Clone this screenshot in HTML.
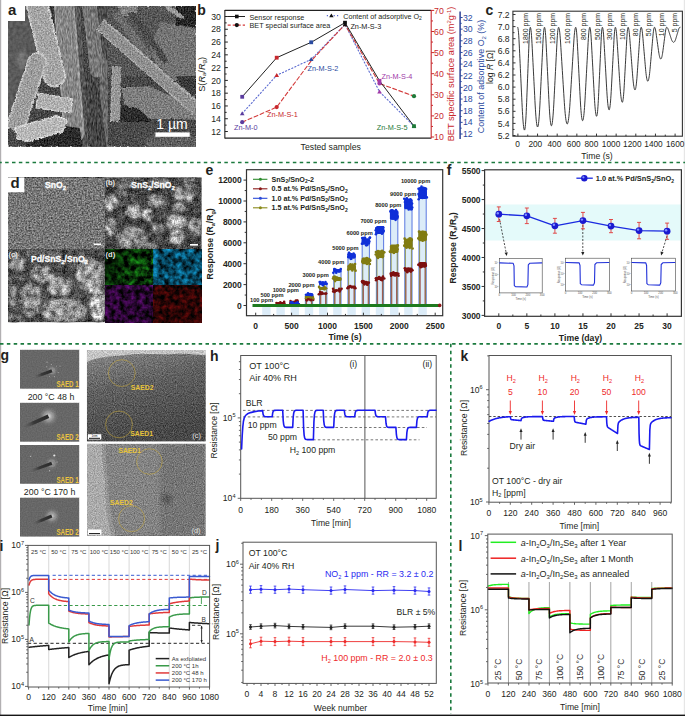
<!DOCTYPE html>
<html><head><meta charset="utf-8"><style>
html,body{margin:0;padding:0;background:#fff;}
svg{display:block;}
text{font-family:"Liberation Sans", sans-serif;}
</style></head><body>
<svg width="685" height="716" viewBox="0 0 685 716" font-family='"Liberation Sans", sans-serif'>
<defs>
<filter id="grain" x="0" y="0" width="100%" height="100%" color-interpolation-filters="sRGB">
  <feTurbulence type="fractalNoise" baseFrequency="0.3" numOctaves="2" seed="6" result="d"/>
  <feDisplacementMap in="SourceGraphic" in2="d" scale="4" xChannelSelector="R" yChannelSelector="G" result="disp"/>
  <feTurbulence type="fractalNoise" baseFrequency="0.7" numOctaves="2" seed="4" result="n"/>
  <feColorMatrix in="n" type="matrix" values="1 0 0 0 0 1 0 0 0 0 1 0 0 0 0 0 0 0 0 1" result="g"/>
  <feComposite in="disp" in2="g" operator="arithmetic" k1="0" k2="1" k3="0.5" k4="-0.25" result="c"/>
  <feComposite in="c" in2="SourceAlpha" operator="in"/>
</filter>
<filter id="grainS" x="0" y="0" width="100%" height="100%" color-interpolation-filters="sRGB">
  <feTurbulence type="fractalNoise" baseFrequency="0.3" numOctaves="2" seed="9" result="n"/>
  <feColorMatrix in="n" type="matrix" values="1 0 0 0 0 1 0 0 0 0 1 0 0 0 0 0 0 0 0 1" result="g"/>
  <feComposite in="SourceGraphic" in2="g" operator="arithmetic" k1="0" k2="1" k3="0.2" k4="-0.1" result="c"/>
  <feComposite in="c" in2="SourceAlpha" operator="in"/>
</filter>
<filter id="fib" x="0" y="0" width="100%" height="100%" color-interpolation-filters="sRGB">
  <feTurbulence type="fractalNoise" baseFrequency="0.8 0.22" numOctaves="2" seed="14" result="n"/>
  <feColorMatrix in="n" type="matrix" values="1 0 0 0 0 1 0 0 0 0 1 0 0 0 0 0 0 0 0 1" result="g"/>
  <feComposite in="SourceGraphic" in2="g" operator="arithmetic" k1="0" k2="1" k3="0.5" k4="-0.25" result="c"/>
  <feComposite in="c" in2="SourceAlpha" operator="in"/>
</filter>
<filter id="blur1" x="-10%" y="-10%" width="120%" height="120%"><feGaussianBlur stdDeviation="1"/></filter>
<filter id="blur2" x="-20%" y="-20%" width="140%" height="140%"><feGaussianBlur stdDeviation="2"/></filter>
<clipPath id="clipA"><rect x="8" y="6" width="188" height="140.7"/></clipPath>

<filter id="fineSn" x="0" y="0" width="100%" height="100%" color-interpolation-filters="sRGB">
  <feTurbulence type="fractalNoise" baseFrequency="0.62" numOctaves="2" seed="11" result="n"/>
  <feColorMatrix in="n" type="matrix" values="1 0 0 0 0 1 0 0 0 0 1 0 0 0 0 0 0 0 0 1" result="g"/>
  <feComposite in="SourceGraphic" in2="g" operator="arithmetic" k1="0" k2="1" k3="0.7" k4="-0.35"/>
</filter>
<filter id="clump1" x="0" y="0" width="100%" height="100%" color-interpolation-filters="sRGB">
  <feTurbulence type="fractalNoise" baseFrequency="0.1" numOctaves="4" seed="2" result="n1"/>
  <feColorMatrix in="n1" type="matrix" values="1 0 0 0 0 1 0 0 0 0 1 0 0 0 0 0 0 0 0 1" result="g1"/>
  <feComponentTransfer in="g1" result="c1"><feFuncR type="table" tableValues="0.04 0.06 0.1 0.17 0.3 0.45 0.58 0.7 0.83 1"/><feFuncG type="table" tableValues="0.04 0.06 0.1 0.17 0.3 0.45 0.58 0.7 0.83 1"/><feFuncB type="table" tableValues="0.04 0.06 0.1 0.17 0.3 0.45 0.58 0.7 0.83 1"/></feComponentTransfer>
  <feTurbulence type="fractalNoise" baseFrequency="0.65" numOctaves="2" seed="5" result="n2"/>
  <feColorMatrix in="n2" type="matrix" values="1 0 0 0 0 1 0 0 0 0 1 0 0 0 0 0 0 0 0 1" result="g2"/>
  <feComposite in="c1" in2="g2" operator="arithmetic" k1="0" k2="1" k3="0.55" k4="-0.275"/>
</filter>
<filter id="clump2" x="0" y="0" width="100%" height="100%" color-interpolation-filters="sRGB">
  <feTurbulence type="fractalNoise" baseFrequency="0.085" numOctaves="4" seed="7" result="n1"/>
  <feColorMatrix in="n1" type="matrix" values="1 0 0 0 0 1 0 0 0 0 1 0 0 0 0 0 0 0 0 1" result="g1"/>
  <feComponentTransfer in="g1" result="c1"><feFuncR type="table" tableValues="0.04 0.07 0.11 0.19 0.32 0.47 0.6 0.72 0.84 1"/><feFuncG type="table" tableValues="0.04 0.07 0.11 0.19 0.32 0.47 0.6 0.72 0.84 1"/><feFuncB type="table" tableValues="0.04 0.07 0.11 0.19 0.32 0.47 0.6 0.72 0.84 1"/></feComponentTransfer>
  <feTurbulence type="fractalNoise" baseFrequency="0.65" numOctaves="2" seed="8" result="n2"/>
  <feColorMatrix in="n2" type="matrix" values="1 0 0 0 0 1 0 0 0 0 1 0 0 0 0 0 0 0 0 1" result="g2"/>
  <feComposite in="c1" in2="g2" operator="arithmetic" k1="0" k2="1" k3="0.55" k4="-0.275"/>
</filter>
<filter id="dgrain" x="0" y="0" width="100%" height="100%" color-interpolation-filters="sRGB">
  <feTurbulence type="fractalNoise" baseFrequency="0.16" numOctaves="3" seed="17" result="n1"/>
  <feColorMatrix in="n1" type="matrix" values="1 0 0 0 0 1 0 0 0 0 1 0 0 0 0 0 0 0 0 1" result="g1"/>
  <feTurbulence type="fractalNoise" baseFrequency="0.7" numOctaves="2" seed="19" result="n2"/>
  <feColorMatrix in="n2" type="matrix" values="1 0 0 0 0 1 0 0 0 0 1 0 0 0 0 0 0 0 0 1" result="g2"/>
  <feComposite in="SourceGraphic" in2="g1" operator="arithmetic" k1="1.5" k2="0.25" k3="0" k4="0" result="s1"/>
  <feComposite in="s1" in2="g2" operator="arithmetic" k1="0" k2="1" k3="0.6" k4="-0.3" result="s2"/>
  <feComposite in="s2" in2="SourceAlpha" operator="in"/>
</filter>
<filter id="eblur" x="-30%" y="-30%" width="160%" height="160%"><feGaussianBlur stdDeviation="1.1"/></filter>
<filter id="edsG" x="0" y="0" width="100%" height="100%" color-interpolation-filters="sRGB">
  <feTurbulence type="fractalNoise" baseFrequency="0.17" numOctaves="3" seed="21" result="n1"/>
  <feColorMatrix in="n1" type="matrix" values="0.22 0 0 0 -0.07  1.3 0 0 0 -0.42  0.22 0 0 0 -0.07  0 0 0 0 1"/>
</filter>
<filter id="edsC" x="0" y="0" width="100%" height="100%" color-interpolation-filters="sRGB">
  <feTurbulence type="fractalNoise" baseFrequency="0.17" numOctaves="3" seed="21" result="n1"/>
  <feColorMatrix in="n1" type="matrix" values="0.12 0 0 0 -0.03  1.0 0 0 0 -0.21  1.35 0 0 0 -0.28  0 0 0 0 1"/>
</filter>
<filter id="edsP" x="0" y="0" width="100%" height="100%" color-interpolation-filters="sRGB">
  <feTurbulence type="fractalNoise" baseFrequency="0.2" numOctaves="3" seed="23" result="n1"/>
  <feColorMatrix in="n1" type="matrix" values="0.65 0 0 0 -0.17  0.07 0 0 0 -0.01  0.8 0 0 0 -0.21  0 0 0 0 1"/>
</filter>
<filter id="edsR" x="0" y="0" width="100%" height="100%" color-interpolation-filters="sRGB">
  <feTurbulence type="fractalNoise" baseFrequency="0.2" numOctaves="3" seed="25" result="n1"/>
  <feColorMatrix in="n1" type="matrix" values="0.75 0 0 0 -0.2  0.06 0 0 0 -0.01  0.06 0 0 0 -0.01  0 0 0 0 1"/>
</filter>

<filter id="temN" x="0" y="0" width="100%" height="100%" color-interpolation-filters="sRGB">
  <feTurbulence type="fractalNoise" baseFrequency="0.9" numOctaves="2" seed="31" result="n"/>
  <feColorMatrix in="n" type="matrix" values="1 0 0 0 0 1 0 0 0 0 1 0 0 0 0 0 0 0 0 1" result="g"/>
  <feComposite in="SourceGraphic" in2="g" operator="arithmetic" k1="0" k2="1" k3="0.42" k4="-0.21"/>
</filter>
<filter id="saedN" x="0" y="0" width="100%" height="100%" color-interpolation-filters="sRGB">
  <feTurbulence type="fractalNoise" baseFrequency="0.8" numOctaves="1" seed="41" result="n"/>
  <feColorMatrix in="n" type="matrix" values="1 0 0 0 0 1 0 0 0 0 1 0 0 0 0 0 0 0 0 1" result="g"/>
  <feComposite in="SourceGraphic" in2="g" operator="arithmetic" k1="0" k2="1" k3="0.12" k4="-0.06"/>
</filter>
<radialGradient id="halo" cx="0.5" cy="0.5" r="0.5"><stop offset="0" stop-color="#fff" stop-opacity="0.9"/><stop offset="0.35" stop-color="#ddd" stop-opacity="0.5"/><stop offset="1" stop-color="#888" stop-opacity="0"/></radialGradient>
<linearGradient id="temC" x1="0" y1="0" x2="0.3" y2="1"><stop offset="0" stop-color="#989898"/><stop offset="0.12" stop-color="#7e7e7e"/><stop offset="0.45" stop-color="#606060"/><stop offset="1" stop-color="#484848"/></linearGradient>
<linearGradient id="temD" x1="0" y1="0" x2="1" y2="0"><stop offset="0" stop-color="#a6a6a6"/><stop offset="0.12" stop-color="#a2a2a2"/><stop offset="0.2" stop-color="#8a8a8a"/><stop offset="0.6" stop-color="#777"/><stop offset="1" stop-color="#6a6a6a"/></linearGradient>
<clipPath id="clipTC"><rect x="86.9" y="349.9" width="118.8" height="91.6"/></clipPath>
<clipPath id="clipTD"><rect x="87" y="443.8" width="118.6" height="92.1"/></clipPath>
</defs>
<rect x="0" y="0" width="1.2" height="716" fill="#b2b0b2" />
<rect x="683.8" y="0" width="1.2" height="716" fill="#e6e6e6" />
<rect x="0" y="714.6" width="685" height="1.4" fill="#161616" />
<line x1="0" y1="162.5" x2="685" y2="162.5" stroke="#1b7a3e" stroke-width="1.7" stroke-dasharray="3.5 3.35" stroke-dashoffset="1.7"/>
<line x1="0" y1="343.8" x2="685" y2="343.8" stroke="#1b7a3e" stroke-width="1.7" stroke-dasharray="3.5 3.35"/>
<line x1="450.8" y1="343.8" x2="450.8" y2="714" stroke="#1b7a3e" stroke-width="1.6" stroke-dasharray="3.5 3.35"/>
<g clip-path="url(#clipA)">
<g filter="url(#grainS)">
<rect x="8" y="6" width="40" height="135" fill="#5a5a5a" />
<ellipse cx="22" cy="60" rx="5" ry="8" fill="#787878" filter="url(#blur2)"/>
</g>
<g filter="url(#grain)">
<polygon points="30,6 196,6 196,147 8,147 8,126 20,118 30,90 38,60" fill="#474747" />
<rect x="100" y="6" width="96" height="70" fill="#565656" />
<rect x="176" y="6" width="20" height="22" fill="#262626" />
<polygon points="118,6 138,6 136,16 122,16" fill="#858585" />
<line x1="166" y1="5" x2="181" y2="17" stroke="#9a9a9a" stroke-width="5" stroke-linecap="round" />
<polygon points="160,22 196,28 196,80 160,80 150,48" fill="#737373" />
<line x1="118" y1="16" x2="148" y2="56" stroke="#6c6c6c" stroke-width="8" stroke-linecap="round" />
<line x1="132" y1="14" x2="165" y2="60" stroke="#4a4a4a" stroke-width="6" stroke-linecap="round" />
</g><g filter="url(#fib)">
<line x1="104" y1="0" x2="108" y2="150" stroke="#4c4c4c" stroke-width="12" stroke-linecap="round" />
<line x1="103" y1="62" x2="106" y2="150" stroke="#6a6a6a" stroke-width="9" stroke-linecap="round" />
<line x1="90" y1="80" x2="99" y2="150" stroke="#454545" stroke-width="16" stroke-linecap="round" />
<line x1="88.5" y1="-2" x2="97" y2="70" stroke="#777" stroke-width="15" stroke-linecap="round" />
<line x1="77.5" y1="-2" x2="86" y2="150" stroke="#555" stroke-width="6" stroke-linecap="round" />
<line x1="63.5" y1="-4" x2="74" y2="133" stroke="#9a9a9a" stroke-width="21" stroke-linecap="round" />
<line x1="63.5" y1="-4" x2="74" y2="133" stroke="#868686" stroke-width="17" stroke-linecap="round" />
<line x1="50.5" y1="6" x2="54" y2="32" stroke="#3a3a3a" stroke-width="2.5" />
</g><g filter="url(#grain)">
<line x1="34.5" y1="-6" x2="54.5" y2="76" stroke="#c8c8c8" stroke-width="23.5" stroke-linecap="round" />
<line x1="34.5" y1="-6" x2="54.5" y2="76" stroke="#a4a4a4" stroke-width="19" stroke-linecap="round" />
<line x1="16" y1="126" x2="37" y2="62" stroke="#c4c4c4" stroke-width="20" stroke-linecap="round" />
<line x1="16" y1="126" x2="37" y2="62" stroke="#9e9e9e" stroke-width="16" stroke-linecap="round" />
<polygon points="38,93 73,99 71,113 36,108" fill="#b0b0b0" stroke="#d2d2d2" stroke-width="1.5" stroke-linejoin="round"/>
<polygon points="26,143 45,133 66,126 80,128 82,147 26,147" fill="#2a2a2a" />
<polygon points="8,128 16,132 20,147 8,147" fill="#4a4a4a" />
<polygon points="15,128 56,115.5 68,120 62,132 27,141.5 18,139" fill="#b8b8b8" stroke="#dadada" stroke-width="1.5" stroke-linejoin="round"/>
<polygon points="121,87 150,86 178,99 196,110 196,120 150,119 124,104" fill="#7d7d7d" />
<polygon points="117,103 140,110 152,121 152,135 116,135" fill="#2c2c2c" />
<polygon points="116,122 196,122 196,147 116,147" fill="#4a4a4a" />
<ellipse cx="172" cy="142" rx="26" ry="10" fill="#5e5e5e"/>
<polygon points="176,76 196,76 196,98 186,94" fill="#3a3a3a" />
<line x1="100" y1="24" x2="197" y2="109" stroke="#8f8f8f" stroke-width="14" stroke-linecap="butt" />
<line x1="103" y1="19.5" x2="199" y2="104" stroke="#b0b0b0" stroke-width="1.6" stroke-linecap="butt" />
<line x1="96" y1="29" x2="193" y2="114" stroke="#a8a8a8" stroke-width="1.2" stroke-linecap="butt" />
<line x1="117" y1="66" x2="115" y2="122" stroke="#969696" stroke-width="10" stroke-linecap="butt" />
<line x1="112.2" y1="70" x2="110.5" y2="122" stroke="#b5b5b5" stroke-width="1.2" stroke-linecap="butt" />
</g></g>
<rect x="8" y="6" width="17" height="15" fill="#fff" />
<text x="7.9" y="15.4" font-size="15" font-weight="bold" fill="#231f20">a</text>
<text x="172" y="128.6" font-size="14" text-anchor="middle" fill="#fff">1 &#181;m</text>
<rect x="155.4" y="132.4" width="34.3" height="4.4" fill="#fff" />
<line x1="224.85" y1="10.4" x2="431.2" y2="10.4" stroke="#222" stroke-width="1.1" />
<line x1="224.85" y1="138.1" x2="431.2" y2="138.1" stroke="#222" stroke-width="1.1" />
<line x1="224.85" y1="9.9" x2="224.85" y2="138.6" stroke="#222" stroke-width="1.1" />
<line x1="431.2" y1="9.9" x2="431.2" y2="138.6" stroke="#c8282d" stroke-width="1.1" />
<line x1="224.85" y1="131.52" x2="227.85" y2="131.52" stroke="#222" stroke-width="1" />
<text x="220.8" y="134.62" font-size="8.7" text-anchor="end" fill="#231f20">12</text>
<line x1="224.85" y1="118.74" x2="227.85" y2="118.74" stroke="#222" stroke-width="1" />
<text x="220.8" y="121.84" font-size="8.7" text-anchor="end" fill="#231f20">14</text>
<line x1="224.85" y1="105.96" x2="227.85" y2="105.96" stroke="#222" stroke-width="1" />
<text x="220.8" y="109.06" font-size="8.7" text-anchor="end" fill="#231f20">16</text>
<line x1="224.85" y1="93.18" x2="227.85" y2="93.18" stroke="#222" stroke-width="1" />
<text x="220.8" y="96.28" font-size="8.7" text-anchor="end" fill="#231f20">18</text>
<line x1="224.85" y1="80.4" x2="227.85" y2="80.4" stroke="#222" stroke-width="1" />
<text x="220.8" y="83.5" font-size="8.7" text-anchor="end" fill="#231f20">20</text>
<line x1="224.85" y1="67.62" x2="227.85" y2="67.62" stroke="#222" stroke-width="1" />
<text x="220.8" y="70.72" font-size="8.7" text-anchor="end" fill="#231f20">22</text>
<line x1="224.85" y1="54.84" x2="227.85" y2="54.84" stroke="#222" stroke-width="1" />
<text x="220.8" y="57.94" font-size="8.7" text-anchor="end" fill="#231f20">24</text>
<line x1="224.85" y1="42.06" x2="227.85" y2="42.06" stroke="#222" stroke-width="1" />
<text x="220.8" y="45.16" font-size="8.7" text-anchor="end" fill="#231f20">26</text>
<line x1="224.85" y1="29.28" x2="227.85" y2="29.28" stroke="#222" stroke-width="1" />
<text x="220.8" y="32.38" font-size="8.7" text-anchor="end" fill="#231f20">28</text>
<line x1="224.85" y1="16.5" x2="227.85" y2="16.5" stroke="#222" stroke-width="1" />
<text x="220.8" y="19.6" font-size="8.7" text-anchor="end" fill="#231f20">30</text>
<line x1="224.85" y1="125.13" x2="226.65" y2="125.13" stroke="#222" stroke-width="1" />
<line x1="224.85" y1="112.35" x2="226.65" y2="112.35" stroke="#222" stroke-width="1" />
<line x1="224.85" y1="99.57" x2="226.65" y2="99.57" stroke="#222" stroke-width="1" />
<line x1="224.85" y1="86.79" x2="226.65" y2="86.79" stroke="#222" stroke-width="1" />
<line x1="224.85" y1="74.01" x2="226.65" y2="74.01" stroke="#222" stroke-width="1" />
<line x1="224.85" y1="61.23" x2="226.65" y2="61.23" stroke="#222" stroke-width="1" />
<line x1="224.85" y1="48.45" x2="226.65" y2="48.45" stroke="#222" stroke-width="1" />
<line x1="224.85" y1="35.67" x2="226.65" y2="35.67" stroke="#222" stroke-width="1" />
<line x1="224.85" y1="22.89" x2="226.65" y2="22.89" stroke="#222" stroke-width="1" />
<line x1="431.2" y1="137" x2="434.2" y2="137" stroke="#c8282d" stroke-width="1" />
<text x="434.1" y="140.1" font-size="8.7" fill="#c8282d">10</text>
<line x1="431.2" y1="115.9" x2="434.2" y2="115.9" stroke="#c8282d" stroke-width="1" />
<text x="434.1" y="119" font-size="8.7" fill="#c8282d">20</text>
<line x1="431.2" y1="94.8" x2="434.2" y2="94.8" stroke="#c8282d" stroke-width="1" />
<text x="434.1" y="97.9" font-size="8.7" fill="#c8282d">30</text>
<line x1="431.2" y1="73.7" x2="434.2" y2="73.7" stroke="#c8282d" stroke-width="1" />
<text x="434.1" y="76.8" font-size="8.7" fill="#c8282d">40</text>
<line x1="431.2" y1="52.6" x2="434.2" y2="52.6" stroke="#c8282d" stroke-width="1" />
<text x="434.1" y="55.7" font-size="8.7" fill="#c8282d">50</text>
<line x1="431.2" y1="31.5" x2="434.2" y2="31.5" stroke="#c8282d" stroke-width="1" />
<text x="434.1" y="34.6" font-size="8.7" fill="#c8282d">60</text>
<line x1="431.2" y1="10.4" x2="434.2" y2="10.4" stroke="#c8282d" stroke-width="1" />
<text x="434.1" y="13.5" font-size="8.7" fill="#c8282d">70</text>
<line x1="431.2" y1="126.45" x2="433" y2="126.45" stroke="#c8282d" stroke-width="1" />
<line x1="431.2" y1="105.35" x2="433" y2="105.35" stroke="#c8282d" stroke-width="1" />
<line x1="431.2" y1="84.25" x2="433" y2="84.25" stroke="#c8282d" stroke-width="1" />
<line x1="431.2" y1="63.15" x2="433" y2="63.15" stroke="#c8282d" stroke-width="1" />
<line x1="431.2" y1="42.05" x2="433" y2="42.05" stroke="#c8282d" stroke-width="1" />
<line x1="431.2" y1="20.95" x2="433" y2="20.95" stroke="#c8282d" stroke-width="1" />
<line x1="460.1" y1="11.4" x2="460.1" y2="139.1" stroke="#1f3590" stroke-width="1.4" />
<line x1="460.1" y1="134" x2="462.6" y2="134" stroke="#2a4aa0" stroke-width="1" />
<text x="463" y="137.1" font-size="8.7" fill="#2a4aa0">12</text>
<line x1="460.1" y1="122.35" x2="462.6" y2="122.35" stroke="#2a4aa0" stroke-width="1" />
<text x="463" y="125.45" font-size="8.7" fill="#2a4aa0">14</text>
<line x1="460.1" y1="110.7" x2="462.6" y2="110.7" stroke="#2a4aa0" stroke-width="1" />
<text x="463" y="113.8" font-size="8.7" fill="#2a4aa0">18</text>
<line x1="460.1" y1="99.05" x2="462.6" y2="99.05" stroke="#2a4aa0" stroke-width="1" />
<text x="463" y="102.15" font-size="8.7" fill="#2a4aa0">18</text>
<line x1="460.1" y1="87.4" x2="462.6" y2="87.4" stroke="#2a4aa0" stroke-width="1" />
<text x="463" y="90.5" font-size="8.7" fill="#2a4aa0">20</text>
<line x1="460.1" y1="75.75" x2="462.6" y2="75.75" stroke="#2a4aa0" stroke-width="1" />
<text x="463" y="78.85" font-size="8.7" fill="#2a4aa0">22</text>
<line x1="460.1" y1="64.1" x2="462.6" y2="64.1" stroke="#2a4aa0" stroke-width="1" />
<text x="463" y="67.2" font-size="8.7" fill="#2a4aa0">24</text>
<line x1="460.1" y1="52.45" x2="462.6" y2="52.45" stroke="#2a4aa0" stroke-width="1" />
<text x="463" y="55.55" font-size="8.7" fill="#2a4aa0">26</text>
<line x1="460.1" y1="40.8" x2="462.6" y2="40.8" stroke="#2a4aa0" stroke-width="1" />
<text x="463" y="43.9" font-size="8.7" fill="#2a4aa0">28</text>
<line x1="460.1" y1="29.15" x2="462.6" y2="29.15" stroke="#2a4aa0" stroke-width="1" />
<text x="463" y="32.25" font-size="8.7" fill="#2a4aa0">30</text>
<line x1="460.1" y1="17.5" x2="462.6" y2="17.5" stroke="#2a4aa0" stroke-width="1" />
<text x="463" y="20.6" font-size="8.7" fill="#2a4aa0">32</text>
<line x1="460.1" y1="128.18" x2="461.7" y2="128.18" stroke="#2a4aa0" stroke-width="1" />
<line x1="460.1" y1="116.53" x2="461.7" y2="116.53" stroke="#2a4aa0" stroke-width="1" />
<line x1="460.1" y1="104.88" x2="461.7" y2="104.88" stroke="#2a4aa0" stroke-width="1" />
<line x1="460.1" y1="93.22" x2="461.7" y2="93.22" stroke="#2a4aa0" stroke-width="1" />
<line x1="460.1" y1="81.57" x2="461.7" y2="81.57" stroke="#2a4aa0" stroke-width="1" />
<line x1="460.1" y1="69.92" x2="461.7" y2="69.92" stroke="#2a4aa0" stroke-width="1" />
<line x1="460.1" y1="58.27" x2="461.7" y2="58.27" stroke="#2a4aa0" stroke-width="1" />
<line x1="460.1" y1="46.62" x2="461.7" y2="46.62" stroke="#2a4aa0" stroke-width="1" />
<line x1="460.1" y1="34.97" x2="461.7" y2="34.97" stroke="#2a4aa0" stroke-width="1" />
<line x1="460.1" y1="23.33" x2="461.7" y2="23.33" stroke="#2a4aa0" stroke-width="1" />
<text x="204.6" y="74.4" font-size="9.2" text-anchor="middle" fill="#231f20" transform="rotate(-90 204.6 74.4)">S(<tspan font-style="italic">R</tspan><tspan font-size="6" dy="1.5">a</tspan><tspan dy="-1.5">/<tspan font-style="italic">R</tspan><tspan font-size="6" dy="1.5">g</tspan><tspan dy="-1.5">)</tspan></tspan></text>
<text x="454.2" y="74" font-size="9.2" text-anchor="middle" fill="#c8282d" transform="rotate(-90 454.2 74)">BET specific surface area (m<tspan font-size="6" dy="-3">2</tspan><tspan dy="3">g<tspan font-size="6" dy="-3">-1</tspan><tspan dy="3">)</tspan></tspan></text>
<text x="484" y="76.5" font-size="8.9" text-anchor="middle" fill="#2a4aa0" transform="rotate(-90 484 76.5)">Content of adsorptive O<tspan font-size="6" dy="1.5">2</tspan><tspan dy="-1.5"> (%)</tspan></text>
<text x="330.8" y="150" font-size="8.7" text-anchor="middle" fill="#231f20">Tested samples</text>
<polyline points="242.2,113.5 276.7,75.3 311.2,59.4 345,24.5 379.5,91.7 414,126.2" fill="none" stroke="#5a6ad0" stroke-width="1.1" stroke-linejoin="round" stroke-linecap="round" stroke-dasharray="1.2 2.2"/>
<polyline points="242.2,122.2 276.7,107.1 311.2,60.8 345,24.5 379.5,83.5 414,96.2" fill="none" stroke="#d33a3a" stroke-width="1.1" stroke-linejoin="round" stroke-linecap="round" stroke-dasharray="4 2.5"/>
<polyline points="242.2,96.8 276.7,57.7 311.2,42.3 345,22.7 379.5,80.8 414,126.2" fill="none" stroke="#222" stroke-width="1" stroke-linejoin="round" stroke-linecap="round" />
<rect x="240.3" y="94.9" width="3.8" height="3.8" fill="#5b3c9e" />
<circle cx="242.2" cy="122.2" r="2.1" fill="#5b3c9e" />
<polygon points="242.2,111.2 244.5,115.2 239.9,115.2" fill="#5b3c9e" />
<rect x="274.8" y="55.8" width="3.8" height="3.8" fill="#c8282d" />
<circle cx="276.7" cy="107.1" r="2.1" fill="#c8282d" />
<polygon points="276.7,73 279,77 274.4,77" fill="#c8282d" />
<rect x="309.3" y="40.4" width="3.8" height="3.8" fill="#2a4aa0" />
<polygon points="311.2,57.1 313.5,61.1 308.9,61.1" fill="#2a4aa0" />
<rect x="343.1" y="20.8" width="3.8" height="3.8" fill="#111" />
<polygon points="345,22.2 347.3,26.2 342.7,26.2" fill="#111" />
<rect x="377.6" y="78.9" width="3.8" height="3.8" fill="#a03aa8" />
<circle cx="379.5" cy="83.5" r="2.1" fill="#a03aa8" />
<polygon points="379.5,89.4 381.8,93.4 377.2,93.4" fill="#a03aa8" />
<rect x="412.1" y="124.3" width="3.8" height="3.8" fill="#1f7a3a" />
<circle cx="414" cy="96.2" r="2.1" fill="#1f7a3a" />
<polygon points="414,123.9 416.3,127.9 411.7,127.9" fill="#1f7a3a" />
<text x="234" y="129.6" font-size="7.3" fill="#5b3c9e">Zn-M-0</text>
<text x="267" y="117.4" font-size="7.3" fill="#c8282d">Zn-M-S-1</text>
<text x="307.6" y="70.6" font-size="7.3" fill="#2a4aa0">Zn-M-S-2</text>
<text x="350.4" y="29.2" font-size="7.3" fill="#222">Zn-M-S-3</text>
<text x="381.6" y="79.3" font-size="7.3" fill="#a03aa8">Zn-M-S-4</text>
<text x="376.7" y="129.6" font-size="7.3" fill="#1f7a3a">Zn-M-S-5</text>
<line x1="227.7" y1="16.5" x2="245" y2="16.5" stroke="#222" stroke-width="1" />
<rect x="235" y="14.7" width="3.6" height="3.6" fill="#111" />
<text x="249.5" y="19.8" font-size="7.25" fill="#231f20">Sensor response</text>
<line x1="227.7" y1="25.1" x2="245" y2="25.1" stroke="#d33a3a" stroke-width="1.1" stroke-dasharray="3 2"/>
<circle cx="236.8" cy="25.1" r="2.1" fill="#111" />
<text x="249.5" y="27.6" font-size="7.25" fill="#231f20">BET special surface area</text>
<line x1="326.8" y1="15.6" x2="338.6" y2="15.6" stroke="#5a6ad0" stroke-width="1.1" stroke-dasharray="1.2 2.2"/>
<polygon points="331.4,13.4 333.6,17.2 329.2,17.2" fill="#111" />
<text x="343.2" y="18.6" font-size="7.2" fill="#231f20">Content of adsorptive O<tspan font-size="5" dy="1.5">2</tspan><tspan dy="-1.5"></tspan></text>
<text x="197.3" y="15.2" font-size="14" font-weight="bold" fill="#231f20">b</text>
<rect x="512.9" y="11.2" width="169.5" height="125" fill="none" stroke="#333" stroke-width="1.1"/>
<line x1="512.9" y1="135.5" x2="515.5" y2="135.5" stroke="#333" stroke-width="1" />
<text x="509.6" y="138.6" font-size="8.6" text-anchor="end" fill="#231f20">5.2</text>
<line x1="512.9" y1="129.45" x2="514.5" y2="129.45" stroke="#333" stroke-width="1" />
<line x1="512.9" y1="123.4" x2="515.5" y2="123.4" stroke="#333" stroke-width="1" />
<text x="509.6" y="126.5" font-size="8.6" text-anchor="end" fill="#231f20">5.4</text>
<line x1="512.9" y1="117.35" x2="514.5" y2="117.35" stroke="#333" stroke-width="1" />
<line x1="512.9" y1="111.3" x2="515.5" y2="111.3" stroke="#333" stroke-width="1" />
<text x="509.6" y="114.4" font-size="8.6" text-anchor="end" fill="#231f20">5.6</text>
<line x1="512.9" y1="105.25" x2="514.5" y2="105.25" stroke="#333" stroke-width="1" />
<line x1="512.9" y1="99.2" x2="515.5" y2="99.2" stroke="#333" stroke-width="1" />
<text x="509.6" y="102.3" font-size="8.6" text-anchor="end" fill="#231f20">5.8</text>
<line x1="512.9" y1="93.15" x2="514.5" y2="93.15" stroke="#333" stroke-width="1" />
<line x1="512.9" y1="87.1" x2="515.5" y2="87.1" stroke="#333" stroke-width="1" />
<text x="509.6" y="90.2" font-size="8.6" text-anchor="end" fill="#231f20">6.0</text>
<line x1="512.9" y1="81.05" x2="514.5" y2="81.05" stroke="#333" stroke-width="1" />
<line x1="512.9" y1="75" x2="515.5" y2="75" stroke="#333" stroke-width="1" />
<text x="509.6" y="78.1" font-size="8.6" text-anchor="end" fill="#231f20">6.2</text>
<line x1="512.9" y1="68.95" x2="514.5" y2="68.95" stroke="#333" stroke-width="1" />
<line x1="512.9" y1="62.9" x2="515.5" y2="62.9" stroke="#333" stroke-width="1" />
<text x="509.6" y="66" font-size="8.6" text-anchor="end" fill="#231f20">6.4</text>
<line x1="512.9" y1="56.85" x2="514.5" y2="56.85" stroke="#333" stroke-width="1" />
<line x1="512.9" y1="50.8" x2="515.5" y2="50.8" stroke="#333" stroke-width="1" />
<text x="509.6" y="53.9" font-size="8.6" text-anchor="end" fill="#231f20">6.6</text>
<line x1="512.9" y1="44.75" x2="514.5" y2="44.75" stroke="#333" stroke-width="1" />
<line x1="512.9" y1="38.7" x2="515.5" y2="38.7" stroke="#333" stroke-width="1" />
<text x="509.6" y="41.8" font-size="8.6" text-anchor="end" fill="#231f20">6.8</text>
<line x1="512.9" y1="32.65" x2="514.5" y2="32.65" stroke="#333" stroke-width="1" />
<line x1="512.9" y1="26.6" x2="515.5" y2="26.6" stroke="#333" stroke-width="1" />
<text x="509.6" y="29.7" font-size="8.6" text-anchor="end" fill="#231f20">7.0</text>
<line x1="512.9" y1="20.55" x2="514.5" y2="20.55" stroke="#333" stroke-width="1" />
<line x1="512.9" y1="14.5" x2="515.5" y2="14.5" stroke="#333" stroke-width="1" />
<text x="509.6" y="17.6" font-size="8.6" text-anchor="end" fill="#231f20">7.2</text>
<line x1="517.9" y1="136.2" x2="517.9" y2="133.6" stroke="#333" stroke-width="1" />
<text x="517.6" y="147.2" font-size="8.3" text-anchor="middle" fill="#231f20">0</text>
<line x1="527.73" y1="136.2" x2="527.73" y2="134.6" stroke="#333" stroke-width="1" />
<line x1="537.55" y1="136.2" x2="537.55" y2="133.6" stroke="#333" stroke-width="1" />
<text x="535.3" y="147.2" font-size="8.3" text-anchor="middle" fill="#231f20">200</text>
<line x1="547.38" y1="136.2" x2="547.38" y2="134.6" stroke="#333" stroke-width="1" />
<line x1="557.2" y1="136.2" x2="557.2" y2="133.6" stroke="#333" stroke-width="1" />
<text x="554.4" y="147.2" font-size="8.3" text-anchor="middle" fill="#231f20">400</text>
<line x1="567.02" y1="136.2" x2="567.02" y2="134.6" stroke="#333" stroke-width="1" />
<line x1="576.85" y1="136.2" x2="576.85" y2="133.6" stroke="#333" stroke-width="1" />
<text x="573.7" y="147.2" font-size="8.3" text-anchor="middle" fill="#231f20">600</text>
<line x1="586.67" y1="136.2" x2="586.67" y2="134.6" stroke="#333" stroke-width="1" />
<line x1="596.5" y1="136.2" x2="596.5" y2="133.6" stroke="#333" stroke-width="1" />
<text x="591.4" y="147.2" font-size="8.3" text-anchor="middle" fill="#231f20">800</text>
<line x1="606.32" y1="136.2" x2="606.32" y2="134.6" stroke="#333" stroke-width="1" />
<line x1="616.15" y1="136.2" x2="616.15" y2="133.6" stroke="#333" stroke-width="1" />
<text x="611.1" y="147.2" font-size="8.3" text-anchor="middle" fill="#231f20">1000</text>
<line x1="625.97" y1="136.2" x2="625.97" y2="134.6" stroke="#333" stroke-width="1" />
<line x1="635.8" y1="136.2" x2="635.8" y2="133.6" stroke="#333" stroke-width="1" />
<text x="632.3" y="147.2" font-size="8.3" text-anchor="middle" fill="#231f20">1200</text>
<line x1="645.62" y1="136.2" x2="645.62" y2="134.6" stroke="#333" stroke-width="1" />
<line x1="655.45" y1="136.2" x2="655.45" y2="133.6" stroke="#333" stroke-width="1" />
<text x="653.5" y="147.2" font-size="8.3" text-anchor="middle" fill="#231f20">1400</text>
<line x1="665.27" y1="136.2" x2="665.27" y2="134.6" stroke="#333" stroke-width="1" />
<line x1="675.1" y1="136.2" x2="675.1" y2="133.6" stroke="#333" stroke-width="1" />
<text x="675.2" y="147.2" font-size="8.3" text-anchor="middle" fill="#231f20">1600</text>
<text x="597" y="159" font-size="8.7" text-anchor="middle" fill="#231f20">Time (s)</text>
<text x="493.2" y="67" font-size="8.7" text-anchor="middle" fill="#231f20" transform="rotate(-90 493.2 67)">log <tspan font-style="italic">R</tspan> [&#937;]</text>
<text x="485.5" y="14.6" font-size="14" font-weight="bold" fill="#231f20">c</text>
<polyline points="517.6,27.3 517.83,27.64 518.06,28.66 518.29,30.36 518.52,32.74 518.75,35.8 518.98,39.54 519.21,43.96 519.44,48.84 519.67,53.73 519.9,58.63 520.13,63.52 520.36,68.42 520.59,73.32 520.82,78.21 521.05,83.11 521.28,88 521.51,92.9 521.74,97.79 521.97,102.69 522.2,107.44 522.43,111.74 522.66,115.6 522.89,119 523.12,121.94 523.35,124.43 523.58,126.47 523.81,128.06 524.04,129.19 524.27,129.87 524.5,130.1 524.69,129.87 524.89,129.19 525.08,128.06 525.27,126.47 525.47,124.43 525.66,121.94 525.85,119 526.05,115.6 526.24,111.74 526.43,107.44 526.63,102.69 526.82,97.79 527.01,92.9 527.21,88 527.4,83.11 527.59,78.21 527.79,73.32 527.98,68.42 528.17,63.52 528.37,58.63 528.56,53.73 528.75,48.84 528.95,43.96 529.14,39.54 529.33,35.8 529.53,32.74 529.72,30.36 529.91,28.66 530.11,27.64 530.3,27.3 530.3,27.3 530.54,27.63 530.79,28.62 531.03,30.27 531.27,32.58 531.52,35.54 531.76,39.17 532,43.46 532.25,48.19 532.49,52.94 532.73,57.68 532.98,62.43 533.22,67.18 533.46,71.93 533.71,76.68 533.95,81.42 534.19,86.17 534.44,90.92 534.68,95.67 534.92,100.41 535.17,105.02 535.41,109.2 535.65,112.93 535.9,116.23 536.14,119.09 536.38,121.51 536.63,123.48 536.87,125.02 537.11,126.12 537.36,126.78 537.6,127 537.83,126.78 538.06,126.12 538.29,125.02 538.52,123.48 538.75,121.51 538.98,119.09 539.21,116.23 539.44,112.93 539.67,109.2 539.9,105.02 540.13,100.41 540.36,95.67 540.59,90.92 540.82,86.17 541.05,81.42 541.28,76.68 541.51,71.93 541.74,67.18 541.97,62.43 542.2,57.68 542.43,52.94 542.66,48.19 542.89,43.46 543.12,39.17 543.35,35.54 543.58,32.58 543.81,30.27 544.04,28.62 544.27,27.63 544.5,27.3 544.5,27.3 544.73,27.63 544.96,28.6 545.19,30.23 545.42,32.51 545.65,35.44 545.88,39.03 546.11,43.26 546.34,47.94 546.57,52.63 546.8,57.32 547.03,62.01 547.26,66.7 547.49,71.39 547.72,76.08 547.95,80.77 548.18,85.46 548.41,90.15 548.64,94.84 548.87,99.53 549.1,104.08 549.33,108.21 549.56,111.9 549.79,115.16 550.02,117.98 550.25,120.37 550.48,122.33 550.71,123.85 550.94,124.93 551.17,125.58 551.4,125.8 551.64,125.58 551.88,124.93 552.12,123.85 552.36,122.33 552.6,120.37 552.84,117.98 553.08,115.16 553.32,111.9 553.56,108.21 553.8,104.08 554.04,99.53 554.28,94.84 554.52,90.15 554.76,85.46 555,80.77 555.24,76.08 555.48,71.39 555.72,66.7 555.96,62.01 556.2,57.32 556.44,52.63 556.68,47.94 556.92,43.26 557.16,39.03 557.4,35.44 557.64,32.51 557.88,30.23 558.12,28.6 558.36,27.63 558.6,27.3 558.6,27.3 558.89,27.62 559.17,28.58 559.46,30.18 559.75,32.42 560.03,35.29 560.32,38.81 560.61,42.97 560.89,47.56 561.18,52.17 561.47,56.77 561.75,61.38 562.04,65.98 562.33,70.58 562.61,75.19 562.9,79.79 563.19,84.4 563.47,89 563.76,93.61 564.05,98.21 564.33,102.68 564.62,106.73 564.91,110.36 565.19,113.55 565.48,116.33 565.77,118.67 566.05,120.59 566.34,122.08 566.63,123.15 566.91,123.79 567.2,124 567.48,123.79 567.77,123.15 568.05,122.08 568.33,120.59 568.62,118.67 568.9,116.33 569.18,113.55 569.47,110.36 569.75,106.73 570.03,102.68 570.32,98.21 570.6,93.61 570.88,89 571.17,84.4 571.45,79.79 571.73,75.19 572.02,70.58 572.3,65.98 572.58,61.38 572.87,56.77 573.15,52.17 573.43,47.56 573.72,42.97 574,38.81 574.28,35.29 574.57,32.42 574.85,30.18 575.13,28.58 575.42,27.62 575.7,27.3 575.7,27.3 575.93,27.61 576.16,28.54 576.39,30.08 576.62,32.24 576.85,35.02 577.08,38.42 577.31,42.43 577.54,46.87 577.77,51.32 578,55.76 578.23,60.21 578.46,64.66 578.69,69.11 578.92,73.56 579.15,78 579.38,82.45 579.61,86.9 579.84,91.35 580.07,95.79 580.3,100.11 580.53,104.02 580.76,107.52 580.99,110.61 581.22,113.29 581.45,115.55 581.68,117.41 581.91,118.85 582.14,119.88 582.37,120.49 582.6,120.7 582.84,120.49 583.08,119.88 583.32,118.85 583.56,117.41 583.8,115.55 584.04,113.29 584.28,110.61 584.52,107.52 584.76,104.02 585,100.11 585.24,95.79 585.48,91.35 585.72,86.9 585.96,82.45 586.2,78 586.44,73.56 586.68,69.11 586.92,64.66 587.16,60.21 587.4,55.76 587.64,51.32 587.88,46.87 588.12,42.43 588.36,38.42 588.6,35.02 588.84,32.24 589.08,30.08 589.32,28.54 589.56,27.61 589.8,27.3 589.8,27.3 590.03,27.59 590.25,28.48 590.48,29.95 590.71,32.01 590.93,34.66 591.16,37.9 591.39,41.72 591.61,45.95 591.84,50.19 592.07,54.42 592.29,58.66 592.52,62.9 592.75,67.14 592.97,71.38 593.2,75.61 593.43,79.85 593.65,84.09 593.88,88.33 594.11,92.57 594.33,96.68 594.56,100.41 594.79,103.74 595.01,106.69 595.24,109.24 595.47,111.39 595.69,113.16 595.92,114.53 596.15,115.52 596.37,116.1 596.6,116.3 596.79,116.1 596.99,115.52 597.18,114.53 597.37,113.16 597.57,111.39 597.76,109.24 597.95,106.69 598.15,103.74 598.34,100.41 598.53,96.68 598.73,92.57 598.92,88.33 599.11,84.09 599.31,79.85 599.5,75.61 599.69,71.38 599.89,67.14 600.08,62.9 600.27,58.66 600.47,54.42 600.66,50.19 600.85,45.95 601.05,41.72 601.24,37.9 601.43,34.66 601.63,32.01 601.82,29.95 602.01,28.48 602.21,27.59 602.4,27.3 602.4,27.3 602.62,27.57 602.85,28.39 603.07,29.76 603.29,31.67 603.52,34.13 603.74,37.13 603.96,40.68 604.19,44.61 604.41,48.54 604.63,52.47 604.86,56.41 605.08,60.34 605.3,64.27 605.53,68.21 605.75,72.14 605.97,76.07 606.2,80.01 606.42,83.94 606.64,87.87 606.87,91.69 607.09,95.15 607.31,98.25 607.54,100.98 607.76,103.34 607.98,105.35 608.21,106.99 608.43,108.26 608.65,109.17 608.88,109.72 609.1,109.9 609.31,109.72 609.52,109.17 609.73,108.26 609.94,106.99 610.15,105.35 610.36,103.34 610.57,100.98 610.78,98.25 610.99,95.15 611.2,91.69 611.41,87.87 611.62,83.94 611.83,80.01 612.04,76.07 612.25,72.14 612.46,68.21 612.67,64.27 612.88,60.34 613.09,56.41 613.3,52.47 613.51,48.54 613.72,44.61 613.93,40.68 614.14,37.13 614.35,34.13 614.56,31.67 614.77,29.76 614.98,28.39 615.19,27.57 615.4,27.3 615.4,27.3 615.63,27.55 615.86,28.29 616.09,29.53 616.32,31.27 616.55,33.5 616.78,36.23 617.01,39.45 617.24,43.01 617.47,46.59 617.7,50.16 617.93,53.73 618.16,57.3 618.39,60.87 618.62,64.44 618.85,68.01 619.08,71.59 619.31,75.16 619.54,78.73 619.77,82.3 620,85.77 620.23,88.91 620.46,91.72 620.69,94.2 620.92,96.35 621.15,98.17 621.38,99.65 621.61,100.81 621.84,101.64 622.07,102.13 622.3,102.3 622.49,102.13 622.69,101.64 622.88,100.81 623.07,99.65 623.27,98.17 623.46,96.35 623.65,94.2 623.85,91.72 624.04,88.91 624.23,85.77 624.43,82.3 624.62,78.73 624.81,75.16 625.01,71.59 625.2,68.01 625.39,64.44 625.59,60.87 625.78,57.3 625.97,53.73 626.17,50.16 626.36,46.59 626.55,43.01 626.75,39.45 626.94,36.23 627.13,33.5 627.33,31.27 627.52,29.53 627.71,28.29 627.91,27.55 628.1,27.3 628.1,27.3 628.33,27.51 628.56,28.13 628.79,29.16 629.02,30.61 629.25,32.48 629.48,34.75 629.71,37.44 629.94,40.42 630.17,43.4 630.4,46.38 630.63,49.36 630.86,52.34 631.09,55.32 631.32,58.3 631.55,61.28 631.78,64.26 632.01,67.24 632.24,70.23 632.47,73.21 632.7,76.1 632.93,78.72 633.16,81.07 633.39,83.14 633.62,84.93 633.85,86.45 634.08,87.69 634.31,88.66 634.54,89.35 634.77,89.76 635,89.9 635.21,89.76 635.41,89.35 635.62,88.66 635.83,87.69 636.03,86.45 636.24,84.93 636.45,83.14 636.65,81.07 636.86,78.72 637.07,76.1 637.27,73.21 637.48,70.23 637.69,67.24 637.89,64.26 638.1,61.28 638.31,58.3 638.51,55.32 638.72,52.34 638.93,49.36 639.13,46.38 639.34,43.4 639.55,40.42 639.75,37.44 639.96,34.75 640.17,32.48 640.37,30.61 640.58,29.16 640.79,28.13 640.99,27.51 641.2,27.3 641.2,27.3 641.42,27.48 641.64,28.01 641.86,28.9 642.08,30.15 642.3,31.76 642.52,33.72 642.74,36.03 642.96,38.59 643.18,41.16 643.4,43.73 643.62,46.29 643.84,48.86 644.06,51.43 644.28,53.99 644.5,56.56 644.72,59.13 644.94,61.69 645.16,64.26 645.38,66.83 645.6,69.32 645.82,71.57 646.04,73.6 646.26,75.38 646.48,76.92 646.7,78.23 646.92,79.3 647.14,80.13 647.36,80.72 647.58,81.08 647.8,81.2 648.02,81.08 648.25,80.72 648.47,80.13 648.69,79.3 648.92,78.23 649.14,76.92 649.36,75.38 649.59,73.6 649.81,71.58 650.03,69.32 650.26,66.83 650.48,64.26 650.7,61.69 650.93,59.13 651.15,56.56 651.37,53.99 651.6,51.43 651.82,48.86 652.04,46.29 652.27,43.73 652.49,41.16 652.71,38.59 652.94,36.03 653.16,33.72 653.38,31.76 653.61,30.15 653.83,28.9 654.05,28.01 654.28,27.48 654.5,27.3 654.5,27.3 654.71,27.4 654.92,27.72 655.13,28.24 655.34,28.98 655.55,29.92 655.76,31.07 655.97,32.44 656.18,33.94 656.39,35.45 656.6,36.96 656.81,38.47 657.02,39.98 657.23,41.49 657.44,43 657.65,44.51 657.86,46.02 658.07,47.53 658.28,49.04 658.49,50.55 658.7,52.01 658.91,53.34 659.12,54.53 659.33,55.58 659.54,56.48 659.75,57.25 659.96,57.88 660.17,58.37 660.38,58.72 660.59,58.93 660.8,59 661,58.93 661.19,58.72 661.39,58.37 661.59,57.88 661.78,57.25 661.98,56.48 662.18,55.58 662.37,54.53 662.57,53.34 662.77,52.01 662.96,50.55 663.16,49.04 663.36,47.53 663.55,46.02 663.75,44.51 663.95,43 664.14,41.49 664.34,39.98 664.54,38.47 664.73,36.96 664.93,35.45 665.13,33.94 665.32,32.44 665.52,31.07 665.72,29.92 665.91,28.98 666.11,28.24 666.31,27.72 666.5,27.4 666.7,27.3 666.7,27.3 666.93,27.35 667.16,27.5 667.39,27.75 667.62,28.09 667.85,28.54 668.08,29.09 668.31,29.73 668.54,30.44 668.77,31.16 669,31.87 669.23,32.59 669.46,33.3 669.69,34.01 669.92,34.73 670.15,35.44 670.38,36.16 670.61,36.87 670.84,37.59 671.07,38.3 671.3,38.99 671.53,39.62 671.76,40.18 671.99,40.68 672.22,41.11 672.45,41.47 672.68,41.77 672.91,42 673.14,42.17 673.37,42.27 673.6,42.3 673.81,42.27 674.03,42.17 674.24,42 674.45,41.77 674.67,41.47 674.88,41.11 675.09,40.68 675.31,40.18 675.52,39.62 675.73,38.99 675.95,38.3 676.16,37.59 676.37,36.87 676.59,36.16 676.8,35.44 677.01,34.73 677.23,34.01 677.44,33.3 677.65,32.59 677.87,31.87 678.08,31.16 678.29,30.44 678.51,29.73 678.72,29.09 678.93,28.54 679.15,28.09 679.36,27.75 679.57,27.5 679.79,27.35 680,27.3" fill="none" stroke="#222" stroke-width="0.9" stroke-linejoin="round" stroke-linecap="round" />
<text x="527.7" y="12.8" font-size="7" text-anchor="end" fill="#231f20" transform="rotate(-90 527.7 12.8)">1800 ppm</text>
<text x="540.8" y="12.8" font-size="7" text-anchor="end" fill="#231f20" transform="rotate(-90 540.8 12.8)">1500 ppm</text>
<text x="554.6" y="12.8" font-size="7" text-anchor="end" fill="#231f20" transform="rotate(-90 554.6 12.8)">1200 ppm</text>
<text x="570.4" y="12.8" font-size="7" text-anchor="end" fill="#231f20" transform="rotate(-90 570.4 12.8)">1000 ppm</text>
<text x="585.8" y="12.8" font-size="7" text-anchor="end" fill="#231f20" transform="rotate(-90 585.8 12.8)">800 ppm</text>
<text x="599.8" y="12.8" font-size="7" text-anchor="end" fill="#231f20" transform="rotate(-90 599.8 12.8)">500 ppm</text>
<text x="612.3" y="12.8" font-size="7" text-anchor="end" fill="#231f20" transform="rotate(-90 612.3 12.8)">300 ppm</text>
<text x="625.5" y="12.8" font-size="7" text-anchor="end" fill="#231f20" transform="rotate(-90 625.5 12.8)">100 ppm</text>
<text x="638.2" y="12.8" font-size="7" text-anchor="end" fill="#231f20" transform="rotate(-90 638.2 12.8)">80 ppm</text>
<text x="651" y="12.8" font-size="7" text-anchor="end" fill="#231f20" transform="rotate(-90 651 12.8)">50 ppm</text>
<text x="664" y="12.8" font-size="7" text-anchor="end" fill="#231f20" transform="rotate(-90 664 12.8)">10 ppm</text>
<text x="676.8" y="12.8" font-size="7" text-anchor="end" fill="#231f20" transform="rotate(-90 676.8 12.8)">5 ppm</text>
<g filter="url(#fineSn)"><rect x="8" y="177.4" width="97" height="72.4" fill="#777" /></g>
<g filter="url(#dgrain)"><rect x="105" y="177.4" width="96.5" height="72.4" fill="#454545" /><g filter="url(#eblur)"><ellipse cx="111" cy="203" rx="7" ry="8" fill="#a8a8a8"/><ellipse cx="135" cy="211.5" rx="9.5" ry="7" fill="#a4a4a4"/><ellipse cx="148" cy="215" rx="5" ry="6" fill="#b0b0b0"/><ellipse cx="184" cy="194.5" rx="10" ry="8" fill="#989898"/><ellipse cx="178" cy="207.5" rx="7" ry="5" fill="#8e8e8e"/><ellipse cx="176.5" cy="222" rx="10.5" ry="7.5" fill="#b0b0b0"/><ellipse cx="177" cy="237" rx="7" ry="8" fill="#a8a8a8"/><ellipse cx="132" cy="238" rx="15.5" ry="11" fill="#8c8c8c"/><ellipse cx="156" cy="201.5" rx="8.5" ry="6.5" fill="#8a8a8a"/><ellipse cx="195" cy="226.5" rx="7" ry="10" fill="#8a8a8a"/><ellipse cx="110.5" cy="226.5" rx="5.5" ry="10" fill="#8a8a8a"/><ellipse cx="125" cy="184" rx="9" ry="5" fill="#7a7a7a"/><ellipse cx="160" cy="183" rx="12" ry="5" fill="#6a6a6a"/><ellipse cx="190" cy="183" rx="8" ry="5" fill="#7a7a7a"/><ellipse cx="122" cy="195" rx="5" ry="4" fill="#8a8a8a"/><ellipse cx="158" cy="228" rx="6" ry="6" fill="#7a7a7a"/><ellipse cx="150" cy="246" rx="8" ry="4" fill="#7a7a7a"/></g></g>
<g filter="url(#dgrain)"><rect x="8" y="249.8" width="97" height="72.4" fill="#4a4a4a" /><g filter="url(#eblur)"><ellipse cx="17" cy="263" rx="8" ry="9" fill="#8e8e8e"/><ellipse cx="42.7" cy="274" rx="12" ry="8.5" fill="#949494"/><ellipse cx="90.5" cy="275.5" rx="14.5" ry="17" fill="#9a9a9a"/><ellipse cx="60" cy="287" rx="12.5" ry="9.5" fill="#9c9c9c"/><ellipse cx="30.5" cy="299" rx="11" ry="17.5" fill="#8c8c8c"/><ellipse cx="64" cy="310" rx="23" ry="12" fill="#949494"/><ellipse cx="98" cy="306" rx="8" ry="16" fill="#b4b4b4"/><ellipse cx="12" cy="295" rx="4" ry="12" fill="#808080"/><ellipse cx="50" cy="257" rx="10" ry="4" fill="#6a6a6a"/><ellipse cx="14" cy="318" rx="6" ry="4" fill="#7a7a7a"/><ellipse cx="80" cy="256" rx="6" ry="4" fill="#5a5a5a"/></g></g>
<rect x="105" y="249.8" width="48.3" height="35.6" fill="#000" filter="url(#edsG)"/>
<defs><linearGradient id="gmask" x1="0" y1="0" x2="1" y2="0.3"><stop offset="0" stop-color="#000" stop-opacity="0.65"/><stop offset="0.6" stop-color="#000" stop-opacity="0.15"/><stop offset="1" stop-color="#000" stop-opacity="0"/></linearGradient></defs>
<rect x="105" y="249.8" width="48.3" height="35.6" fill="url(#gmask)" />
<rect x="153.3" y="249.8" width="48.2" height="35.6" fill="#000" filter="url(#edsC)"/>
<rect x="105" y="285.4" width="48.3" height="36.8" fill="#000" filter="url(#edsP)"/>
<rect x="153.3" y="285.4" width="48.2" height="36.8" fill="#000" filter="url(#edsR)"/>
<rect x="8" y="177.4" width="16.2" height="14.8" fill="#fff" />
<text x="10.5" y="188.1" font-size="15" font-weight="bold" fill="#231f20">d</text>
<text x="55.5" y="188.2" font-size="8.6" text-anchor="middle" font-weight="bold" fill="#fff" stroke="#fff" stroke-width="0.3">SnO<tspan font-size="6" dy="2">2</tspan><tspan dy="-2"></tspan></text>
<text x="153" y="188.4" font-size="8.6" text-anchor="middle" font-weight="bold" fill="#fff" stroke="#fff" stroke-width="0.3">SnS<tspan font-size="6" dy="2">2</tspan><tspan dy="-2">/SnO<tspan font-size="6" dy="2">2</tspan><tspan dy="-2"></tspan></tspan></text>
<text x="59.5" y="261.5" font-size="8.6" text-anchor="middle" font-weight="bold" fill="#fff" stroke="#fff" stroke-width="0.3">Pd/SnS<tspan font-size="6" dy="2">2</tspan><tspan dy="-2">/SnO<tspan font-size="6" dy="2">2</tspan><tspan dy="-2"></tspan></tspan></text>
<text x="105.4" y="185.3" font-size="7.6" font-weight="bold" fill="#e4e4e4">(b)</text>
<text x="8.4" y="257.2" font-size="7.6" font-weight="bold" fill="#e4e4e4">(c)</text>
<text x="105.6" y="257.4" font-size="7.6" font-weight="bold" fill="#e4e4e4">(d)</text>
<rect x="94" y="243.5" width="7" height="1.6" fill="#fff" />
<rect x="190" y="244" width="8" height="1.6" fill="#fff" />
<rect x="94" y="316" width="7" height="1.6" fill="#fff" />
<rect x="262.2" y="305.4" width="8.4" height="9.7" fill="#dcecf8" />
<rect x="276.4" y="303.2" width="8.4" height="11.9" fill="#dcecf8" />
<rect x="290.6" y="301.9" width="8.4" height="13.2" fill="#dcecf8" />
<rect x="304.8" y="294.7" width="8.4" height="20.4" fill="#dcecf8" />
<rect x="319" y="283.8" width="8.4" height="31.3" fill="#dcecf8" />
<rect x="333.2" y="270.7" width="8.4" height="44.4" fill="#dcecf8" />
<rect x="347.4" y="255.8" width="8.4" height="59.3" fill="#dcecf8" />
<rect x="361.6" y="241.5" width="8.4" height="73.6" fill="#dcecf8" />
<rect x="375.8" y="230" width="8.4" height="85.1" fill="#dcecf8" />
<rect x="390" y="215" width="8.4" height="100.1" fill="#dcecf8" />
<rect x="404.2" y="204" width="8.4" height="111.1" fill="#dcecf8" />
<rect x="418.4" y="193" width="8.4" height="122.1" fill="#dcecf8" />
<line x1="292.4" y1="305.4" x2="292.4" y2="301.9" stroke="#8b1a1a" stroke-width="0.7" />
<line x1="297.2" y1="305.4" x2="297.2" y2="301.9" stroke="#8b1a1a" stroke-width="0.7" />
<line x1="305.4" y1="305.4" x2="305.4" y2="294.7" stroke="#2a4ad8" stroke-width="0.7" />
<line x1="312.6" y1="305.4" x2="312.6" y2="294.7" stroke="#2a4ad8" stroke-width="0.7" />
<line x1="306" y1="305.4" x2="306" y2="296.8" stroke="#8a8a1a" stroke-width="0.7" />
<line x1="312" y1="305.4" x2="312" y2="296.8" stroke="#8a8a1a" stroke-width="0.7" />
<line x1="306.6" y1="305.4" x2="306.6" y2="298.6" stroke="#8b1a1a" stroke-width="0.7" />
<line x1="311.4" y1="305.4" x2="311.4" y2="298.6" stroke="#8b1a1a" stroke-width="0.7" />
<line x1="319.6" y1="305.4" x2="319.6" y2="283.8" stroke="#2a4ad8" stroke-width="0.7" />
<line x1="326.8" y1="305.4" x2="326.8" y2="283.8" stroke="#2a4ad8" stroke-width="0.7" />
<line x1="320.2" y1="305.4" x2="320.2" y2="288.2" stroke="#8a8a1a" stroke-width="0.7" />
<line x1="326.2" y1="305.4" x2="326.2" y2="288.2" stroke="#8a8a1a" stroke-width="0.7" />
<line x1="320.8" y1="305.4" x2="320.8" y2="293.6" stroke="#8b1a1a" stroke-width="0.7" />
<line x1="325.6" y1="305.4" x2="325.6" y2="293.6" stroke="#8b1a1a" stroke-width="0.7" />
<line x1="333.8" y1="305.4" x2="333.8" y2="270.7" stroke="#2a4ad8" stroke-width="0.7" />
<line x1="341" y1="305.4" x2="341" y2="270.7" stroke="#2a4ad8" stroke-width="0.7" />
<line x1="334.4" y1="305.4" x2="334.4" y2="279" stroke="#8a8a1a" stroke-width="0.7" />
<line x1="340.4" y1="305.4" x2="340.4" y2="279" stroke="#8a8a1a" stroke-width="0.7" />
<line x1="335" y1="305.4" x2="335" y2="290.4" stroke="#8b1a1a" stroke-width="0.7" />
<line x1="339.8" y1="305.4" x2="339.8" y2="290.4" stroke="#8b1a1a" stroke-width="0.7" />
<line x1="348" y1="305.4" x2="348" y2="255.8" stroke="#2a4ad8" stroke-width="0.7" />
<line x1="355.2" y1="305.4" x2="355.2" y2="255.8" stroke="#2a4ad8" stroke-width="0.7" />
<line x1="348.6" y1="305.4" x2="348.6" y2="267.4" stroke="#8a8a1a" stroke-width="0.7" />
<line x1="354.6" y1="305.4" x2="354.6" y2="267.4" stroke="#8a8a1a" stroke-width="0.7" />
<line x1="349.2" y1="305.4" x2="349.2" y2="286.6" stroke="#8b1a1a" stroke-width="0.7" />
<line x1="354" y1="305.4" x2="354" y2="286.6" stroke="#8b1a1a" stroke-width="0.7" />
<line x1="362.2" y1="305.4" x2="362.2" y2="241.5" stroke="#2a4ad8" stroke-width="0.7" />
<line x1="369.4" y1="305.4" x2="369.4" y2="241.5" stroke="#2a4ad8" stroke-width="0.7" />
<line x1="362.8" y1="305.4" x2="362.8" y2="260.8" stroke="#8a8a1a" stroke-width="0.7" />
<line x1="368.8" y1="305.4" x2="368.8" y2="260.8" stroke="#8a8a1a" stroke-width="0.7" />
<line x1="363.4" y1="305.4" x2="363.4" y2="282.7" stroke="#8b1a1a" stroke-width="0.7" />
<line x1="368.2" y1="305.4" x2="368.2" y2="282.7" stroke="#8b1a1a" stroke-width="0.7" />
<line x1="376.4" y1="305.4" x2="376.4" y2="230" stroke="#2a4ad8" stroke-width="0.7" />
<line x1="383.6" y1="305.4" x2="383.6" y2="230" stroke="#2a4ad8" stroke-width="0.7" />
<line x1="377" y1="305.4" x2="377" y2="254.2" stroke="#8a8a1a" stroke-width="0.7" />
<line x1="383" y1="305.4" x2="383" y2="254.2" stroke="#8a8a1a" stroke-width="0.7" />
<line x1="377.6" y1="305.4" x2="377.6" y2="278.3" stroke="#8b1a1a" stroke-width="0.7" />
<line x1="382.4" y1="305.4" x2="382.4" y2="278.3" stroke="#8b1a1a" stroke-width="0.7" />
<line x1="390.6" y1="305.4" x2="390.6" y2="215" stroke="#2a4ad8" stroke-width="0.7" />
<line x1="397.8" y1="305.4" x2="397.8" y2="215" stroke="#2a4ad8" stroke-width="0.7" />
<line x1="391.2" y1="305.4" x2="391.2" y2="248.8" stroke="#8a8a1a" stroke-width="0.7" />
<line x1="397.2" y1="305.4" x2="397.2" y2="248.8" stroke="#8a8a1a" stroke-width="0.7" />
<line x1="391.8" y1="305.4" x2="391.8" y2="274" stroke="#8b1a1a" stroke-width="0.7" />
<line x1="396.6" y1="305.4" x2="396.6" y2="274" stroke="#8b1a1a" stroke-width="0.7" />
<line x1="404.8" y1="305.4" x2="404.8" y2="204" stroke="#2a4ad8" stroke-width="0.7" />
<line x1="412" y1="305.4" x2="412" y2="204" stroke="#2a4ad8" stroke-width="0.7" />
<line x1="405.4" y1="305.4" x2="405.4" y2="243.3" stroke="#8a8a1a" stroke-width="0.7" />
<line x1="411.4" y1="305.4" x2="411.4" y2="243.3" stroke="#8a8a1a" stroke-width="0.7" />
<line x1="406" y1="305.4" x2="406" y2="269.6" stroke="#8b1a1a" stroke-width="0.7" />
<line x1="410.8" y1="305.4" x2="410.8" y2="269.6" stroke="#8b1a1a" stroke-width="0.7" />
<line x1="419" y1="305.4" x2="419" y2="193" stroke="#2a4ad8" stroke-width="0.7" />
<line x1="426.2" y1="305.4" x2="426.2" y2="193" stroke="#2a4ad8" stroke-width="0.7" />
<line x1="419.6" y1="305.4" x2="419.6" y2="236" stroke="#8a8a1a" stroke-width="0.7" />
<line x1="425.6" y1="305.4" x2="425.6" y2="236" stroke="#8a8a1a" stroke-width="0.7" />
<line x1="420.2" y1="305.4" x2="420.2" y2="264.5" stroke="#8b1a1a" stroke-width="0.7" />
<line x1="425" y1="305.4" x2="425" y2="264.5" stroke="#8b1a1a" stroke-width="0.7" />
<rect x="276.3" y="302.1" width="8.6" height="2.2" rx="1.6" fill="#7d1010"/>
<circle cx="281.68" cy="304.02" r="1.3" fill="#7d1010" />
<circle cx="283.2" cy="304.7" r="1.3" fill="#7d1010" />
<circle cx="282.71" cy="304.64" r="1.3" fill="#7d1010" />
<circle cx="276.46" cy="303.08" r="1.3" fill="#7d1010" />
<circle cx="284.5" cy="303.71" r="1.3" fill="#7d1010" />
<circle cx="284.13" cy="301.88" r="1.3" fill="#7d1010" />
<circle cx="280.33" cy="302.34" r="1.3" fill="#7d1010" />
<rect x="290.5" y="300.8" width="8.6" height="2.2" rx="1.6" fill="#7d1010"/>
<circle cx="295.19" cy="302.15" r="1.3" fill="#7d1010" />
<circle cx="290.52" cy="300.94" r="1.3" fill="#7d1010" />
<circle cx="292.86" cy="303.32" r="1.3" fill="#7d1010" />
<circle cx="297.14" cy="300.74" r="1.3" fill="#7d1010" />
<circle cx="297.41" cy="300.67" r="1.3" fill="#7d1010" />
<circle cx="295.83" cy="300.63" r="1.3" fill="#7d1010" />
<circle cx="290.42" cy="303.16" r="1.3" fill="#7d1010" />
<rect x="304.7" y="297.5" width="8.6" height="2.2" rx="1.6" fill="#7d1010"/>
<circle cx="306.44" cy="297.63" r="1.3" fill="#7d1010" />
<circle cx="313.25" cy="299.87" r="1.3" fill="#7d1010" />
<circle cx="307.15" cy="300.17" r="1.3" fill="#7d1010" />
<circle cx="309.35" cy="299.2" r="1.3" fill="#7d1010" />
<circle cx="306.4" cy="300.1" r="1.3" fill="#7d1010" />
<circle cx="310.68" cy="300.19" r="1.3" fill="#7d1010" />
<circle cx="312.46" cy="297.92" r="1.3" fill="#7d1010" />
<rect x="318.9" y="292.5" width="8.6" height="2.2" rx="1.6" fill="#7d1010"/>
<circle cx="321.98" cy="292.46" r="1.3" fill="#7d1010" />
<circle cx="320.08" cy="292.12" r="1.3" fill="#7d1010" />
<circle cx="321.45" cy="293.95" r="1.3" fill="#7d1010" />
<circle cx="318.83" cy="294.2" r="1.3" fill="#7d1010" />
<circle cx="321.77" cy="292.95" r="1.3" fill="#7d1010" />
<circle cx="326" cy="293.53" r="1.3" fill="#7d1010" />
<circle cx="321.58" cy="293.54" r="1.3" fill="#7d1010" />
<rect x="333.1" y="289.3" width="8.6" height="2.2" rx="1.6" fill="#7d1010"/>
<circle cx="339.2" cy="288.89" r="1.3" fill="#7d1010" />
<circle cx="341.58" cy="288.78" r="1.3" fill="#7d1010" />
<circle cx="339.6" cy="291.57" r="1.3" fill="#7d1010" />
<circle cx="333.16" cy="291.38" r="1.3" fill="#7d1010" />
<circle cx="336.22" cy="290.67" r="1.3" fill="#7d1010" />
<circle cx="333.08" cy="288.86" r="1.3" fill="#7d1010" />
<circle cx="334.59" cy="291.95" r="1.3" fill="#7d1010" />
<rect x="347.3" y="285.47" width="8.6" height="2.26" rx="1.6" fill="#7d1010"/>
<circle cx="348.93" cy="287.48" r="1.3" fill="#7d1010" />
<circle cx="355.38" cy="288.13" r="1.3" fill="#7d1010" />
<circle cx="350.23" cy="286.1" r="1.3" fill="#7d1010" />
<circle cx="351.82" cy="287.55" r="1.3" fill="#7d1010" />
<circle cx="348.15" cy="287.46" r="1.3" fill="#7d1010" />
<circle cx="354.22" cy="287.84" r="1.3" fill="#7d1010" />
<circle cx="347.52" cy="288.14" r="1.3" fill="#7d1010" />
<rect x="361.5" y="281.34" width="8.6" height="2.72" rx="1.6" fill="#7d1010"/>
<circle cx="362.2" cy="282.08" r="1.3" fill="#7d1010" />
<circle cx="366.78" cy="284.34" r="1.3" fill="#7d1010" />
<circle cx="364.39" cy="284.36" r="1.3" fill="#7d1010" />
<circle cx="366.2" cy="281.96" r="1.3" fill="#7d1010" />
<circle cx="364.19" cy="281.43" r="1.3" fill="#7d1010" />
<circle cx="362.09" cy="281.32" r="1.3" fill="#7d1010" />
<circle cx="367.46" cy="284.65" r="1.3" fill="#7d1010" />
<circle cx="362.82" cy="280.93" r="1.3" fill="#7d1010" />
<rect x="375.7" y="276.67" width="8.6" height="3.25" rx="1.6" fill="#7d1010"/>
<circle cx="384.28" cy="278.45" r="1.3" fill="#7d1010" />
<circle cx="379.17" cy="277.13" r="1.3" fill="#7d1010" />
<circle cx="380.83" cy="279.75" r="1.3" fill="#7d1010" />
<circle cx="379.61" cy="277.95" r="1.3" fill="#7d1010" />
<circle cx="376.09" cy="280.15" r="1.3" fill="#7d1010" />
<circle cx="375.89" cy="278.27" r="1.3" fill="#7d1010" />
<circle cx="382.98" cy="276.66" r="1.3" fill="#7d1010" />
<circle cx="382.04" cy="280.3" r="1.3" fill="#7d1010" />
<rect x="389.9" y="272.12" width="8.6" height="3.77" rx="1.6" fill="#7d1010"/>
<circle cx="395.35" cy="275.43" r="1.3" fill="#7d1010" />
<circle cx="390.74" cy="273.67" r="1.3" fill="#7d1010" />
<circle cx="391.11" cy="275.71" r="1.3" fill="#7d1010" />
<circle cx="392.39" cy="273.77" r="1.3" fill="#7d1010" />
<circle cx="398.59" cy="275.75" r="1.3" fill="#7d1010" />
<circle cx="398.39" cy="273.77" r="1.3" fill="#7d1010" />
<circle cx="394.1" cy="275.14" r="1.3" fill="#7d1010" />
<circle cx="394.02" cy="272.96" r="1.3" fill="#7d1010" />
<circle cx="393.35" cy="272.24" r="1.3" fill="#7d1010" />
<rect x="404.1" y="267.45" width="8.6" height="4.3" rx="1.6" fill="#7d1010"/>
<circle cx="407.32" cy="272.28" r="1.3" fill="#7d1010" />
<circle cx="412.45" cy="270.3" r="1.3" fill="#7d1010" />
<circle cx="408.39" cy="268.71" r="1.3" fill="#7d1010" />
<circle cx="404.78" cy="268.35" r="1.3" fill="#7d1010" />
<circle cx="410.88" cy="271.62" r="1.3" fill="#7d1010" />
<circle cx="407.18" cy="271.17" r="1.3" fill="#7d1010" />
<circle cx="410.82" cy="270.67" r="1.3" fill="#7d1010" />
<circle cx="409.84" cy="271.03" r="1.3" fill="#7d1010" />
<circle cx="407.2" cy="270.72" r="1.3" fill="#7d1010" />
<circle cx="406.47" cy="269.52" r="1.3" fill="#7d1010" />
<rect x="418.3" y="262.05" width="8.6" height="4.91" rx="1.6" fill="#7d1010"/>
<circle cx="424.97" cy="265.67" r="1.3" fill="#7d1010" />
<circle cx="420.79" cy="267.22" r="1.3" fill="#7d1010" />
<circle cx="423.92" cy="264.99" r="1.3" fill="#7d1010" />
<circle cx="418.3" cy="264.79" r="1.3" fill="#7d1010" />
<circle cx="420.41" cy="265.55" r="1.3" fill="#7d1010" />
<circle cx="422.27" cy="266.43" r="1.3" fill="#7d1010" />
<circle cx="423.9" cy="266.32" r="1.3" fill="#7d1010" />
<circle cx="421.26" cy="265.38" r="1.3" fill="#7d1010" />
<circle cx="424.69" cy="266.5" r="1.3" fill="#7d1010" />
<circle cx="421.28" cy="266.59" r="1.3" fill="#7d1010" />
<circle cx="425.86" cy="265.65" r="1.3" fill="#7d1010" />
<rect x="304.7" y="295.7" width="8.6" height="2.2" rx="1.6" fill="#827c12"/>
<circle cx="313.19" cy="298.35" r="1.3" fill="#827c12" />
<circle cx="309.16" cy="296.9" r="1.3" fill="#827c12" />
<circle cx="306.06" cy="297.94" r="1.3" fill="#827c12" />
<circle cx="312.85" cy="296.72" r="1.3" fill="#827c12" />
<circle cx="310.68" cy="297.55" r="1.3" fill="#827c12" />
<circle cx="311.03" cy="295.68" r="1.3" fill="#827c12" />
<circle cx="311.47" cy="297.07" r="1.3" fill="#827c12" />
<rect x="318.9" y="286.91" width="8.6" height="2.58" rx="1.6" fill="#827c12"/>
<circle cx="324.66" cy="287.9" r="1.3" fill="#827c12" />
<circle cx="324.29" cy="289.24" r="1.3" fill="#827c12" />
<circle cx="324.4" cy="289.03" r="1.3" fill="#827c12" />
<circle cx="319.04" cy="286.91" r="1.3" fill="#827c12" />
<circle cx="322.68" cy="288.77" r="1.3" fill="#827c12" />
<circle cx="320.73" cy="288.9" r="1.3" fill="#827c12" />
<circle cx="324.35" cy="286.47" r="1.3" fill="#827c12" />
<rect x="333.1" y="277.02" width="8.6" height="3.96" rx="1.6" fill="#827c12"/>
<circle cx="337.15" cy="277.59" r="1.3" fill="#827c12" />
<circle cx="333.48" cy="277.11" r="1.3" fill="#827c12" />
<circle cx="335.79" cy="277.36" r="1.3" fill="#827c12" />
<circle cx="334.7" cy="276.6" r="1.3" fill="#827c12" />
<circle cx="337.09" cy="278.38" r="1.3" fill="#827c12" />
<circle cx="338.38" cy="279.47" r="1.3" fill="#827c12" />
<circle cx="335.09" cy="281.08" r="1.3" fill="#827c12" />
<circle cx="333.01" cy="278.51" r="1.3" fill="#827c12" />
<circle cx="335.45" cy="278.54" r="1.3" fill="#827c12" />
<rect x="347.3" y="264.55" width="8.6" height="5.7" rx="1.6" fill="#827c12"/>
<circle cx="348.21" cy="269.69" r="1.3" fill="#827c12" />
<circle cx="350.49" cy="264.2" r="1.3" fill="#827c12" />
<circle cx="352.6" cy="264.6" r="1.3" fill="#827c12" />
<circle cx="352" cy="266.29" r="1.3" fill="#827c12" />
<circle cx="352.31" cy="270.56" r="1.3" fill="#827c12" />
<circle cx="354.4" cy="266.84" r="1.3" fill="#827c12" />
<circle cx="354.35" cy="268.38" r="1.3" fill="#827c12" />
<circle cx="350.45" cy="264.93" r="1.3" fill="#827c12" />
<circle cx="352.44" cy="267.84" r="1.3" fill="#827c12" />
<circle cx="355.62" cy="270.63" r="1.3" fill="#827c12" />
<circle cx="352.56" cy="266.37" r="1.3" fill="#827c12" />
<circle cx="355.06" cy="263.96" r="1.3" fill="#827c12" />
<rect x="361.5" y="257.46" width="8.6" height="6.69" rx="1.6" fill="#827c12"/>
<circle cx="362.35" cy="261.32" r="1.3" fill="#827c12" />
<circle cx="366.81" cy="257.97" r="1.3" fill="#827c12" />
<circle cx="366.94" cy="263.89" r="1.3" fill="#827c12" />
<circle cx="364.71" cy="260.26" r="1.3" fill="#827c12" />
<circle cx="363.39" cy="259.15" r="1.3" fill="#827c12" />
<circle cx="369.96" cy="259.85" r="1.3" fill="#827c12" />
<circle cx="369.86" cy="264.06" r="1.3" fill="#827c12" />
<circle cx="366.64" cy="258.91" r="1.3" fill="#827c12" />
<circle cx="370.03" cy="260.77" r="1.3" fill="#827c12" />
<circle cx="365.06" cy="259.37" r="1.3" fill="#827c12" />
<circle cx="370.06" cy="260.73" r="1.3" fill="#827c12" />
<circle cx="363.92" cy="260.62" r="1.3" fill="#827c12" />
<circle cx="362.47" cy="261.76" r="1.3" fill="#827c12" />
<circle cx="365.3" cy="259.17" r="1.3" fill="#827c12" />
<rect x="375.7" y="250.36" width="8.6" height="7.68" rx="1.6" fill="#827c12"/>
<circle cx="382.48" cy="257.1" r="1.3" fill="#827c12" />
<circle cx="375.72" cy="254.49" r="1.3" fill="#827c12" />
<circle cx="378.01" cy="258.07" r="1.3" fill="#827c12" />
<circle cx="382.48" cy="251.94" r="1.3" fill="#827c12" />
<circle cx="377.96" cy="251.13" r="1.3" fill="#827c12" />
<circle cx="384.3" cy="252.36" r="1.3" fill="#827c12" />
<circle cx="380.95" cy="253.97" r="1.3" fill="#827c12" />
<circle cx="381.27" cy="255.12" r="1.3" fill="#827c12" />
<circle cx="382.14" cy="250.81" r="1.3" fill="#827c12" />
<circle cx="382.29" cy="252.43" r="1.3" fill="#827c12" />
<circle cx="380.29" cy="252.74" r="1.3" fill="#827c12" />
<circle cx="378.21" cy="254.47" r="1.3" fill="#827c12" />
<circle cx="379.69" cy="252.97" r="1.3" fill="#827c12" />
<circle cx="382.16" cy="255.01" r="1.3" fill="#827c12" />
<circle cx="375.92" cy="252" r="1.3" fill="#827c12" />
<rect x="389.9" y="244.56" width="8.6" height="8.49" rx="1.6" fill="#827c12"/>
<circle cx="393.81" cy="252.84" r="1.3" fill="#827c12" />
<circle cx="397.61" cy="249.24" r="1.3" fill="#827c12" />
<circle cx="389.93" cy="251.5" r="1.3" fill="#827c12" />
<circle cx="393.56" cy="249.53" r="1.3" fill="#827c12" />
<circle cx="396.03" cy="250.08" r="1.3" fill="#827c12" />
<circle cx="394.04" cy="252.79" r="1.3" fill="#827c12" />
<circle cx="393.19" cy="247.75" r="1.3" fill="#827c12" />
<circle cx="397.3" cy="245.86" r="1.3" fill="#827c12" />
<circle cx="392.41" cy="252" r="1.3" fill="#827c12" />
<circle cx="390.38" cy="252.06" r="1.3" fill="#827c12" />
<circle cx="395.91" cy="248.15" r="1.3" fill="#827c12" />
<circle cx="392.32" cy="251.52" r="1.3" fill="#827c12" />
<circle cx="397.81" cy="245.34" r="1.3" fill="#827c12" />
<circle cx="394.01" cy="249.28" r="1.3" fill="#827c12" />
<circle cx="394.18" cy="247.16" r="1.3" fill="#827c12" />
<circle cx="391.15" cy="249.63" r="1.3" fill="#827c12" />
<rect x="404.1" y="238.64" width="8.6" height="9.31" rx="1.6" fill="#827c12"/>
<circle cx="411.14" cy="238.76" r="1.3" fill="#827c12" />
<circle cx="406.02" cy="246.66" r="1.3" fill="#827c12" />
<circle cx="410.97" cy="245.02" r="1.3" fill="#827c12" />
<circle cx="404.22" cy="245.64" r="1.3" fill="#827c12" />
<circle cx="412.61" cy="248.54" r="1.3" fill="#827c12" />
<circle cx="410.17" cy="238.56" r="1.3" fill="#827c12" />
<circle cx="411.41" cy="240.35" r="1.3" fill="#827c12" />
<circle cx="409.68" cy="248.06" r="1.3" fill="#827c12" />
<circle cx="410.27" cy="239.46" r="1.3" fill="#827c12" />
<circle cx="406.57" cy="247.7" r="1.3" fill="#827c12" />
<circle cx="405.32" cy="244.46" r="1.3" fill="#827c12" />
<circle cx="407.64" cy="239.74" r="1.3" fill="#827c12" />
<circle cx="409.48" cy="238.5" r="1.3" fill="#827c12" />
<circle cx="404.95" cy="242.03" r="1.3" fill="#827c12" />
<circle cx="404.63" cy="238.65" r="1.3" fill="#827c12" />
<circle cx="409.06" cy="245.85" r="1.3" fill="#827c12" />
<circle cx="411.73" cy="239.46" r="1.3" fill="#827c12" />
<rect x="418.3" y="230.8" width="8.6" height="10.41" rx="1.6" fill="#827c12"/>
<circle cx="422" cy="233.85" r="1.3" fill="#827c12" />
<circle cx="423.48" cy="235.88" r="1.3" fill="#827c12" />
<circle cx="426.46" cy="234.54" r="1.3" fill="#827c12" />
<circle cx="418.69" cy="238.29" r="1.3" fill="#827c12" />
<circle cx="419.53" cy="237.52" r="1.3" fill="#827c12" />
<circle cx="422.65" cy="240.77" r="1.3" fill="#827c12" />
<circle cx="423.08" cy="237.4" r="1.3" fill="#827c12" />
<circle cx="420.52" cy="236.6" r="1.3" fill="#827c12" />
<circle cx="420.44" cy="238.91" r="1.3" fill="#827c12" />
<circle cx="422.75" cy="231.75" r="1.3" fill="#827c12" />
<circle cx="420.26" cy="234.5" r="1.3" fill="#827c12" />
<circle cx="424.68" cy="232.28" r="1.3" fill="#827c12" />
<circle cx="424.48" cy="237.8" r="1.3" fill="#827c12" />
<circle cx="418.95" cy="237.95" r="1.3" fill="#827c12" />
<circle cx="419" cy="231.64" r="1.3" fill="#827c12" />
<circle cx="423.43" cy="232.96" r="1.3" fill="#827c12" />
<circle cx="425.92" cy="235.77" r="1.3" fill="#827c12" />
<circle cx="421.04" cy="239.44" r="1.3" fill="#827c12" />
<circle cx="418.46" cy="238.61" r="1.3" fill="#827c12" />
<rect x="290.5" y="302.4" width="8.6" height="2.4" rx="1.6" fill="#1030d8"/>
<circle cx="290.87" cy="302.34" r="1.3" fill="#1030d8" />
<circle cx="298.78" cy="304.25" r="1.3" fill="#1030d8" />
<circle cx="292.36" cy="302.22" r="1.3" fill="#1030d8" />
<circle cx="298.96" cy="304.19" r="1.3" fill="#1030d8" />
<circle cx="297.62" cy="302.3" r="1.3" fill="#1030d8" />
<circle cx="295.9" cy="303.08" r="1.3" fill="#1030d8" />
<circle cx="292.47" cy="303" r="1.3" fill="#1030d8" />
<rect x="304.7" y="293.5" width="8.6" height="2.4" rx="1.6" fill="#1030d8"/>
<circle cx="310" cy="294.16" r="1.3" fill="#1030d8" />
<circle cx="307.99" cy="293.39" r="1.3" fill="#1030d8" />
<circle cx="311.91" cy="295.23" r="1.3" fill="#1030d8" />
<circle cx="311.68" cy="294.46" r="1.3" fill="#1030d8" />
<circle cx="312.09" cy="294.76" r="1.3" fill="#1030d8" />
<circle cx="309.82" cy="294.96" r="1.3" fill="#1030d8" />
<circle cx="311.11" cy="294.32" r="1.3" fill="#1030d8" />
<rect x="318.9" y="282.6" width="8.6" height="2.4" rx="1.6" fill="#1030d8"/>
<circle cx="319.65" cy="282.12" r="1.3" fill="#1030d8" />
<circle cx="320.58" cy="282.14" r="1.3" fill="#1030d8" />
<circle cx="326.63" cy="283.73" r="1.3" fill="#1030d8" />
<circle cx="325.49" cy="282" r="1.3" fill="#1030d8" />
<circle cx="322.94" cy="285.2" r="1.3" fill="#1030d8" />
<circle cx="324.25" cy="283.54" r="1.3" fill="#1030d8" />
<circle cx="322.9" cy="282.36" r="1.3" fill="#1030d8" />
<rect x="333.1" y="268.88" width="8.6" height="3.64" rx="1.6" fill="#1030d8"/>
<circle cx="334.36" cy="269.05" r="1.3" fill="#1030d8" />
<circle cx="336.3" cy="270.15" r="1.3" fill="#1030d8" />
<circle cx="340.75" cy="269.02" r="1.3" fill="#1030d8" />
<circle cx="335.24" cy="269.62" r="1.3" fill="#1030d8" />
<circle cx="334.42" cy="269.67" r="1.3" fill="#1030d8" />
<circle cx="335.07" cy="270.61" r="1.3" fill="#1030d8" />
<circle cx="333.28" cy="272.76" r="1.3" fill="#1030d8" />
<circle cx="336.25" cy="272.82" r="1.3" fill="#1030d8" />
<circle cx="339.05" cy="271.54" r="1.3" fill="#1030d8" />
<rect x="347.3" y="253.2" width="8.6" height="5.21" rx="1.6" fill="#1030d8"/>
<circle cx="351.35" cy="258.65" r="1.3" fill="#1030d8" />
<circle cx="348.24" cy="256.88" r="1.3" fill="#1030d8" />
<circle cx="349.76" cy="256.92" r="1.3" fill="#1030d8" />
<circle cx="353.62" cy="253.64" r="1.3" fill="#1030d8" />
<circle cx="348.97" cy="252.76" r="1.3" fill="#1030d8" />
<circle cx="349.23" cy="253.1" r="1.3" fill="#1030d8" />
<circle cx="350.73" cy="258.83" r="1.3" fill="#1030d8" />
<circle cx="350.41" cy="254.59" r="1.3" fill="#1030d8" />
<circle cx="351.32" cy="254.41" r="1.3" fill="#1030d8" />
<circle cx="353.64" cy="257.2" r="1.3" fill="#1030d8" />
<circle cx="348.64" cy="254.14" r="1.3" fill="#1030d8" />
<rect x="361.5" y="238.15" width="8.6" height="6.71" rx="1.6" fill="#1030d8"/>
<circle cx="367.32" cy="244.98" r="1.3" fill="#1030d8" />
<circle cx="367.08" cy="240.95" r="1.3" fill="#1030d8" />
<circle cx="369.98" cy="237.59" r="1.3" fill="#1030d8" />
<circle cx="361.94" cy="243.71" r="1.3" fill="#1030d8" />
<circle cx="365.01" cy="237.9" r="1.3" fill="#1030d8" />
<circle cx="366.23" cy="245.37" r="1.3" fill="#1030d8" />
<circle cx="365.97" cy="240.31" r="1.3" fill="#1030d8" />
<circle cx="362.23" cy="238.11" r="1.3" fill="#1030d8" />
<circle cx="369.31" cy="241.43" r="1.3" fill="#1030d8" />
<circle cx="369.63" cy="237.97" r="1.3" fill="#1030d8" />
<circle cx="363.54" cy="237.94" r="1.3" fill="#1030d8" />
<circle cx="364.9" cy="238.02" r="1.3" fill="#1030d8" />
<circle cx="363.65" cy="240.77" r="1.3" fill="#1030d8" />
<circle cx="364.09" cy="237.95" r="1.3" fill="#1030d8" />
<rect x="375.7" y="226.04" width="8.6" height="7.92" rx="1.6" fill="#1030d8"/>
<circle cx="375.93" cy="234.3" r="1.3" fill="#1030d8" />
<circle cx="377.18" cy="230.08" r="1.3" fill="#1030d8" />
<circle cx="379.14" cy="230.29" r="1.3" fill="#1030d8" />
<circle cx="376.34" cy="228.3" r="1.3" fill="#1030d8" />
<circle cx="376.55" cy="230.38" r="1.3" fill="#1030d8" />
<circle cx="383.71" cy="230.9" r="1.3" fill="#1030d8" />
<circle cx="383.14" cy="227.4" r="1.3" fill="#1030d8" />
<circle cx="375.75" cy="230.36" r="1.3" fill="#1030d8" />
<circle cx="379.88" cy="230.65" r="1.3" fill="#1030d8" />
<circle cx="378.91" cy="231.14" r="1.3" fill="#1030d8" />
<circle cx="381.99" cy="233.77" r="1.3" fill="#1030d8" />
<circle cx="378.31" cy="229.54" r="1.3" fill="#1030d8" />
<circle cx="382.87" cy="227.48" r="1.3" fill="#1030d8" />
<circle cx="376.62" cy="228.28" r="1.3" fill="#1030d8" />
<circle cx="376.37" cy="232.48" r="1.3" fill="#1030d8" />
<rect x="389.9" y="210.25" width="8.6" height="9.49" rx="1.6" fill="#1030d8"/>
<circle cx="397.01" cy="213" r="1.3" fill="#1030d8" />
<circle cx="390.94" cy="210.53" r="1.3" fill="#1030d8" />
<circle cx="391.95" cy="210.56" r="1.3" fill="#1030d8" />
<circle cx="393.57" cy="215.82" r="1.3" fill="#1030d8" />
<circle cx="391.96" cy="210.31" r="1.3" fill="#1030d8" />
<circle cx="395.97" cy="210.17" r="1.3" fill="#1030d8" />
<circle cx="391.56" cy="212.71" r="1.3" fill="#1030d8" />
<circle cx="393.09" cy="210.71" r="1.3" fill="#1030d8" />
<circle cx="393.5" cy="213.01" r="1.3" fill="#1030d8" />
<circle cx="396.42" cy="215.6" r="1.3" fill="#1030d8" />
<circle cx="397.69" cy="216.65" r="1.3" fill="#1030d8" />
<circle cx="396.49" cy="215.8" r="1.3" fill="#1030d8" />
<circle cx="393.69" cy="218.39" r="1.3" fill="#1030d8" />
<circle cx="395.57" cy="219.86" r="1.3" fill="#1030d8" />
<circle cx="396.21" cy="217.15" r="1.3" fill="#1030d8" />
<circle cx="392.16" cy="218.34" r="1.3" fill="#1030d8" />
<circle cx="393.17" cy="211.05" r="1.3" fill="#1030d8" />
<circle cx="390.38" cy="211.46" r="1.3" fill="#1030d8" />
<rect x="404.1" y="198.68" width="8.6" height="10.65" rx="1.6" fill="#1030d8"/>
<circle cx="406.31" cy="206.08" r="1.3" fill="#1030d8" />
<circle cx="406.51" cy="198.83" r="1.3" fill="#1030d8" />
<circle cx="410.72" cy="204.68" r="1.3" fill="#1030d8" />
<circle cx="404.24" cy="198.68" r="1.3" fill="#1030d8" />
<circle cx="405.15" cy="202.31" r="1.3" fill="#1030d8" />
<circle cx="411.57" cy="209.32" r="1.3" fill="#1030d8" />
<circle cx="409.39" cy="200.81" r="1.3" fill="#1030d8" />
<circle cx="407.77" cy="202.37" r="1.3" fill="#1030d8" />
<circle cx="406.91" cy="198.22" r="1.3" fill="#1030d8" />
<circle cx="409.14" cy="207.87" r="1.3" fill="#1030d8" />
<circle cx="410.4" cy="199.21" r="1.3" fill="#1030d8" />
<circle cx="408.67" cy="200.1" r="1.3" fill="#1030d8" />
<circle cx="410.24" cy="203.36" r="1.3" fill="#1030d8" />
<circle cx="412.26" cy="207.49" r="1.3" fill="#1030d8" />
<circle cx="405.04" cy="201.83" r="1.3" fill="#1030d8" />
<circle cx="412.05" cy="203.54" r="1.3" fill="#1030d8" />
<circle cx="407.82" cy="203.31" r="1.3" fill="#1030d8" />
<circle cx="410.75" cy="209.17" r="1.3" fill="#1030d8" />
<circle cx="408.69" cy="209.56" r="1.3" fill="#1030d8" />
<rect x="418.3" y="187.1" width="8.6" height="11.8" rx="1.6" fill="#1030d8"/>
<circle cx="423.44" cy="187.85" r="1.3" fill="#1030d8" />
<circle cx="425.37" cy="191.95" r="1.3" fill="#1030d8" />
<circle cx="418.66" cy="199.22" r="1.3" fill="#1030d8" />
<circle cx="418.49" cy="194" r="1.3" fill="#1030d8" />
<circle cx="422.44" cy="197.96" r="1.3" fill="#1030d8" />
<circle cx="421.66" cy="189.3" r="1.3" fill="#1030d8" />
<circle cx="420.64" cy="189.11" r="1.3" fill="#1030d8" />
<circle cx="423.15" cy="191.14" r="1.3" fill="#1030d8" />
<circle cx="424.81" cy="189.64" r="1.3" fill="#1030d8" />
<circle cx="421.3" cy="189.73" r="1.3" fill="#1030d8" />
<circle cx="426.85" cy="197.42" r="1.3" fill="#1030d8" />
<circle cx="425.68" cy="194.54" r="1.3" fill="#1030d8" />
<circle cx="421.73" cy="188.36" r="1.3" fill="#1030d8" />
<circle cx="425.52" cy="192.87" r="1.3" fill="#1030d8" />
<circle cx="418.53" cy="188.7" r="1.3" fill="#1030d8" />
<circle cx="419.07" cy="195.83" r="1.3" fill="#1030d8" />
<circle cx="426.12" cy="189.09" r="1.3" fill="#1030d8" />
<circle cx="425.21" cy="190.71" r="1.3" fill="#1030d8" />
<circle cx="424.21" cy="197.72" r="1.3" fill="#1030d8" />
<circle cx="423.68" cy="196.91" r="1.3" fill="#1030d8" />
<circle cx="421.51" cy="186.63" r="1.3" fill="#1030d8" />
<line x1="252.5" y1="305.4" x2="439.5" y2="305.4" stroke="#1f7a1f" stroke-width="3" />
<circle cx="439.7" cy="305.4" r="1.8" fill="#8b1a1a" />
<rect x="246.5" y="169.7" width="196.2" height="146" fill="none" stroke="#333" stroke-width="1.2"/>
<line x1="246.5" y1="305.5" x2="243.5" y2="305.5" stroke="#333" stroke-width="1" />
<text x="241.8" y="308.6" font-size="8.5" text-anchor="end" font-weight="bold" fill="#231f20">0</text>
<line x1="246.5" y1="284.6" x2="243.5" y2="284.6" stroke="#333" stroke-width="1" />
<text x="241.8" y="287.7" font-size="8.5" text-anchor="end" font-weight="bold" fill="#231f20">2000</text>
<line x1="246.5" y1="263.7" x2="243.5" y2="263.7" stroke="#333" stroke-width="1" />
<text x="241.8" y="266.8" font-size="8.5" text-anchor="end" font-weight="bold" fill="#231f20">4000</text>
<line x1="246.5" y1="242.8" x2="243.5" y2="242.8" stroke="#333" stroke-width="1" />
<text x="241.8" y="245.9" font-size="8.5" text-anchor="end" font-weight="bold" fill="#231f20">6000</text>
<line x1="246.5" y1="221.9" x2="243.5" y2="221.9" stroke="#333" stroke-width="1" />
<text x="241.8" y="225" font-size="8.5" text-anchor="end" font-weight="bold" fill="#231f20">8000</text>
<line x1="246.5" y1="201" x2="243.5" y2="201" stroke="#333" stroke-width="1" />
<text x="241.8" y="204.1" font-size="8.5" text-anchor="end" font-weight="bold" fill="#231f20">10000</text>
<line x1="246.5" y1="180.1" x2="243.5" y2="180.1" stroke="#333" stroke-width="1" />
<text x="241.8" y="183.2" font-size="8.5" text-anchor="end" font-weight="bold" fill="#231f20">12000</text>
<line x1="246.5" y1="295.05" x2="244.7" y2="295.05" stroke="#333" stroke-width="1" />
<line x1="246.5" y1="274.15" x2="244.7" y2="274.15" stroke="#333" stroke-width="1" />
<line x1="246.5" y1="253.25" x2="244.7" y2="253.25" stroke="#333" stroke-width="1" />
<line x1="246.5" y1="232.35" x2="244.7" y2="232.35" stroke="#333" stroke-width="1" />
<line x1="246.5" y1="211.45" x2="244.7" y2="211.45" stroke="#333" stroke-width="1" />
<line x1="246.5" y1="190.55" x2="244.7" y2="190.55" stroke="#333" stroke-width="1" />
<line x1="255.7" y1="315.7" x2="255.7" y2="312.7" stroke="#333" stroke-width="1" />
<text x="255.7" y="329.2" font-size="8.5" text-anchor="middle" font-weight="bold" fill="#231f20">0</text>
<line x1="291.6" y1="315.7" x2="291.6" y2="312.7" stroke="#333" stroke-width="1" />
<text x="291.6" y="329.2" font-size="8.5" text-anchor="middle" font-weight="bold" fill="#231f20">500</text>
<line x1="327.5" y1="315.7" x2="327.5" y2="312.7" stroke="#333" stroke-width="1" />
<text x="327.5" y="329.2" font-size="8.5" text-anchor="middle" font-weight="bold" fill="#231f20">1000</text>
<line x1="363.4" y1="315.7" x2="363.4" y2="312.7" stroke="#333" stroke-width="1" />
<text x="363.4" y="329.2" font-size="8.5" text-anchor="middle" font-weight="bold" fill="#231f20">1500</text>
<line x1="399.3" y1="315.7" x2="399.3" y2="312.7" stroke="#333" stroke-width="1" />
<text x="399.3" y="329.2" font-size="8.5" text-anchor="middle" font-weight="bold" fill="#231f20">2000</text>
<line x1="435.2" y1="315.7" x2="435.2" y2="312.7" stroke="#333" stroke-width="1" />
<text x="435.2" y="329.2" font-size="8.5" text-anchor="middle" font-weight="bold" fill="#231f20">2500</text>
<line x1="273.65" y1="315.7" x2="273.65" y2="313.9" stroke="#333" stroke-width="1" />
<line x1="309.55" y1="315.7" x2="309.55" y2="313.9" stroke="#333" stroke-width="1" />
<line x1="345.45" y1="315.7" x2="345.45" y2="313.9" stroke="#333" stroke-width="1" />
<line x1="381.35" y1="315.7" x2="381.35" y2="313.9" stroke="#333" stroke-width="1" />
<line x1="417.25" y1="315.7" x2="417.25" y2="313.9" stroke="#333" stroke-width="1" />
<text x="345" y="340.3" font-size="8.7" text-anchor="middle" font-weight="bold" fill="#231f20">Time (s)</text>
<text x="213.2" y="243.8" font-size="8.7" text-anchor="middle" font-weight="bold" fill="#231f20" transform="rotate(-90 213.2 243.8)">Response (R<tspan font-size="5.5" dy="1.6">a</tspan><tspan dy="-1.6">/R<tspan font-size="5.5" dy="1.6">g</tspan><tspan dy="-1.6">)</tspan></tspan></text>
<text x="205.5" y="174.6" font-size="14" font-weight="bold" fill="#231f20">e</text>
<line x1="253" y1="179.3" x2="267.4" y2="179.3" stroke="#2e8b2e" stroke-width="1.1" />
<circle cx="260.4" cy="179.3" r="1.5" fill="#2e8b2e" />
<text x="271.4" y="181.9" font-size="7.2" font-weight="bold" fill="#231f20">SnS<tspan font-size="5" dy="1.5">2</tspan><tspan dy="-1.5">/SnO<tspan font-size="5" dy="1.5">2</tspan><tspan dy="-1.5">-2</tspan></tspan></text>
<line x1="253" y1="188.8" x2="267.4" y2="188.8" stroke="#8b1a1a" stroke-width="1.1" />
<circle cx="260.4" cy="188.8" r="1.5" fill="#8b1a1a" />
<text x="271.4" y="191.4" font-size="7.2" font-weight="bold" fill="#231f20">0.5 at.% Pd/SnS<tspan font-size="5" dy="1.5">2</tspan><tspan dy="-1.5">/SnO<tspan font-size="5" dy="1.5">2</tspan><tspan dy="-1.5"></tspan></tspan></text>
<line x1="253" y1="198.3" x2="267.4" y2="198.3" stroke="#2a4ad8" stroke-width="1.1" />
<circle cx="260.4" cy="198.3" r="1.5" fill="#2a4ad8" />
<text x="271.4" y="200.9" font-size="7.2" font-weight="bold" fill="#231f20">1.0 at.% Pd/SnS<tspan font-size="5" dy="1.5">2</tspan><tspan dy="-1.5">/SnO<tspan font-size="5" dy="1.5">2</tspan><tspan dy="-1.5"></tspan></tspan></text>
<line x1="253" y1="207.8" x2="267.4" y2="207.8" stroke="#8a8a1a" stroke-width="1.1" />
<circle cx="260.4" cy="207.8" r="1.5" fill="#8a8a1a" />
<text x="271.4" y="210.4" font-size="7.2" font-weight="bold" fill="#231f20">1.5 at.% Pd/SnS<tspan font-size="5" dy="1.5">2</tspan><tspan dy="-1.5">/SnO<tspan font-size="5" dy="1.5">2</tspan><tspan dy="-1.5"></tspan></tspan></text>
<text x="261.6" y="301.9" font-size="5.7" text-anchor="middle" font-weight="bold" fill="#231f20">100 ppm</text>
<text x="272.1" y="296.8" font-size="5.7" text-anchor="middle" font-weight="bold" fill="#231f20">500 ppm</text>
<text x="285.8" y="291.8" font-size="5.7" text-anchor="middle" font-weight="bold" fill="#231f20">1000 ppm</text>
<text x="301.5" y="286.9" font-size="5.7" text-anchor="middle" font-weight="bold" fill="#231f20">2000 ppm</text>
<text x="315.6" y="277.2" font-size="5.7" text-anchor="middle" font-weight="bold" fill="#231f20">3000 ppm</text>
<text x="331.2" y="264" font-size="5.7" text-anchor="middle" font-weight="bold" fill="#231f20">4000 ppm</text>
<text x="345.4" y="250.2" font-size="5.7" text-anchor="middle" font-weight="bold" fill="#231f20">5000 ppm</text>
<text x="359.7" y="235" font-size="5.7" text-anchor="middle" font-weight="bold" fill="#231f20">6000 ppm</text>
<text x="373.5" y="223.1" font-size="5.7" text-anchor="middle" font-weight="bold" fill="#231f20">7000 ppm</text>
<text x="388.3" y="206.6" font-size="5.7" text-anchor="middle" font-weight="bold" fill="#231f20">8000 ppm</text>
<text x="403.1" y="195.6" font-size="5.7" text-anchor="middle" font-weight="bold" fill="#231f20">9000 ppm</text>
<text x="415.6" y="183.2" font-size="5.7" text-anchor="middle" font-weight="bold" fill="#231f20">10000 ppm</text>
<rect x="484.6" y="204.5" width="196.8" height="36" fill="#e4fafa" />
<rect x="484.6" y="169.8" width="196.8" height="146.5" fill="none" stroke="#333" stroke-width="1.2"/>
<line x1="484.6" y1="315.4" x2="481.6" y2="315.4" stroke="#333" stroke-width="1" />
<text x="480.6" y="318.5" font-size="8.5" text-anchor="end" font-weight="bold" fill="#231f20">3000</text>
<line x1="484.6" y1="286.44" x2="481.6" y2="286.44" stroke="#333" stroke-width="1" />
<text x="480.6" y="289.54" font-size="8.5" text-anchor="end" font-weight="bold" fill="#231f20">3500</text>
<line x1="484.6" y1="257.48" x2="481.6" y2="257.48" stroke="#333" stroke-width="1" />
<text x="480.6" y="260.58" font-size="8.5" text-anchor="end" font-weight="bold" fill="#231f20">4000</text>
<line x1="484.6" y1="228.52" x2="481.6" y2="228.52" stroke="#333" stroke-width="1" />
<text x="480.6" y="231.62" font-size="8.5" text-anchor="end" font-weight="bold" fill="#231f20">4500</text>
<line x1="484.6" y1="199.56" x2="481.6" y2="199.56" stroke="#333" stroke-width="1" />
<text x="480.6" y="202.66" font-size="8.5" text-anchor="end" font-weight="bold" fill="#231f20">5000</text>
<line x1="484.6" y1="170.6" x2="481.6" y2="170.6" stroke="#333" stroke-width="1" />
<text x="480.6" y="173.7" font-size="8.5" text-anchor="end" font-weight="bold" fill="#231f20">5500</text>
<line x1="484.6" y1="300.92" x2="482.8" y2="300.92" stroke="#333" stroke-width="1" />
<line x1="484.6" y1="271.96" x2="482.8" y2="271.96" stroke="#333" stroke-width="1" />
<line x1="484.6" y1="243" x2="482.8" y2="243" stroke="#333" stroke-width="1" />
<line x1="484.6" y1="214.04" x2="482.8" y2="214.04" stroke="#333" stroke-width="1" />
<line x1="484.6" y1="185.08" x2="482.8" y2="185.08" stroke="#333" stroke-width="1" />
<line x1="498.8" y1="316.3" x2="498.8" y2="313.3" stroke="#333" stroke-width="1" />
<text x="498.8" y="328.6" font-size="8.5" text-anchor="middle" font-weight="bold" fill="#231f20">0</text>
<line x1="526.85" y1="316.3" x2="526.85" y2="313.3" stroke="#333" stroke-width="1" />
<text x="526.85" y="328.6" font-size="8.5" text-anchor="middle" font-weight="bold" fill="#231f20">5</text>
<line x1="554.9" y1="316.3" x2="554.9" y2="313.3" stroke="#333" stroke-width="1" />
<text x="554.9" y="328.6" font-size="8.5" text-anchor="middle" font-weight="bold" fill="#231f20">10</text>
<line x1="582.95" y1="316.3" x2="582.95" y2="313.3" stroke="#333" stroke-width="1" />
<text x="582.95" y="328.6" font-size="8.5" text-anchor="middle" font-weight="bold" fill="#231f20">15</text>
<line x1="611" y1="316.3" x2="611" y2="313.3" stroke="#333" stroke-width="1" />
<text x="611" y="328.6" font-size="8.5" text-anchor="middle" font-weight="bold" fill="#231f20">20</text>
<line x1="639.05" y1="316.3" x2="639.05" y2="313.3" stroke="#333" stroke-width="1" />
<text x="639.05" y="328.6" font-size="8.5" text-anchor="middle" font-weight="bold" fill="#231f20">25</text>
<line x1="667.1" y1="316.3" x2="667.1" y2="313.3" stroke="#333" stroke-width="1" />
<text x="667.1" y="328.6" font-size="8.5" text-anchor="middle" font-weight="bold" fill="#231f20">30</text>
<line x1="512.83" y1="316.3" x2="512.83" y2="314.5" stroke="#333" stroke-width="1" />
<line x1="540.88" y1="316.3" x2="540.88" y2="314.5" stroke="#333" stroke-width="1" />
<line x1="568.92" y1="316.3" x2="568.92" y2="314.5" stroke="#333" stroke-width="1" />
<line x1="596.98" y1="316.3" x2="596.98" y2="314.5" stroke="#333" stroke-width="1" />
<line x1="625.02" y1="316.3" x2="625.02" y2="314.5" stroke="#333" stroke-width="1" />
<line x1="653.08" y1="316.3" x2="653.08" y2="314.5" stroke="#333" stroke-width="1" />
<text x="580.5" y="340.5" font-size="8.7" text-anchor="middle" font-weight="bold" fill="#231f20">Time (day)</text>
<text x="455.6" y="248" font-size="8.7" text-anchor="middle" font-weight="bold" fill="#231f20" transform="rotate(-90 455.6 248)">Response (R<tspan font-size="5.5" dy="1.6">a</tspan><tspan dy="-1.6">/R<tspan font-size="5.5" dy="1.6">g</tspan><tspan dy="-1.6">)</tspan></tspan></text>
<text x="446.8" y="174.7" font-size="14" font-weight="bold" fill="#231f20">f</text>
<rect x="499.3" y="258.6" width="42.9" height="34.3" fill="#fff" stroke="#444" stroke-width="0.6"/><polyline points="499.8,262.9 513.2,263.3 514,265.9 514.3,285.6 515.5,286.6 526.9,287 527.9,284.6 528.3,264.9 529.9,263.2 541.7,262.9" fill="none" stroke="#2030d8" stroke-width="1.1" stroke-linejoin="round" stroke-linecap="round" /><text x="498.3" y="264.4" font-size="2.6" text-anchor="end" fill="#555">10<tspan font-size="1.8" dy="-1">4</tspan><tspan dy="1"></tspan></text><text x="498.3" y="276.25" font-size="2.6" text-anchor="end" fill="#555">10<tspan font-size="1.8" dy="-1">3</tspan><tspan dy="1"></tspan></text><text x="498.3" y="288.1" font-size="2.6" text-anchor="end" fill="#555">10<tspan font-size="1.8" dy="-1">2</tspan><tspan dy="1"></tspan></text><text x="499.3" y="296.1" font-size="2.8" text-anchor="middle" fill="#555">0</text><text x="513.6" y="296.1" font-size="2.8" text-anchor="middle" fill="#555">100</text><text x="527.9" y="296.1" font-size="2.8" text-anchor="middle" fill="#555">200</text><text x="542.2" y="296.1" font-size="2.8" text-anchor="middle" fill="#555">300</text><text x="520.75" y="299.9" font-size="2.9" text-anchor="middle" fill="#555">Time (s)</text><text x="493.8" y="275.75" font-size="2.8" text-anchor="middle" fill="#555" transform="rotate(-90 493.8 275.75)">Response (&#937;)</text>
<rect x="565.5" y="258.2" width="43.8" height="32.8" fill="#fff" stroke="#444" stroke-width="0.6"/><polyline points="566,262.5 579.2,262.9 580,265.5 580.3,283.7 581.5,284.7 593.5,285.1 594.5,282.7 594.9,264.5 596.5,262.8 608.8,262.5" fill="none" stroke="#2030d8" stroke-width="1.1" stroke-linejoin="round" stroke-linecap="round" /><text x="564.5" y="264" font-size="2.6" text-anchor="end" fill="#555">10<tspan font-size="1.8" dy="-1">4</tspan><tspan dy="1"></tspan></text><text x="564.5" y="275.1" font-size="2.6" text-anchor="end" fill="#555">10<tspan font-size="1.8" dy="-1">3</tspan><tspan dy="1"></tspan></text><text x="564.5" y="286.2" font-size="2.6" text-anchor="end" fill="#555">10<tspan font-size="1.8" dy="-1">2</tspan><tspan dy="1"></tspan></text><text x="565.5" y="294.2" font-size="2.8" text-anchor="middle" fill="#555">0</text><text x="580.1" y="294.2" font-size="2.8" text-anchor="middle" fill="#555">100</text><text x="594.7" y="294.2" font-size="2.8" text-anchor="middle" fill="#555">200</text><text x="609.3" y="294.2" font-size="2.8" text-anchor="middle" fill="#555">300</text><text x="587.4" y="298" font-size="2.9" text-anchor="middle" fill="#555">Time (s)</text><text x="560" y="274.6" font-size="2.8" text-anchor="middle" fill="#555" transform="rotate(-90 560 274.6)">Response (&#937;)</text>
<rect x="631.5" y="258.2" width="43.8" height="32.8" fill="#fff" stroke="#444" stroke-width="0.6"/><polyline points="632,262.5 645.8,262.9 646.6,265.5 646.9,283.7 648.1,284.7 659.8,285.1 660.8,282.7 661.2,264.5 662.8,262.8 674.8,262.5" fill="none" stroke="#2030d8" stroke-width="1.1" stroke-linejoin="round" stroke-linecap="round" /><text x="630.5" y="264" font-size="2.6" text-anchor="end" fill="#555">10<tspan font-size="1.8" dy="-1">4</tspan><tspan dy="1"></tspan></text><text x="630.5" y="275.1" font-size="2.6" text-anchor="end" fill="#555">10<tspan font-size="1.8" dy="-1">3</tspan><tspan dy="1"></tspan></text><text x="630.5" y="286.2" font-size="2.6" text-anchor="end" fill="#555">10<tspan font-size="1.8" dy="-1">2</tspan><tspan dy="1"></tspan></text><text x="631.5" y="294.2" font-size="2.8" text-anchor="middle" fill="#555">0</text><text x="646.1" y="294.2" font-size="2.8" text-anchor="middle" fill="#555">100</text><text x="660.7" y="294.2" font-size="2.8" text-anchor="middle" fill="#555">200</text><text x="675.3" y="294.2" font-size="2.8" text-anchor="middle" fill="#555">300</text><text x="653.4" y="298" font-size="2.9" text-anchor="middle" fill="#555">Time (s)</text><text x="626" y="274.6" font-size="2.8" text-anchor="middle" fill="#555" transform="rotate(-90 626 274.6)">Response (&#937;)</text>
<line x1="499.5" y1="219" x2="506.5" y2="254.5" stroke="#222" stroke-width="0.8" stroke-dasharray="2 1.5"/>
<polygon points="506.79,255.97 504.54,252.85 507.68,252.23" fill="#222" />
<line x1="582.8" y1="225" x2="582.8" y2="254" stroke="#222" stroke-width="0.8" stroke-dasharray="2 1.5"/>
<polygon points="582.8,255.5 581.2,252 584.4,252" fill="#222" />
<line x1="667" y1="236" x2="661.5" y2="254" stroke="#222" stroke-width="0.8" stroke-dasharray="2 1.5"/>
<polygon points="661.06,255.43 660.55,251.62 663.61,252.55" fill="#222" />
<polyline points="498.8,214.2 526.85,215.8 554.9,225.8 582.95,220.6 611,226.1 639.05,230.6 667.1,231.2" fill="none" stroke="#1a2ae0" stroke-width="1.3" stroke-linejoin="round" stroke-linecap="round" />
<line x1="498.8" y1="206.9" x2="498.8" y2="221.5" stroke="#e03a3a" stroke-width="0.9" />
<line x1="496.8" y1="206.9" x2="500.8" y2="206.9" stroke="#e03a3a" stroke-width="0.9" />
<line x1="496.8" y1="221.5" x2="500.8" y2="221.5" stroke="#e03a3a" stroke-width="0.9" />
<circle cx="498.8" cy="214.2" r="3.4" fill="#1a1ad0" />
<circle cx="497.8" cy="213.2" r="1.2" fill="#8090ff" />
<line x1="526.85" y1="208" x2="526.85" y2="223.6" stroke="#e03a3a" stroke-width="0.9" />
<line x1="524.85" y1="208" x2="528.85" y2="208" stroke="#e03a3a" stroke-width="0.9" />
<line x1="524.85" y1="223.6" x2="528.85" y2="223.6" stroke="#e03a3a" stroke-width="0.9" />
<circle cx="526.85" cy="215.8" r="3.4" fill="#1a1ad0" />
<circle cx="525.85" cy="214.8" r="1.2" fill="#8090ff" />
<line x1="554.9" y1="218.4" x2="554.9" y2="233.2" stroke="#e03a3a" stroke-width="0.9" />
<line x1="552.9" y1="218.4" x2="556.9" y2="218.4" stroke="#e03a3a" stroke-width="0.9" />
<line x1="552.9" y1="233.2" x2="556.9" y2="233.2" stroke="#e03a3a" stroke-width="0.9" />
<circle cx="554.9" cy="225.8" r="3.4" fill="#1a1ad0" />
<circle cx="553.9" cy="224.8" r="1.2" fill="#8090ff" />
<line x1="582.95" y1="212.4" x2="582.95" y2="228.8" stroke="#e03a3a" stroke-width="0.9" />
<line x1="580.95" y1="212.4" x2="584.95" y2="212.4" stroke="#e03a3a" stroke-width="0.9" />
<line x1="580.95" y1="228.8" x2="584.95" y2="228.8" stroke="#e03a3a" stroke-width="0.9" />
<circle cx="582.95" cy="220.6" r="3.4" fill="#1a1ad0" />
<circle cx="581.95" cy="219.6" r="1.2" fill="#8090ff" />
<line x1="611" y1="219.5" x2="611" y2="232.7" stroke="#e03a3a" stroke-width="0.9" />
<line x1="609" y1="219.5" x2="613" y2="219.5" stroke="#e03a3a" stroke-width="0.9" />
<line x1="609" y1="232.7" x2="613" y2="232.7" stroke="#e03a3a" stroke-width="0.9" />
<circle cx="611" cy="226.1" r="3.4" fill="#1a1ad0" />
<circle cx="610" cy="225.1" r="1.2" fill="#8090ff" />
<line x1="639.05" y1="222.4" x2="639.05" y2="238.8" stroke="#e03a3a" stroke-width="0.9" />
<line x1="637.05" y1="222.4" x2="641.05" y2="222.4" stroke="#e03a3a" stroke-width="0.9" />
<line x1="637.05" y1="238.8" x2="641.05" y2="238.8" stroke="#e03a3a" stroke-width="0.9" />
<circle cx="639.05" cy="230.6" r="3.4" fill="#1a1ad0" />
<circle cx="638.05" cy="229.6" r="1.2" fill="#8090ff" />
<line x1="667.1" y1="223.1" x2="667.1" y2="239.3" stroke="#e03a3a" stroke-width="0.9" />
<line x1="665.1" y1="223.1" x2="669.1" y2="223.1" stroke="#e03a3a" stroke-width="0.9" />
<line x1="665.1" y1="239.3" x2="669.1" y2="239.3" stroke="#e03a3a" stroke-width="0.9" />
<circle cx="667.1" cy="231.2" r="3.4" fill="#1a1ad0" />
<circle cx="666.1" cy="230.2" r="1.2" fill="#8090ff" />
<line x1="576.4" y1="178.2" x2="592.8" y2="178.2" stroke="#1a2ae0" stroke-width="1.3" />
<circle cx="584.3" cy="178.2" r="3.2" fill="#1a1ad0" />
<circle cx="583.4" cy="177.3" r="1.1" fill="#8090ff" />
<text x="595.8" y="181" font-size="7.4" font-weight="bold" fill="#231f20">1.0 at.% Pd/SnS<tspan font-size="5" dy="1.5">2</tspan><tspan dy="-1.5">/SnO<tspan font-size="5" dy="1.5">2</tspan><tspan dy="-1.5"></tspan></tspan></text>
<text x="0.4" y="360" font-size="14" font-weight="bold" fill="#231f20">g</text>
<g filter="url(#saedN)"><rect x="20.1" y="349.9" width="59" height="38.7" fill="#676767" /></g>
<circle cx="52" cy="370.7" r="6.24" fill="url(#halo)" opacity="0.5"/>
<circle cx="52" cy="370.7" r="2.99" fill="none" stroke="#a0a0a0" stroke-width="0.8" opacity="0.5"/>
<circle cx="58.21" cy="372.62" r="0.45" fill="#e8e8e8" />
<circle cx="54.36" cy="376.76" r="0.45" fill="#e8e8e8" />
<circle cx="49.3" cy="376.61" r="0.45" fill="#e8e8e8" />
<circle cx="45.69" cy="372.26" r="0.45" fill="#e8e8e8" />
<circle cx="46.86" cy="366.72" r="0.45" fill="#e8e8e8" />
<circle cx="51.27" cy="364.24" r="0.45" fill="#e8e8e8" />
<circle cx="56.61" cy="366.11" r="0.45" fill="#e8e8e8" />
<circle cx="47" cy="362" r="0.5" fill="#e8e8e8" />
<circle cx="60" cy="366" r="0.4" fill="#e8e8e8" />
<defs><linearGradient id="stp1" gradientUnits="userSpaceOnUse" x1="52" y1="370.7" x2="35" y2="377"><stop offset="0" stop-color="#2a2a2a"/><stop offset="0.6" stop-color="#383838"/><stop offset="1" stop-color="#5a5a5a" stop-opacity="0.2"/></linearGradient></defs>
<polygon points="51.44,369.2 34.56,375.8 35.44,378.2 52.56,372.2" fill="url(#stp1)" />
<text x="78.6" y="387.4" font-size="8.4" text-anchor="end" font-weight="bold" fill="#ecc440" textLength="22.2" lengthAdjust="spacingAndGlyphs">SAED 1</text>
<text x="51" y="399.6" font-size="8.8" text-anchor="middle" fill="#231f20">200 &#176;C 48 h</text>
<g filter="url(#saedN)"><rect x="20.1" y="402.9" width="59" height="38.7" fill="#676767" /></g>
<circle cx="48.5" cy="416.3" r="10.08" fill="url(#halo)" opacity="0.95"/>
<circle cx="48.5" cy="416.3" r="4.83" fill="none" stroke="#a0a0a0" stroke-width="0.8" opacity="0.5"/>
<defs><linearGradient id="stp2" gradientUnits="userSpaceOnUse" x1="48.5" y1="416.3" x2="24" y2="427"><stop offset="0" stop-color="#2a2a2a"/><stop offset="0.6" stop-color="#383838"/><stop offset="1" stop-color="#5a5a5a" stop-opacity="0.2"/></linearGradient></defs>
<polygon points="47.74,414.56 23.39,425.61 24.61,428.39 49.26,418.04" fill="url(#stp2)" />
<text x="78.6" y="440.4" font-size="8.4" text-anchor="end" font-weight="bold" fill="#ecc440" textLength="22.2" lengthAdjust="spacingAndGlyphs">SAED 2</text>
<g filter="url(#saedN)"><rect x="20.1" y="445" width="59" height="38.7" fill="#676767" /></g>
<circle cx="51.8" cy="463.3" r="7.2" fill="url(#halo)" opacity="0.5"/>
<circle cx="51.8" cy="463.3" r="3.45" fill="none" stroke="#a0a0a0" stroke-width="0.8" opacity="0.5"/>
<circle cx="54.3" cy="455.5" r="1.1" fill="#e8e8e8" />
<circle cx="30.7" cy="456.2" r="0.5" fill="#e8e8e8" />
<circle cx="49.6" cy="470.8" r="0.5" fill="#e8e8e8" />
<circle cx="57" cy="462" r="0.4" fill="#e8e8e8" />
<defs><linearGradient id="stp3" gradientUnits="userSpaceOnUse" x1="51.8" y1="463.3" x2="31" y2="471"><stop offset="0" stop-color="#2a2a2a"/><stop offset="0.6" stop-color="#383838"/><stop offset="1" stop-color="#5a5a5a" stop-opacity="0.2"/></linearGradient></defs>
<polygon points="51.24,461.8 30.56,469.8 31.44,472.2 52.36,464.8" fill="url(#stp3)" />
<text x="78.6" y="482.5" font-size="8.4" text-anchor="end" font-weight="bold" fill="#ecc440" textLength="22.2" lengthAdjust="spacingAndGlyphs">SAED 1</text>
<text x="49.6" y="494.6" font-size="8.8" text-anchor="middle" fill="#231f20">200 &#176;C 170 h</text>
<g filter="url(#saedN)"><rect x="20.1" y="497.8" width="59" height="38.7" fill="#676767" /></g>
<circle cx="51.8" cy="516.1" r="8.64" fill="url(#halo)" opacity="0.8"/>
<circle cx="51.8" cy="516.1" r="4.14" fill="none" stroke="#a0a0a0" stroke-width="0.8" opacity="0.5"/>
<defs><linearGradient id="stp4" gradientUnits="userSpaceOnUse" x1="51.8" y1="516.1" x2="34" y2="523.5"><stop offset="0" stop-color="#2a2a2a"/><stop offset="0.6" stop-color="#383838"/><stop offset="1" stop-color="#5a5a5a" stop-opacity="0.2"/></linearGradient></defs>
<polygon points="51.19,514.62 33.51,522.32 34.49,524.68 52.41,517.58" fill="url(#stp4)" />
<text x="78.6" y="535.3" font-size="8.4" text-anchor="end" font-weight="bold" fill="#ecc440" textLength="22.2" lengthAdjust="spacingAndGlyphs">SAED 2</text>
<g clip-path="url(#clipTC)"><g filter="url(#temN)">
<rect x="86.9" y="349.9" width="118.8" height="91.6" fill="url(#temC)" />
<path d="M86.9,349 L86.9,362 C100,356 110,357 125,355 C145,353 160,355 175,354 C190,353 200,356 206,355 L206,349 Z" fill="#c4c4c4" />
</g></g>
<circle cx="121.8" cy="373.1" r="13.4" fill="none" stroke="#c8a83a" stroke-width="0.55"/>
<circle cx="119" cy="424.4" r="13.4" fill="none" stroke="#c8a83a" stroke-width="0.55"/>
<text x="130.8" y="389.6" font-size="6.8" font-weight="bold" fill="#e8c43a">SAED2</text>
<text x="130.3" y="436" font-size="6.8" font-weight="bold" fill="#e8c43a">SAED1</text>
<text x="192.3" y="438.3" font-size="7.5" fill="#e0e0e0">(c)</text>
<rect x="87.9" y="434.2" width="13.4" height="5.3" fill="#fff" />
<line x1="89" y1="438.3" x2="100" y2="438.3" stroke="#111" stroke-width="1" />
<text x="94.5" y="437" font-size="3" text-anchor="middle" fill="#111">1nm</text>
<g clip-path="url(#clipTD)"><g filter="url(#temN)">
<rect x="87" y="443.8" width="118.6" height="92.1" fill="#838383" />
<rect x="160" y="443.8" width="46" height="92.1" fill="#747474" filter="url(#blur2)"/>
<path d="M87,443 L102.5,443 C101,455 103,462 104,472 C106,482 105,492 106,502 C107,512 108,522 112,537 L87,537 Z" fill="#aaaaaa" />
<path d="M102.5,443 L106,443 C105,458 107,470 108,485 C109,500 111,518 116,537 L112,537 C108,522 107,512 106,502 C105,492 106,482 104,472 C103,462 101,455 102.5,443 Z" fill="#959595" />
<circle cx="166.7" cy="499" r="5" fill="#555" filter="url(#blur2)"/>
</g></g>
<circle cx="149.4" cy="461.5" r="12.8" fill="none" stroke="#c8a83a" stroke-width="0.55"/>
<circle cx="131.6" cy="518.7" r="13" fill="none" stroke="#c8a83a" stroke-width="0.55"/>
<text x="118.4" y="453" font-size="6.8" font-weight="bold" fill="#e8c43a">SAED1</text>
<text x="110" y="505.2" font-size="6.8" font-weight="bold" fill="#e8c43a">SAED2</text>
<text x="191.4" y="533" font-size="7.5" fill="#e0e0e0">(d)</text>
<rect x="88" y="529.5" width="13.4" height="5.3" fill="#fff" />
<line x1="89" y1="533.6" x2="100" y2="533.6" stroke="#111" stroke-width="1" />
<rect x="240.7" y="355.5" width="195.5" height="142.8" fill="none" stroke="#555" stroke-width="1"/>
<line x1="364.9" y1="355.5" x2="364.9" y2="498.3" stroke="#555" stroke-width="1" />
<line x1="240.7" y1="498.3" x2="237.7" y2="498.3" stroke="#555" stroke-width="0.9" />
<line x1="240.7" y1="474.1" x2="238.9" y2="474.1" stroke="#555" stroke-width="0.9" />
<line x1="240.7" y1="459.94" x2="238.9" y2="459.94" stroke="#555" stroke-width="0.9" />
<line x1="240.7" y1="449.89" x2="238.9" y2="449.89" stroke="#555" stroke-width="0.9" />
<line x1="240.7" y1="442.1" x2="238.9" y2="442.1" stroke="#555" stroke-width="0.9" />
<line x1="240.7" y1="435.74" x2="238.9" y2="435.74" stroke="#555" stroke-width="0.9" />
<line x1="240.7" y1="430.35" x2="238.9" y2="430.35" stroke="#555" stroke-width="0.9" />
<line x1="240.7" y1="425.69" x2="238.9" y2="425.69" stroke="#555" stroke-width="0.9" />
<line x1="240.7" y1="421.58" x2="238.9" y2="421.58" stroke="#555" stroke-width="0.9" />
<line x1="240.7" y1="417.9" x2="237.7" y2="417.9" stroke="#555" stroke-width="0.9" />
<line x1="240.7" y1="393.7" x2="238.9" y2="393.7" stroke="#555" stroke-width="0.9" />
<line x1="240.7" y1="379.54" x2="238.9" y2="379.54" stroke="#555" stroke-width="0.9" />
<line x1="240.7" y1="369.49" x2="238.9" y2="369.49" stroke="#555" stroke-width="0.9" />
<line x1="240.7" y1="361.7" x2="238.9" y2="361.7" stroke="#555" stroke-width="0.9" />
<line x1="240.7" y1="498.3" x2="240.7" y2="500.9" stroke="#555" stroke-width="0.9" />
<line x1="251.03" y1="498.3" x2="251.03" y2="499.9" stroke="#555" stroke-width="0.9" />
<line x1="261.37" y1="498.3" x2="261.37" y2="499.9" stroke="#555" stroke-width="0.9" />
<line x1="271.7" y1="498.3" x2="271.7" y2="500.9" stroke="#555" stroke-width="0.9" />
<line x1="282.03" y1="498.3" x2="282.03" y2="499.9" stroke="#555" stroke-width="0.9" />
<line x1="292.37" y1="498.3" x2="292.37" y2="499.9" stroke="#555" stroke-width="0.9" />
<line x1="302.7" y1="498.3" x2="302.7" y2="500.9" stroke="#555" stroke-width="0.9" />
<line x1="313.03" y1="498.3" x2="313.03" y2="499.9" stroke="#555" stroke-width="0.9" />
<line x1="323.37" y1="498.3" x2="323.37" y2="499.9" stroke="#555" stroke-width="0.9" />
<line x1="333.7" y1="498.3" x2="333.7" y2="500.9" stroke="#555" stroke-width="0.9" />
<line x1="344.03" y1="498.3" x2="344.03" y2="499.9" stroke="#555" stroke-width="0.9" />
<line x1="354.37" y1="498.3" x2="354.37" y2="499.9" stroke="#555" stroke-width="0.9" />
<line x1="364.7" y1="498.3" x2="364.7" y2="500.9" stroke="#555" stroke-width="0.9" />
<line x1="375.03" y1="498.3" x2="375.03" y2="499.9" stroke="#555" stroke-width="0.9" />
<line x1="385.37" y1="498.3" x2="385.37" y2="499.9" stroke="#555" stroke-width="0.9" />
<line x1="395.7" y1="498.3" x2="395.7" y2="500.9" stroke="#555" stroke-width="0.9" />
<line x1="406.03" y1="498.3" x2="406.03" y2="499.9" stroke="#555" stroke-width="0.9" />
<line x1="416.37" y1="498.3" x2="416.37" y2="499.9" stroke="#555" stroke-width="0.9" />
<line x1="426.7" y1="498.3" x2="426.7" y2="500.9" stroke="#555" stroke-width="0.9" />
<text x="240.7" y="513.4" font-size="8.6" text-anchor="middle" fill="#231f20">0</text>
<text x="271.7" y="513.4" font-size="8.6" text-anchor="middle" fill="#231f20">180</text>
<text x="302.7" y="513.4" font-size="8.6" text-anchor="middle" fill="#231f20">360</text>
<text x="333.7" y="513.4" font-size="8.6" text-anchor="middle" fill="#231f20">540</text>
<text x="364.7" y="513.4" font-size="8.6" text-anchor="middle" fill="#231f20">720</text>
<text x="395.7" y="513.4" font-size="8.6" text-anchor="middle" fill="#231f20">900</text>
<text x="426.7" y="513.4" font-size="8.6" text-anchor="middle" fill="#231f20">1080</text>
<text x="235.5" y="501.2" font-size="8.6" text-anchor="end" fill="#231f20">10<tspan font-size="5.6" dy="-3.5">4</tspan><tspan dy="3.5"></tspan></text>
<text x="235.5" y="420.8" font-size="8.6" text-anchor="end" fill="#231f20">10<tspan font-size="5.6" dy="-3.5">5</tspan><tspan dy="3.5"></tspan></text>
<text x="331" y="525.8" font-size="8.6" text-anchor="middle" fill="#231f20">Time [min]</text>
<text x="217.2" y="430.5" font-size="8.6" text-anchor="middle" fill="#231f20" transform="rotate(-90 217.2 430.5)">Resistance [&#937;]</text>
<text x="210" y="360.8" font-size="14" font-weight="bold" fill="#231f20">h</text>
<text x="249.3" y="368.9" font-size="9.1" fill="#231f20">OT 100&#176;C</text>
<text x="249.3" y="380.9" font-size="9.1" fill="#231f20">Air 40% RH</text>
<text x="349.4" y="367" font-size="8.7" fill="#231f20">(i)</text>
<text x="422.5" y="367" font-size="8.7" fill="#231f20">(ii)</text>
<text x="245.7" y="405.8" font-size="8.7" fill="#231f20">BLR</text>
<text x="247.7" y="428.3" font-size="8.7" fill="#231f20">10 ppm</text>
<text x="268" y="440" font-size="8.7" fill="#231f20">50 ppm</text>
<text x="289.7" y="453.2" font-size="8.7" fill="#231f20">H<tspan font-size="5.6" dy="1.8">2</tspan><tspan dy="-1.8"> 100 ppm</tspan></text>
<line x1="243" y1="410.4" x2="436" y2="410.4" stroke="#555" stroke-width="0.8" stroke-dasharray="2.6 2.2"/>
<line x1="243" y1="416.9" x2="436" y2="416.9" stroke="#555" stroke-width="0.8" stroke-dasharray="2.6 2.2"/>
<line x1="297" y1="427.5" x2="427" y2="427.5" stroke="#555" stroke-width="0.8" stroke-dasharray="2.6 2.2"/>
<line x1="313" y1="439.8" x2="419.5" y2="439.8" stroke="#555" stroke-width="0.8" stroke-dasharray="2.6 2.2"/>
<polyline points="241.6,449 241.9,442 242.3,434 242.8,427 243.4,421.5 244.2,418 245.5,415.5 247.5,413.8 250.5,412.6 254.5,411.6 258.5,411 262.6,410.6 263.11,414.27 263.61,415.73 264.12,416.31 264.62,416.55 265.13,416.64 265.63,416.68 266.14,416.69 266.64,416.7 267.15,416.7 267.65,416.7 268.16,416.7 268.66,416.7 269.17,416.7 269.67,416.7 270.18,416.7 270.68,416.7 271.19,416.7 271.69,416.7 272.2,416.7 272.7,412.88 273.2,411.34 273.7,410.72 274.2,410.47 274.7,410.37 275.2,410.33 275.7,410.31 276.2,410.3 276.7,410.3 277.2,410.3 277.7,410.3 278.2,410.3 278.7,410.3 279.2,410.3 279.7,410.3 280.2,410.3 280.7,410.3 281.2,410.3 281.7,410.3 282.2,410.3 282.7,410.3 283.2,420.51 283.7,424.62 284.2,426.28 284.7,426.95 285.2,427.22 285.7,427.33 286.2,427.37 286.7,427.39 287.2,427.4 287.7,427.4 288.2,427.4 288.7,427.4 289.2,427.4 289.7,427.4 290.2,427.4 290.7,427.4 291.2,427.4 291.7,427.4 292.2,427.4 292.7,427.4 293.22,416.94 293.74,412.88 294.26,411.3 294.78,410.69 295.3,410.45 295.82,410.36 296.34,410.32 296.86,410.31 297.38,410.3 297.9,410.3 298.42,410.3 298.94,410.3 299.46,410.3 299.98,410.3 300.5,410.3 301.02,410.3 301.54,410.3 302.06,410.3 302.58,410.3 303.1,410.3 303.62,428.11 304.13,435.1 304.65,437.83 305.16,438.91 305.68,439.33 306.19,439.49 306.7,439.56 307.22,439.58 307.74,439.59 308.25,439.6 308.76,439.6 309.28,439.6 309.8,439.6 310.31,439.6 310.82,439.6 311.34,439.6 311.85,439.6 312.37,439.6 312.88,439.6 313.4,439.6 313.92,421.77 314.43,414.79 314.95,412.06 315.46,410.99 315.98,410.57 316.49,410.41 317.01,410.34 317.53,410.32 318.04,410.31 318.56,410.3 319.07,410.3 319.59,410.3 320.11,410.3 320.62,410.3 321.14,410.3 321.65,410.3 322.17,410.3 322.68,410.3 323.2,410.3 323.7,420.51 324.2,424.62 324.7,426.28 325.2,426.95 325.7,427.22 326.2,427.33 326.7,427.37 327.2,427.39 327.7,427.4 328.2,427.4 328.7,427.4 329.2,427.4 329.7,427.4 330.2,427.4 330.7,427.4 331.2,427.4 331.7,427.4 332.2,427.4 332.7,427.4 333.2,427.4 333.7,427.4 334.2,417.13 334.71,413.03 335.21,411.39 335.72,410.74 336.22,410.47 336.73,410.37 337.23,410.33 337.74,410.31 338.24,410.3 338.75,410.3 339.25,410.3 339.76,410.3 340.26,410.3 340.77,410.3 341.27,410.3 341.78,410.3 342.28,410.3 342.79,410.3 343.29,410.3 343.8,410.3 344.3,410.3 344.82,414.21 345.34,415.73 345.86,416.32 346.38,416.55 346.9,416.64 347.42,416.68 347.94,416.69 348.46,416.7 348.98,416.7 349.5,416.7 350.02,416.7 350.54,416.7 351.06,416.7 351.58,416.7 352.1,416.7 352.62,416.7 353.14,416.7 353.66,416.7 354.18,416.7 354.7,416.7 355.21,412.84 355.71,411.31 356.22,410.7 356.73,410.46 357.24,410.36 357.75,410.33 358.25,410.31 358.76,410.3 359.27,410.3 359.77,410.3 360.28,410.3 360.79,410.3 361.3,410.3 361.81,410.3 362.31,410.3 362.82,410.3 363.33,410.3 363.83,410.3 364.34,410.3 364.85,410.3 365.36,410.3 365.87,410.3 366.37,410.3 366.88,410.3 367.39,410.3 367.89,410.3 368.4,410.3 368.91,410.3 369.42,410.3 369.93,410.3 370.43,410.3 370.94,410.3 371.45,410.3 371.95,410.3 372.46,410.3 372.97,410.3 373.48,410.3 373.99,410.3 374.49,410.3 375,410.3 375.5,414.12 376,415.66 376.5,416.28 377,416.53 377.5,416.63 378,416.67 378.5,416.69 379,416.7 379.5,416.7 380,416.7 380.5,416.7 381,416.7 381.5,416.7 382,416.7 382.5,416.7 383,416.7 383.5,416.7 384,416.7 384.5,416.7 385,416.7 385.5,416.7 386.02,423.24 386.54,425.79 387.06,426.77 387.58,427.16 388.1,427.31 388.62,427.36 389.14,427.39 389.66,427.39 390.18,427.4 390.7,427.4 391.22,427.4 391.74,427.4 392.26,427.4 392.78,427.4 393.3,427.4 393.82,427.4 394.34,427.4 394.86,427.4 395.38,427.4 395.9,427.4 396.4,434.68 396.9,437.62 397.4,438.8 397.9,439.28 398.4,439.47 398.9,439.55 399.4,439.58 399.9,439.59 400.4,439.6 400.9,439.6 401.4,439.6 401.9,439.6 402.4,439.6 402.9,439.6 403.4,439.6 403.9,439.6 404.4,439.6 404.9,439.6 405.4,439.6 405.9,439.6 406.4,439.6 406.9,432.32 407.4,429.38 407.9,428.2 408.4,427.72 408.9,427.53 409.4,427.45 409.9,427.42 410.4,427.41 410.9,427.4 411.4,427.4 411.9,427.4 412.4,427.4 412.9,427.4 413.4,427.4 413.9,427.4 414.4,427.4 414.9,427.4 415.4,427.4 415.9,427.4 416.4,427.4 416.91,420.9 417.43,418.35 417.94,417.35 418.46,416.95 418.97,416.8 419.49,416.74 420,416.72 420.51,416.71 421.03,416.7 421.54,416.7 422.06,416.7 422.57,416.7 423.09,416.7 423.6,416.7 424.11,416.7 424.63,416.7 425.14,416.7 425.66,416.7 426.17,416.7 426.69,416.7 427.2,416.7 427.72,412.8 428.24,411.27 428.75,410.68 429.27,410.45 429.79,410.36 430.31,410.32 430.82,410.31 431.34,410.3 431.86,410.3 432.38,410.3 432.89,410.3 433.41,410.3 433.93,410.3 434.45,410.3 434.96,410.3 435.48,410.3 436,410.3" fill="none" stroke="#1a1aee" stroke-width="1.6" stroke-linejoin="round" stroke-linecap="round" />
<rect x="489" y="355.5" width="182.3" height="146.7" fill="none" stroke="#555" stroke-width="1"/>
<line x1="489" y1="502" x2="486" y2="502" stroke="#555" stroke-width="0.9" />
<line x1="489" y1="468.19" x2="487.2" y2="468.19" stroke="#555" stroke-width="0.9" />
<line x1="489" y1="448.42" x2="487.2" y2="448.42" stroke="#555" stroke-width="0.9" />
<line x1="489" y1="434.39" x2="487.2" y2="434.39" stroke="#555" stroke-width="0.9" />
<line x1="489" y1="423.51" x2="487.2" y2="423.51" stroke="#555" stroke-width="0.9" />
<line x1="489" y1="414.61" x2="487.2" y2="414.61" stroke="#555" stroke-width="0.9" />
<line x1="489" y1="407.1" x2="487.2" y2="407.1" stroke="#555" stroke-width="0.9" />
<line x1="489" y1="400.58" x2="487.2" y2="400.58" stroke="#555" stroke-width="0.9" />
<line x1="489" y1="394.84" x2="487.2" y2="394.84" stroke="#555" stroke-width="0.9" />
<line x1="489" y1="389.7" x2="486" y2="389.7" stroke="#555" stroke-width="0.9" />
<line x1="489" y1="355.89" x2="487.2" y2="355.89" stroke="#555" stroke-width="0.9" />
<line x1="488.9" y1="502.2" x2="488.9" y2="504.8" stroke="#555" stroke-width="0.9" />
<line x1="499.6" y1="502.2" x2="499.6" y2="503.8" stroke="#555" stroke-width="0.9" />
<line x1="510.3" y1="502.2" x2="510.3" y2="504.8" stroke="#555" stroke-width="0.9" />
<line x1="521" y1="502.2" x2="521" y2="503.8" stroke="#555" stroke-width="0.9" />
<line x1="531.7" y1="502.2" x2="531.7" y2="504.8" stroke="#555" stroke-width="0.9" />
<line x1="542.4" y1="502.2" x2="542.4" y2="503.8" stroke="#555" stroke-width="0.9" />
<line x1="553.1" y1="502.2" x2="553.1" y2="504.8" stroke="#555" stroke-width="0.9" />
<line x1="563.8" y1="502.2" x2="563.8" y2="503.8" stroke="#555" stroke-width="0.9" />
<line x1="574.5" y1="502.2" x2="574.5" y2="504.8" stroke="#555" stroke-width="0.9" />
<line x1="585.2" y1="502.2" x2="585.2" y2="503.8" stroke="#555" stroke-width="0.9" />
<line x1="595.9" y1="502.2" x2="595.9" y2="504.8" stroke="#555" stroke-width="0.9" />
<line x1="606.6" y1="502.2" x2="606.6" y2="503.8" stroke="#555" stroke-width="0.9" />
<line x1="617.3" y1="502.2" x2="617.3" y2="504.8" stroke="#555" stroke-width="0.9" />
<line x1="628" y1="502.2" x2="628" y2="503.8" stroke="#555" stroke-width="0.9" />
<line x1="638.7" y1="502.2" x2="638.7" y2="504.8" stroke="#555" stroke-width="0.9" />
<line x1="649.4" y1="502.2" x2="649.4" y2="503.8" stroke="#555" stroke-width="0.9" />
<line x1="660.1" y1="502.2" x2="660.1" y2="504.8" stroke="#555" stroke-width="0.9" />
<line x1="670.8" y1="502.2" x2="670.8" y2="503.8" stroke="#555" stroke-width="0.9" />
<text x="488.9" y="515.9" font-size="8.6" text-anchor="middle" fill="#231f20">0</text>
<text x="510.3" y="515.9" font-size="8.6" text-anchor="middle" fill="#231f20">120</text>
<text x="531.7" y="515.9" font-size="8.6" text-anchor="middle" fill="#231f20">240</text>
<text x="553.1" y="515.9" font-size="8.6" text-anchor="middle" fill="#231f20">360</text>
<text x="574.5" y="515.9" font-size="8.6" text-anchor="middle" fill="#231f20">480</text>
<text x="595.9" y="515.9" font-size="8.6" text-anchor="middle" fill="#231f20">600</text>
<text x="617.3" y="515.9" font-size="8.6" text-anchor="middle" fill="#231f20">720</text>
<text x="638.7" y="515.9" font-size="8.6" text-anchor="middle" fill="#231f20">840</text>
<text x="660.1" y="515.9" font-size="8.6" text-anchor="middle" fill="#231f20">960</text>
<text x="482.6" y="505" font-size="8.6" text-anchor="end" fill="#231f20">10<tspan font-size="5.6" dy="-3.5">5</tspan><tspan dy="3.5"></tspan></text>
<text x="482.6" y="392.7" font-size="8.6" text-anchor="end" fill="#231f20">10<tspan font-size="5.6" dy="-3.5">6</tspan><tspan dy="3.5"></tspan></text>
<text x="579.3" y="529.2" font-size="8.6" text-anchor="middle" fill="#231f20">Time [min]</text>
<text x="467.4" y="428" font-size="8.6" text-anchor="middle" fill="#231f20" transform="rotate(-90 467.4 428)">Resistance [&#937;]</text>
<text x="460.5" y="360.8" font-size="14" font-weight="bold" fill="#231f20">k</text>
<text x="509.6" y="448.5" font-size="8.7" fill="#231f20">Dry air</text>
<text x="492" y="484.4" font-size="8.7" fill="#231f20">OT 100&#176;C - dry air</text>
<text x="492" y="495.5" font-size="8.7" fill="#231f20">H<tspan font-size="5.6" dy="1.8">2</tspan><tspan dy="-1.8"> [ppm]</tspan></text>
<line x1="489" y1="416.5" x2="671" y2="416.5" stroke="#222" stroke-width="0.8" stroke-dasharray="2.4 1.9"/>
<text x="511.1" y="381" font-size="8.6" text-anchor="middle" fill="#ee2a2a">H<tspan font-size="5.6" dy="1.8">2</tspan><tspan dy="-1.8"></tspan></text>
<text x="510.3" y="395" font-size="8.6" text-anchor="middle" fill="#ee2a2a">5</text>
<line x1="510.3" y1="400.5" x2="510.3" y2="412" stroke="#ee2a2a" stroke-width="0.9" />
<polygon points="510.3,415 508.7,411 511.9,411" fill="#ee2a2a" />
<text x="543.2" y="381" font-size="8.6" text-anchor="middle" fill="#ee2a2a">H<tspan font-size="5.6" dy="1.8">2</tspan><tspan dy="-1.8"></tspan></text>
<text x="542.4" y="395" font-size="8.6" text-anchor="middle" fill="#ee2a2a">10</text>
<line x1="542.4" y1="400.5" x2="542.4" y2="412" stroke="#ee2a2a" stroke-width="0.9" />
<polygon points="542.4,415 540.8,411 544,411" fill="#ee2a2a" />
<text x="575.3" y="381" font-size="8.6" text-anchor="middle" fill="#ee2a2a">H<tspan font-size="5.6" dy="1.8">2</tspan><tspan dy="-1.8"></tspan></text>
<text x="574.5" y="395" font-size="8.6" text-anchor="middle" fill="#ee2a2a">20</text>
<line x1="574.5" y1="400.5" x2="574.5" y2="412" stroke="#ee2a2a" stroke-width="0.9" />
<polygon points="574.5,415 572.9,411 576.1,411" fill="#ee2a2a" />
<text x="607.4" y="381" font-size="8.6" text-anchor="middle" fill="#ee2a2a">H<tspan font-size="5.6" dy="1.8">2</tspan><tspan dy="-1.8"></tspan></text>
<text x="606.6" y="395" font-size="8.6" text-anchor="middle" fill="#ee2a2a">50</text>
<line x1="606.6" y1="400.5" x2="606.6" y2="412" stroke="#ee2a2a" stroke-width="0.9" />
<polygon points="606.6,415 605,411 608.2,411" fill="#ee2a2a" />
<text x="639.5" y="381" font-size="8.6" text-anchor="middle" fill="#ee2a2a">H<tspan font-size="5.6" dy="1.8">2</tspan><tspan dy="-1.8"></tspan></text>
<text x="638.7" y="395" font-size="8.6" text-anchor="middle" fill="#ee2a2a">100</text>
<line x1="638.7" y1="400.5" x2="638.7" y2="412" stroke="#ee2a2a" stroke-width="0.9" />
<polygon points="638.7,415 637.1,411 640.3,411" fill="#ee2a2a" />
<line x1="521" y1="439.6" x2="521" y2="431.2" stroke="#222" stroke-width="0.9" />
<polygon points="521,428.2 519.5,432 522.5,432" fill="#222" />
<line x1="553.1" y1="439.6" x2="553.1" y2="431.2" stroke="#222" stroke-width="0.9" />
<polygon points="553.1,428.2 551.6,432 554.6,432" fill="#222" />
<line x1="585.2" y1="442.8" x2="585.2" y2="434.9" stroke="#222" stroke-width="0.9" />
<polygon points="585.2,431.9 583.7,435.7 586.7,435.7" fill="#222" />
<line x1="617.3" y1="451" x2="617.3" y2="443" stroke="#222" stroke-width="0.9" />
<polygon points="617.3,440 615.8,443.8 618.8,443.8" fill="#222" />
<line x1="649.4" y1="463.8" x2="649.4" y2="455.8" stroke="#222" stroke-width="0.9" />
<polygon points="649.4,452.8 647.9,456.6 650.9,456.6" fill="#222" />
<polyline points="489.2,421.3 489.88,420.93 490.57,420.58 491.25,420.26 491.94,419.96 492.62,419.69 493.3,419.43 493.99,419.2 494.67,418.98 495.35,418.77 496.04,418.59 496.72,418.41 497.41,418.25 498.09,418.1 498.77,417.96 499.46,417.83 500.14,417.71 500.83,417.6 501.51,417.5 502.19,417.4 502.88,417.32 503.56,417.23 504.25,417.16 504.93,417.09 505.61,417.02 506.3,416.96 506.98,416.91 507.66,416.86 508.35,416.81 509.03,416.76 509.72,416.72 510.4,416.68 510.66,418.41 510.93,419.14 511.19,419.46 511.46,419.61 511.72,419.69 511.99,419.73 512.25,419.77 512.52,419.8 512.78,419.82 513.05,419.85 513.31,419.87 513.58,419.9 513.85,419.92 514.11,419.95 514.38,419.97 514.64,420 514.9,420.02 515.17,420.05 515.43,420.07 515.7,420.1 515.97,420.12 516.23,420.15 516.5,420.17 516.76,420.2 517.02,420.22 517.29,420.25 517.55,420.27 517.82,420.3 518.09,420.32 518.35,420.35 518.62,420.37 518.88,420.4 519.14,420.42 519.41,420.45 519.67,420.47 519.94,420.5 520.21,420.53 520.47,420.55 520.74,420.58 521,420.6 521.43,418.72 521.86,418.13 522.29,417.87 522.72,417.71 523.15,417.58 523.58,417.46 524.01,417.36 524.44,417.27 524.87,417.2 525.3,417.13 525.73,417.07 526.16,417.01 526.59,416.96 527.02,416.92 527.45,416.89 527.88,416.85 528.31,416.82 528.74,416.8 529.17,416.77 529.6,416.75 530.03,416.74 530.46,416.72 530.89,416.71 531.32,416.69 531.75,416.68 532.18,416.67 532.61,416.67 533.04,416.66 533.47,416.65 533.9,416.65 534.33,416.64 534.76,416.64 535.19,416.63 535.62,416.63 536.05,416.62 536.48,416.62 536.91,416.62 537.34,416.62 537.77,416.61 538.2,416.61 538.63,416.61 539.06,416.61 539.49,416.61 539.92,416.61 540.35,416.61 540.78,416.61 541.21,416.61 541.64,416.6 542.07,416.6 542.5,416.6 542.77,418.77 543.04,419.66 543.32,420.04 543.59,420.21 543.86,420.3 544.13,420.35 544.41,420.39 544.68,420.42 544.95,420.45 545.23,420.47 545.5,420.5 545.77,420.53 546.04,420.56 546.31,420.58 546.59,420.61 546.86,420.64 547.13,420.67 547.4,420.69 547.68,420.72 547.95,420.75 548.22,420.78 548.5,420.8 548.77,420.83 549.04,420.86 549.31,420.89 549.59,420.91 549.86,420.94 550.13,420.97 550.4,421 550.67,421.02 550.95,421.05 551.22,421.08 551.49,421.11 551.76,421.13 552.04,421.16 552.31,421.19 552.58,421.22 552.86,421.25 553.13,421.27 553.4,421.3 553.82,419.04 554.23,418.32 554.65,418.01 555.06,417.82 555.48,417.66 555.9,417.53 556.31,417.41 556.73,417.31 557.14,417.22 557.56,417.14 557.98,417.07 558.39,417 558.81,416.95 559.22,416.9 559.64,416.85 560.06,416.81 560.47,416.78 560.89,416.75 561.3,416.72 561.72,416.69 562.14,416.67 562.55,416.65 562.97,416.64 563.38,416.62 563.8,416.61 564.22,416.6 564.63,416.58 565.05,416.58 565.46,416.57 565.88,416.56 566.3,416.55 566.71,416.55 567.13,416.54 567.54,416.54 567.96,416.53 568.38,416.53 568.79,416.53 569.21,416.52 569.62,416.52 570.04,416.52 570.46,416.52 570.87,416.51 571.29,416.51 571.7,416.51 572.12,416.51 572.54,416.51 572.95,416.51 573.37,416.51 573.78,416.51 574.2,416.51 574.49,419.96 574.79,421.31 575.08,421.86 575.37,422.1 575.66,422.23 575.96,422.31 576.25,422.38 576.54,422.44 576.83,422.49 577.12,422.55 577.42,422.6 577.71,422.66 578,422.71 578.3,422.77 578.59,422.82 578.88,422.88 579.17,422.93 579.47,422.99 579.76,423.04 580.05,423.1 580.34,423.15 580.63,423.21 580.93,423.26 581.22,423.32 581.51,423.37 581.8,423.43 582.1,423.48 582.39,423.54 582.68,423.59 582.98,423.65 583.27,423.7 583.56,423.76 583.85,423.81 584.14,423.87 584.44,423.93 584.73,423.98 585.02,424.04 585.31,424.09 585.61,424.14 585.9,424.2 586.31,420.45 586.72,419.31 587.14,418.84 587.55,418.57 587.96,418.36 588.37,418.18 588.78,418.03 589.2,417.89 589.61,417.77 590.02,417.66 590.43,417.57 590.84,417.48 591.26,417.41 591.67,417.34 592.08,417.28 592.49,417.23 592.9,417.18 593.32,417.14 593.73,417.1 594.14,417.07 594.55,417.04 594.96,417.01 595.38,416.99 595.79,416.97 596.2,416.95 596.61,416.93 597.02,416.92 597.44,416.9 597.85,416.89 598.26,416.88 598.67,416.87 599.08,416.86 599.5,416.86 599.91,416.85 600.32,416.85 600.73,416.84 601.14,416.84 601.56,416.83 601.97,416.83 602.38,416.83 602.79,416.82 603.2,416.82 603.62,416.82 604.03,416.82 604.44,416.81 604.85,416.81 605.26,416.81 605.68,416.81 606.09,416.81 606.5,416.81 606.77,422.73 607.05,425.24 607.33,426.37 607.6,426.93 607.88,427.27 608.15,427.51 608.42,427.71 608.7,427.89 608.98,428.07 609.25,428.25 609.52,428.42 609.8,428.6 610.08,428.77 610.35,428.95 610.62,429.12 610.9,429.3 611.17,429.47 611.45,429.65 611.73,429.82 612,430 612.27,430.17 612.55,430.35 612.83,430.52 613.1,430.7 613.38,430.87 613.65,431.05 613.92,431.22 614.2,431.4 614.48,431.57 614.75,431.75 615.02,431.92 615.3,432.1 615.58,432.27 615.85,432.45 616.12,432.62 616.4,432.8 616.67,432.97 616.95,433.15 617.23,433.32 617.5,433.5 617.93,425.47 618.35,423.18 618.78,422.3 619.2,421.79 619.63,421.39 620.06,421.04 620.48,420.73 620.91,420.44 621.33,420.17 621.76,419.93 622.19,419.71 622.61,419.5 623.04,419.31 623.46,419.14 623.89,418.98 624.32,418.84 624.74,418.7 625.17,418.58 625.59,418.47 626.02,418.36 626.45,418.27 626.87,418.18 627.3,418.1 627.72,418.03 628.15,417.96 628.58,417.9 629,417.84 629.43,417.79 629.85,417.74 630.28,417.7 630.71,417.66 631.13,417.62 631.56,417.58 631.98,417.55 632.41,417.52 632.84,417.5 633.26,417.47 633.69,417.45 634.11,417.43 634.54,417.41 634.97,417.39 635.39,417.38 635.82,417.36 636.24,417.35 636.67,417.34 637.1,417.33 637.52,417.32 637.95,417.31 638.37,417.3 638.8,417.29 639.06,433.61 639.33,440.45 639.59,443.36 639.86,444.63 640.12,445.22 640.39,445.53 640.65,445.73 640.92,445.88 641.18,446 641.45,446.12 641.71,446.24 641.98,446.35 642.25,446.46 642.51,446.57 642.77,446.69 643.04,446.8 643.3,446.91 643.57,447.02 643.83,447.14 644.1,447.25 644.37,447.36 644.63,447.47 644.89,447.59 645.16,447.7 645.42,447.81 645.69,447.92 645.95,448.04 646.22,448.15 646.49,448.26 646.75,448.37 647.01,448.49 647.28,448.6 647.54,448.71 647.81,448.82 648.07,448.94 648.34,449.05 648.61,449.16 648.87,449.27 649.13,449.39 649.4,449.5 649.83,430.19 650.26,425.2 650.7,423.64 651.13,422.91 651.56,422.42 651.99,422.01 652.42,421.64 652.86,421.31 653.29,421 653.72,420.72 654.15,420.46 654.58,420.22 655.02,420.01 655.45,419.81 655.88,419.62 656.31,419.46 656.74,419.3 657.18,419.16 657.61,419.03 658.04,418.91 658.47,418.81 658.9,418.71 659.34,418.61 659.77,418.53 660.2,418.45 660.63,418.38 661.06,418.32 661.5,418.26 661.93,418.2 662.36,418.15 662.79,418.11 663.22,418.07 663.66,418.03 664.09,417.99 664.52,417.96 664.95,417.93 665.38,417.9 665.82,417.88 666.25,417.85 666.68,417.83 667.11,417.81 667.54,417.8 667.98,417.78 668.41,417.77 668.84,417.75 669.27,417.74 669.7,417.73 670.14,417.72 670.57,417.71 671,417.7" fill="none" stroke="#1a1aee" stroke-width="1.6" stroke-linejoin="round" stroke-linecap="round" />
<line x1="48.7" y1="545.4" x2="48.7" y2="687" stroke="#dcdcdc" stroke-width="1.1" />
<line x1="68.8" y1="545.4" x2="68.8" y2="687" stroke="#dcdcdc" stroke-width="1.1" />
<line x1="88.9" y1="545.4" x2="88.9" y2="687" stroke="#dcdcdc" stroke-width="1.1" />
<line x1="109" y1="545.4" x2="109" y2="687" stroke="#dcdcdc" stroke-width="1.1" />
<line x1="129.1" y1="545.4" x2="129.1" y2="687" stroke="#dcdcdc" stroke-width="1.1" />
<line x1="149.2" y1="545.4" x2="149.2" y2="687" stroke="#dcdcdc" stroke-width="1.1" />
<line x1="169.3" y1="545.4" x2="169.3" y2="687" stroke="#dcdcdc" stroke-width="1.1" />
<line x1="189.4" y1="545.4" x2="189.4" y2="687" stroke="#dcdcdc" stroke-width="1.1" />
<text x="38.65" y="553.5" font-size="6.0" text-anchor="middle" fill="#333">25 &#176;C</text>
<text x="58.75" y="553.5" font-size="6.0" text-anchor="middle" fill="#333">50 &#176;C</text>
<text x="78.85" y="553.5" font-size="6.0" text-anchor="middle" fill="#333">75 &#176;C</text>
<text x="98.95" y="553.5" font-size="6.0" text-anchor="middle" fill="#333">100 &#176;C</text>
<text x="119.05" y="553.5" font-size="6.0" text-anchor="middle" fill="#333">150 &#176;C</text>
<text x="139.15" y="553.5" font-size="6.0" text-anchor="middle" fill="#333">100 &#176;C</text>
<text x="159.25" y="553.5" font-size="6.0" text-anchor="middle" fill="#333">75 &#176;C</text>
<text x="179.35" y="553.5" font-size="6.0" text-anchor="middle" fill="#333">50 &#176;C</text>
<text x="199.45" y="553.5" font-size="6.0" text-anchor="middle" fill="#333">25 &#176;C</text>
<line x1="52.6" y1="575.3" x2="209" y2="575.3" stroke="#3a5ad0" stroke-width="1" stroke-dasharray="3.2 2.4"/>
<line x1="52.6" y1="579.4" x2="209" y2="579.4" stroke="#e03a3a" stroke-width="1" stroke-dasharray="3.2 2.4"/>
<line x1="52.6" y1="605.5" x2="209" y2="605.5" stroke="#3a9a4a" stroke-width="1" stroke-dasharray="3.2 2.4"/>
<line x1="28" y1="643.3" x2="209" y2="643.3" stroke="#222" stroke-width="1" stroke-dasharray="3.2 2.4"/>
<line x1="192" y1="625.3" x2="201" y2="625.3" stroke="#222" stroke-width="0.9" stroke-dasharray="3.2 2.4"/>
<polyline points="29,647.3 29.51,647.23 30.01,647.17 30.52,647.11 31.02,647.05 31.53,646.99 32.03,646.93 32.54,646.87 33.04,646.81 33.55,646.75 34.05,646.7 34.56,646.64 35.06,646.59 35.57,646.53 36.07,646.48 36.58,646.43 37.08,646.38 37.59,646.33 38.09,646.28 38.6,646.23 39.1,646.18 39.61,646.14 40.11,646.09 40.62,646.05 41.12,646 41.63,645.96 42.13,645.92 42.64,645.88 43.14,645.83 43.65,645.79 44.15,645.75 44.66,645.71 45.16,645.68 45.67,645.64 46.17,645.6 46.68,645.56 47.18,645.53 47.69,645.49 48.19,645.46 48.7,645.42 48.7,649.6 49.2,649.53 49.71,649.45 50.21,649.38 50.71,649.31 51.21,649.25 51.72,649.18 52.22,649.11 52.72,649.05 53.22,648.99 53.73,648.93 54.23,648.87 54.73,648.81 55.23,648.75 55.74,648.69 56.24,648.64 56.74,648.58 57.24,648.53 57.75,648.48 58.25,648.43 58.75,648.38 59.25,648.33 59.76,648.28 60.26,648.23 60.76,648.18 61.26,648.14 61.77,648.09 62.27,648.05 62.77,648.01 63.27,647.97 63.78,647.92 64.28,647.88 64.78,647.84 65.28,647.81 65.79,647.77 66.29,647.73 66.79,647.69 67.29,647.66 67.8,647.62 68.3,647.59 68.8,647.56 68.8,657.5 69.3,657.19 69.81,656.9 70.31,656.61 70.81,656.34 71.31,656.08 71.82,655.83 72.32,655.59 72.82,655.37 73.32,655.15 73.83,654.93 74.33,654.73 74.83,654.54 75.33,654.35 75.84,654.17 76.34,654 76.84,653.84 77.34,653.68 77.85,653.53 78.35,653.38 78.85,653.25 79.35,653.11 79.86,652.99 80.36,652.86 80.86,652.75 81.36,652.63 81.87,652.52 82.37,652.42 82.87,652.32 83.37,652.23 83.88,652.14 84.38,652.05 84.88,651.96 85.38,651.88 85.89,651.81 86.39,651.73 86.89,651.66 87.39,651.59 87.9,651.53 88.4,651.46 88.9,651.4 88.9,664.8 89.4,664.24 89.91,663.71 90.41,663.2 90.91,662.72 91.41,662.27 91.92,661.83 92.42,661.42 92.92,661.03 93.42,660.65 93.93,660.3 94.43,659.96 94.93,659.64 95.43,659.33 95.94,659.04 96.44,658.76 96.94,658.5 97.44,658.25 97.95,658.01 98.45,657.79 98.95,657.57 99.45,657.37 99.95,657.17 100.46,656.99 100.96,656.81 101.46,656.65 101.97,656.49 102.47,656.34 102.97,656.19 103.47,656.05 103.97,655.92 104.48,655.8 104.98,655.68 105.48,655.57 105.98,655.46 106.49,655.36 106.99,655.27 107.49,655.18 108,655.09 108.5,655.01 109,654.93 109,683.8 109.5,681.52 110,679.51 110.51,677.74 111.01,676.18 111.51,674.8 112.02,673.58 112.52,672.51 113.02,671.56 113.52,670.73 114.03,670 114.53,669.35 115.03,668.77 115.53,668.27 116.03,667.82 116.54,667.43 117.04,667.09 117.54,666.78 118.05,666.51 118.55,666.27 119.05,666.06 119.55,665.88 120.05,665.72 120.56,665.57 121.06,665.45 121.56,665.33 122.06,665.24 122.57,665.15 123.07,665.07 123.57,665.01 124.07,664.95 124.58,664.89 125.08,664.85 125.58,664.81 126.08,664.77 126.59,664.74 127.09,664.71 127.59,664.68 128.09,664.66 128.6,664.64 129.1,664.63 129.1,650.2 129.6,650.02 130.1,649.85 130.61,649.68 131.11,649.52 131.61,649.37 132.12,649.22 132.62,649.07 133.12,648.93 133.62,648.79 134.12,648.66 134.63,648.54 135.13,648.41 135.63,648.29 136.13,648.18 136.64,648.07 137.14,647.96 137.64,647.86 138.15,647.75 138.65,647.66 139.15,647.56 139.65,647.47 140.16,647.38 140.66,647.3 141.16,647.22 141.66,647.14 142.17,647.06 142.67,646.99 143.17,646.91 143.67,646.84 144.18,646.78 144.68,646.71 145.18,646.65 145.68,646.59 146.19,646.53 146.69,646.47 147.19,646.42 147.69,646.36 148.2,646.31 148.7,646.26 149.2,646.21 149.2,632.6 149.7,632.62 150.21,632.64 150.71,632.66 151.21,632.68 151.71,632.69 152.22,632.71 152.72,632.73 153.22,632.75 153.72,632.76 154.23,632.78 154.73,632.79 155.23,632.81 155.73,632.82 156.24,632.84 156.74,632.85 157.24,632.86 157.74,632.88 158.25,632.89 158.75,632.9 159.25,632.92 159.75,632.93 160.26,632.94 160.76,632.95 161.26,632.96 161.76,632.97 162.27,632.98 162.77,632.99 163.27,633 163.77,633.01 164.28,633.02 164.78,633.03 165.28,633.04 165.78,633.05 166.29,633.06 166.79,633.07 167.29,633.08 167.79,633.08 168.3,633.09 168.8,633.1 169.3,633.11 169.3,628 169.8,628.07 170.31,628.13 170.81,628.2 171.31,628.26 171.81,628.32 172.31,628.38 172.82,628.44 173.32,628.5 173.82,628.56 174.33,628.62 174.83,628.67 175.33,628.73 175.83,628.78 176.34,628.84 176.84,628.89 177.34,628.94 177.84,628.99 178.34,629.04 178.85,629.09 179.35,629.14 179.85,629.19 180.36,629.23 180.86,629.28 181.36,629.32 181.86,629.37 182.37,629.41 182.87,629.46 183.37,629.5 183.87,629.54 184.38,629.58 184.88,629.62 185.38,629.66 185.88,629.7 186.39,629.74 186.89,629.77 187.39,629.81 187.89,629.85 188.4,629.88 188.9,629.92 189.4,629.95 189.4,622.5 189.9,622.54 190.41,622.58 190.91,622.62 191.41,622.66 191.91,622.7 192.41,622.74 192.92,622.78 193.42,622.81 193.92,622.85 194.43,622.89 194.93,622.92 195.43,622.96 195.93,622.99 196.44,623.02 196.94,623.06 197.44,623.09 197.94,623.12 198.44,623.15 198.95,623.18 199.45,623.21 199.95,623.24 200.46,623.27 200.96,623.3 201.46,623.33 201.96,623.36 202.47,623.38 202.97,623.41 203.47,623.44 203.97,623.46 204.47,623.49 204.98,623.51 205.48,623.54 205.98,623.56 206.49,623.59 206.99,623.61 207.49,623.63 207.99,623.65 208.5,623.68 209,623.7 209.5,623.72" fill="none" stroke="#222" stroke-width="1.5" stroke-linejoin="round" stroke-linecap="round" />
<polyline points="29,625 29.51,618.23 30.01,613.79 30.52,610.87 31.02,608.96 31.53,607.7 32.03,606.88 32.54,606.33 33.04,605.98 33.55,605.75 34.05,605.59 34.56,605.49 35.06,605.43 35.57,605.38 36.07,605.35 36.58,605.34 37.08,605.32 37.59,605.32 38.09,605.31 38.6,605.31 39.1,605.3 39.61,605.3 40.11,605.3 40.62,605.3 41.12,605.3 41.63,605.3 42.13,605.3 42.64,605.3 43.14,605.3 43.65,605.3 44.15,605.3 44.66,605.3 45.16,605.3 45.67,605.3 46.17,605.3 46.68,605.3 47.18,605.3 47.69,605.3 48.19,605.3 48.7,605.3 48.7,623 49.2,623.33 49.71,623.65 50.21,623.95 50.71,624.24 51.21,624.51 51.72,624.77 52.22,625.02 52.72,625.25 53.22,625.47 53.73,625.69 54.23,625.89 54.73,626.08 55.23,626.26 55.74,626.44 56.24,626.6 56.74,626.76 57.24,626.91 57.75,627.05 58.25,627.18 58.75,627.31 59.25,627.43 59.76,627.55 60.26,627.66 60.76,627.76 61.26,627.86 61.77,627.96 62.27,628.05 62.77,628.13 63.27,628.22 63.78,628.29 64.28,628.37 64.78,628.44 65.28,628.5 65.79,628.57 66.29,628.63 66.79,628.69 67.29,628.74 67.8,628.79 68.3,628.84 68.8,628.89 68.8,642 69.3,641.17 69.81,640.42 70.31,639.74 70.81,639.12 71.31,638.56 71.82,638.06 72.32,637.61 72.82,637.19 73.32,636.82 73.83,636.48 74.33,636.18 74.83,635.9 75.33,635.66 75.84,635.43 76.34,635.23 76.84,635.04 77.34,634.88 77.85,634.73 78.35,634.59 78.85,634.47 79.35,634.35 79.86,634.25 80.36,634.16 80.86,634.08 81.36,634.01 81.87,633.94 82.37,633.88 82.87,633.82 83.37,633.77 83.88,633.73 84.38,633.69 84.88,633.65 85.38,633.62 85.89,633.59 86.39,633.56 86.89,633.53 87.39,633.51 87.9,633.49 88.4,633.47 88.9,633.46 88.9,650.8 89.4,649.7 89.91,648.73 90.41,647.88 90.91,647.13 91.41,646.46 91.92,645.88 92.42,645.36 92.92,644.9 93.42,644.5 93.93,644.15 94.43,643.84 94.93,643.56 95.43,643.32 95.94,643.1 96.44,642.91 96.94,642.75 97.44,642.6 97.95,642.47 98.45,642.35 98.95,642.25 99.45,642.16 99.95,642.09 100.46,642.02 100.96,641.96 101.46,641.9 101.97,641.85 102.47,641.81 102.97,641.78 103.47,641.74 103.97,641.71 104.48,641.69 104.98,641.67 105.48,641.65 105.98,641.63 106.49,641.61 106.99,641.6 107.49,641.59 108,641.58 108.5,641.57 109,641.56 109,659.5 109.5,655.93 110,653.08 110.51,650.82 111.01,649.02 111.51,647.59 112.02,646.44 112.52,645.54 113.02,644.81 113.52,644.24 114.03,643.78 114.53,643.42 115.03,643.13 115.53,642.9 116.03,642.71 116.54,642.57 117.04,642.45 117.54,642.36 118.05,642.29 118.55,642.23 119.05,642.18 119.55,642.14 120.05,642.12 120.56,642.09 121.06,642.07 121.56,642.06 122.06,642.05 122.57,642.04 123.07,642.03 123.57,642.02 124.07,642.02 124.58,642.01 125.08,642.01 125.58,642.01 126.08,642.01 126.59,642.01 127.09,642 127.59,642 128.09,642 128.6,642 129.1,642 129.1,641 129.6,640.92 130.1,640.84 130.61,640.76 131.11,640.69 131.61,640.62 132.12,640.56 132.62,640.5 133.12,640.44 133.62,640.38 134.12,640.33 134.63,640.28 135.13,640.23 135.63,640.18 136.13,640.14 136.64,640.1 137.14,640.06 137.64,640.02 138.15,639.99 138.65,639.95 139.15,639.92 139.65,639.89 140.16,639.86 140.66,639.84 141.16,639.81 141.66,639.78 142.17,639.76 142.67,639.74 143.17,639.72 143.67,639.7 144.18,639.68 144.68,639.66 145.18,639.64 145.68,639.62 146.19,639.61 146.69,639.59 147.19,639.58 147.69,639.56 148.2,639.55 148.7,639.54 149.2,639.53 149.2,631.8 149.7,631.2 150.21,630.67 150.71,630.2 151.21,629.79 151.71,629.42 152.22,629.1 152.72,628.82 153.22,628.57 153.72,628.35 154.23,628.15 154.73,627.98 155.23,627.83 155.73,627.7 156.24,627.58 156.74,627.47 157.24,627.38 157.74,627.3 158.25,627.23 158.75,627.17 159.25,627.11 159.75,627.06 160.26,627.02 160.76,626.98 161.26,626.95 161.76,626.92 162.27,626.89 162.77,626.87 163.27,626.85 163.77,626.83 164.28,626.82 164.78,626.8 165.28,626.79 165.78,626.78 166.29,626.77 166.79,626.76 167.29,626.76 167.79,626.75 168.3,626.74 168.8,626.74 169.3,626.73 169.3,617.2 169.8,616.88 170.31,616.6 170.81,616.34 171.31,616.11 171.81,615.9 172.31,615.71 172.82,615.53 173.32,615.38 173.82,615.24 174.33,615.11 174.83,614.99 175.33,614.89 175.83,614.79 176.34,614.71 176.84,614.63 177.34,614.56 177.84,614.5 178.34,614.44 178.85,614.39 179.35,614.34 179.85,614.3 180.36,614.26 180.86,614.23 181.36,614.2 181.86,614.17 182.37,614.14 182.87,614.12 183.37,614.1 183.87,614.08 184.38,614.06 184.88,614.05 185.38,614.03 185.88,614.02 186.39,614.01 186.89,614 187.39,613.99 187.89,613.98 188.4,613.97 188.9,613.97 189.4,613.96 189.4,598 189.9,597.9 190.41,597.82 190.91,597.74 191.41,597.67 191.91,597.61 192.41,597.55 192.92,597.49 193.42,597.45 193.92,597.4 194.43,597.37 194.93,597.33 195.43,597.3 195.93,597.27 196.44,597.24 196.94,597.22 197.44,597.2 197.94,597.18 198.44,597.16 198.95,597.15 199.45,597.13 199.95,597.12 200.46,597.11 200.96,597.1 201.46,597.09 201.96,597.08 202.47,597.07 202.97,597.07 203.47,597.06 203.97,597.05 204.47,597.05 204.98,597.04 205.48,597.04 205.98,597.04 206.49,597.03 206.99,597.03 207.49,597.03 207.99,597.02 208.5,597.02 209,597.02 209.5,597.02" fill="none" stroke="#3a9a4a" stroke-width="1.5" stroke-linejoin="round" stroke-linecap="round" />
<polyline points="29,585 29.51,583.37 30.01,582.21 30.52,581.38 31.02,580.78 31.53,580.36 32.03,580.06 32.54,579.84 33.04,579.69 33.55,579.58 34.05,579.5 34.56,579.44 35.06,579.4 35.57,579.37 36.07,579.35 36.58,579.34 37.08,579.33 37.59,579.32 38.09,579.31 38.6,579.31 39.1,579.31 39.61,579.3 40.11,579.3 40.62,579.3 41.12,579.3 41.63,579.3 42.13,579.3 42.64,579.3 43.14,579.3 43.65,579.3 44.15,579.3 44.66,579.3 45.16,579.3 45.67,579.3 46.17,579.3 46.68,579.3 47.18,579.3 47.69,579.3 48.19,579.3 48.7,579.3 48.7,593.7 49.2,594.3 49.71,594.86 50.21,595.38 50.71,595.85 51.21,596.3 51.72,596.71 52.22,597.1 52.72,597.45 53.22,597.78 53.73,598.09 54.23,598.37 54.73,598.63 55.23,598.88 55.74,599.1 56.24,599.31 56.74,599.51 57.24,599.69 57.75,599.86 58.25,600.01 58.75,600.16 59.25,600.29 59.76,600.42 60.26,600.53 60.76,600.64 61.26,600.74 61.77,600.83 62.27,600.92 62.77,601 63.27,601.07 63.78,601.14 64.28,601.2 64.78,601.26 65.28,601.31 65.79,601.36 66.29,601.41 66.79,601.46 67.29,601.5 67.8,601.53 68.3,601.57 68.8,601.6 68.8,611 69.3,611.23 69.81,611.44 70.31,611.64 70.81,611.82 71.31,611.99 71.82,612.14 72.32,612.29 72.82,612.42 73.32,612.55 73.83,612.67 74.33,612.77 74.83,612.87 75.33,612.97 75.84,613.05 76.34,613.13 76.84,613.21 77.34,613.27 77.85,613.34 78.35,613.4 78.85,613.45 79.35,613.5 79.86,613.55 80.36,613.59 80.86,613.64 81.36,613.67 81.87,613.71 82.37,613.74 82.87,613.77 83.37,613.8 83.88,613.82 84.38,613.85 84.88,613.87 85.38,613.89 85.89,613.91 86.39,613.93 86.89,613.95 87.39,613.96 87.9,613.97 88.4,613.99 88.9,614 88.9,622.5 89.4,622.77 89.91,623.01 90.41,623.24 90.91,623.45 91.41,623.65 91.92,623.83 92.42,624 92.92,624.16 93.42,624.31 93.93,624.44 94.43,624.57 94.93,624.69 95.43,624.79 95.94,624.89 96.44,624.99 96.94,625.07 97.44,625.15 97.95,625.23 98.45,625.3 98.95,625.36 99.45,625.42 99.95,625.48 100.46,625.53 100.96,625.57 101.46,625.62 101.97,625.66 102.47,625.7 102.97,625.73 103.47,625.76 103.97,625.8 104.48,625.82 104.98,625.85 105.48,625.87 105.98,625.9 106.49,625.92 106.99,625.94 107.49,625.95 108,625.97 108.5,625.99 109,626 109,637 109.5,636.98 110,636.95 110.51,636.93 111.01,636.91 111.51,636.89 112.02,636.87 112.52,636.85 113.02,636.83 113.52,636.82 114.03,636.8 114.53,636.79 115.03,636.77 115.53,636.76 116.03,636.75 116.54,636.74 117.04,636.72 117.54,636.71 118.05,636.7 118.55,636.69 119.05,636.68 119.55,636.67 120.05,636.67 120.56,636.66 121.06,636.65 121.56,636.64 122.06,636.64 122.57,636.63 123.07,636.62 123.57,636.62 124.07,636.61 124.58,636.61 125.08,636.6 125.58,636.6 126.08,636.59 126.59,636.59 127.09,636.58 127.59,636.58 128.09,636.57 128.6,636.57 129.1,636.57 129.1,626.5 129.6,626.42 130.1,626.34 130.61,626.26 131.11,626.19 131.61,626.12 132.12,626.06 132.62,626 133.12,625.94 133.62,625.88 134.12,625.83 134.63,625.78 135.13,625.73 135.63,625.68 136.13,625.64 136.64,625.6 137.14,625.56 137.64,625.52 138.15,625.49 138.65,625.45 139.15,625.42 139.65,625.39 140.16,625.36 140.66,625.34 141.16,625.31 141.66,625.28 142.17,625.26 142.67,625.24 143.17,625.22 143.67,625.2 144.18,625.18 144.68,625.16 145.18,625.14 145.68,625.12 146.19,625.11 146.69,625.09 147.19,625.08 147.69,625.06 148.2,625.05 148.7,625.04 149.2,625.03 149.2,613.9 149.7,613.82 150.21,613.74 150.71,613.66 151.21,613.59 151.71,613.52 152.22,613.46 152.72,613.4 153.22,613.34 153.72,613.28 154.23,613.23 154.73,613.18 155.23,613.13 155.73,613.08 156.24,613.04 156.74,613 157.24,612.96 157.74,612.92 158.25,612.89 158.75,612.85 159.25,612.82 159.75,612.79 160.26,612.76 160.76,612.74 161.26,612.71 161.76,612.68 162.27,612.66 162.77,612.64 163.27,612.62 163.77,612.6 164.28,612.58 164.78,612.56 165.28,612.54 165.78,612.52 166.29,612.51 166.79,612.49 167.29,612.48 167.79,612.46 168.3,612.45 168.8,612.44 169.3,612.43 169.3,603.8 169.8,603.66 170.31,603.53 170.81,603.4 171.31,603.28 171.81,603.16 172.31,603.04 172.82,602.94 173.32,602.83 173.82,602.73 174.33,602.64 174.83,602.55 175.33,602.46 175.83,602.37 176.34,602.29 176.84,602.21 177.34,602.14 177.84,602.07 178.34,602 178.85,601.93 179.35,601.87 179.85,601.81 180.36,601.75 180.86,601.7 181.36,601.64 181.86,601.59 182.37,601.54 182.87,601.5 183.37,601.45 183.87,601.41 184.38,601.37 184.88,601.33 185.38,601.29 185.88,601.25 186.39,601.22 186.89,601.19 187.39,601.15 187.89,601.12 188.4,601.09 188.9,601.06 189.4,601.04 189.4,579 189.9,579.08 190.41,579.15 190.91,579.21 191.41,579.27 191.91,579.33 192.41,579.38 192.92,579.43 193.42,579.47 193.92,579.52 194.43,579.56 194.93,579.59 195.43,579.62 195.93,579.66 196.44,579.68 196.94,579.71 197.44,579.74 197.94,579.76 198.44,579.78 198.95,579.8 199.45,579.82 199.95,579.83 200.46,579.85 200.96,579.86 201.46,579.88 201.96,579.89 202.47,579.9 202.97,579.91 203.47,579.92 203.97,579.93 204.47,579.94 204.98,579.95 205.48,579.96 205.98,579.96 206.49,579.97 206.99,579.98 207.49,579.98 207.99,579.99 208.5,579.99 209,580 209.5,580" fill="none" stroke="#e03a3a" stroke-width="1.5" stroke-linejoin="round" stroke-linecap="round" />
<polyline points="29,580 29.51,578.42 30.01,577.38 30.52,576.7 31.02,576.25 31.53,575.96 32.03,575.77 32.54,575.64 33.04,575.56 33.55,575.5 34.05,575.47 34.56,575.44 35.06,575.43 35.57,575.42 36.07,575.41 36.58,575.41 37.08,575.41 37.59,575.4 38.09,575.4 38.6,575.4 39.1,575.4 39.61,575.4 40.11,575.4 40.62,575.4 41.12,575.4 41.63,575.4 42.13,575.4 42.64,575.4 43.14,575.4 43.65,575.4 44.15,575.4 44.66,575.4 45.16,575.4 45.67,575.4 46.17,575.4 46.68,575.4 47.18,575.4 47.69,575.4 48.19,575.4 48.7,575.4 48.7,590 49.2,590.61 49.71,591.17 50.21,591.7 50.71,592.18 51.21,592.63 51.72,593.05 52.22,593.44 52.72,593.8 53.22,594.13 53.73,594.44 54.23,594.73 54.73,595 55.23,595.24 55.74,595.47 56.24,595.69 56.74,595.88 57.24,596.07 57.75,596.24 58.25,596.39 58.75,596.54 59.25,596.68 59.76,596.8 60.26,596.92 60.76,597.03 61.26,597.13 61.77,597.22 62.27,597.31 62.77,597.39 63.27,597.46 63.78,597.53 64.28,597.6 64.78,597.66 65.28,597.71 65.79,597.76 66.29,597.81 66.79,597.85 67.29,597.89 67.8,597.93 68.3,597.97 68.8,598 68.8,610 69.3,610.23 69.81,610.44 70.31,610.64 70.81,610.82 71.31,610.99 71.82,611.14 72.32,611.29 72.82,611.42 73.32,611.55 73.83,611.67 74.33,611.77 74.83,611.87 75.33,611.97 75.84,612.05 76.34,612.13 76.84,612.21 77.34,612.27 77.85,612.34 78.35,612.4 78.85,612.45 79.35,612.5 79.86,612.55 80.36,612.59 80.86,612.64 81.36,612.67 81.87,612.71 82.37,612.74 82.87,612.77 83.37,612.8 83.88,612.82 84.38,612.85 84.88,612.87 85.38,612.89 85.89,612.91 86.39,612.93 86.89,612.95 87.39,612.96 87.9,612.97 88.4,612.99 88.9,613 88.9,621 89.4,621.27 89.91,621.51 90.41,621.74 90.91,621.95 91.41,622.15 91.92,622.33 92.42,622.5 92.92,622.66 93.42,622.81 93.93,622.94 94.43,623.07 94.93,623.19 95.43,623.29 95.94,623.39 96.44,623.49 96.94,623.57 97.44,623.65 97.95,623.73 98.45,623.8 98.95,623.86 99.45,623.92 99.95,623.98 100.46,624.03 100.96,624.07 101.46,624.12 101.97,624.16 102.47,624.2 102.97,624.23 103.47,624.26 103.97,624.3 104.48,624.32 104.98,624.35 105.48,624.37 105.98,624.4 106.49,624.42 106.99,624.44 107.49,624.45 108,624.47 108.5,624.49 109,624.5 109,636.5 109.5,636.5 110,636.5 110.51,636.5 111.01,636.5 111.51,636.5 112.02,636.5 112.52,636.5 113.02,636.5 113.52,636.5 114.03,636.5 114.53,636.5 115.03,636.5 115.53,636.5 116.03,636.5 116.54,636.5 117.04,636.5 117.54,636.5 118.05,636.5 118.55,636.5 119.05,636.5 119.55,636.5 120.05,636.5 120.56,636.5 121.06,636.5 121.56,636.5 122.06,636.5 122.57,636.5 123.07,636.5 123.57,636.5 124.07,636.5 124.58,636.5 125.08,636.5 125.58,636.5 126.08,636.5 126.59,636.5 127.09,636.5 127.59,636.5 128.09,636.5 128.6,636.5 129.1,636.5 129.1,625.6 129.6,625.34 130.1,625.1 130.61,624.88 131.11,624.67 131.61,624.47 132.12,624.28 132.62,624.11 133.12,623.94 133.62,623.79 134.12,623.64 134.63,623.5 135.13,623.38 135.63,623.26 136.13,623.14 136.64,623.04 137.14,622.94 137.64,622.84 138.15,622.76 138.65,622.67 139.15,622.6 139.65,622.52 140.16,622.45 140.66,622.39 141.16,622.33 141.66,622.27 142.17,622.22 142.67,622.17 143.17,622.12 143.67,622.08 144.18,622.04 144.68,622 145.18,621.96 145.68,621.93 146.19,621.9 146.69,621.87 147.19,621.84 147.69,621.81 148.2,621.79 148.7,621.76 149.2,621.74 149.2,613.9 149.7,613.52 150.21,613.18 150.71,612.86 151.21,612.56 151.71,612.29 152.22,612.04 152.72,611.82 153.22,611.61 153.72,611.41 154.23,611.23 154.73,611.07 155.23,610.92 155.73,610.78 156.24,610.66 156.74,610.54 157.24,610.43 157.74,610.33 158.25,610.24 158.75,610.16 159.25,610.08 159.75,610.01 160.26,609.94 160.76,609.88 161.26,609.83 161.76,609.78 162.27,609.73 162.77,609.69 163.27,609.65 163.77,609.61 164.28,609.58 164.78,609.55 165.28,609.52 165.78,609.5 166.29,609.47 166.79,609.45 167.29,609.43 167.79,609.41 168.3,609.39 168.8,609.38 169.3,609.36 169.3,598 169.8,597.94 170.31,597.88 170.81,597.83 171.31,597.78 171.81,597.73 172.31,597.69 172.82,597.64 173.32,597.61 173.82,597.57 174.33,597.53 174.83,597.5 175.33,597.47 175.83,597.44 176.34,597.42 176.84,597.39 177.34,597.37 177.84,597.34 178.34,597.32 178.85,597.3 179.35,597.28 179.85,597.27 180.36,597.25 180.86,597.24 181.36,597.22 181.86,597.21 182.37,597.2 182.87,597.18 183.37,597.17 183.87,597.16 184.38,597.15 184.88,597.14 185.38,597.13 185.88,597.13 186.39,597.12 186.89,597.11 187.39,597.1 187.89,597.1 188.4,597.09 188.9,597.09 189.4,597.08 189.4,576.6 189.9,576.6 190.41,576.6 190.91,576.6 191.41,576.6 191.91,576.6 192.41,576.6 192.92,576.6 193.42,576.6 193.92,576.6 194.43,576.6 194.93,576.6 195.43,576.6 195.93,576.6 196.44,576.6 196.94,576.6 197.44,576.6 197.94,576.6 198.44,576.6 198.95,576.6 199.45,576.6 199.95,576.6 200.46,576.6 200.96,576.6 201.46,576.6 201.96,576.6 202.47,576.6 202.97,576.6 203.47,576.6 203.97,576.6 204.47,576.6 204.98,576.6 205.48,576.6 205.98,576.6 206.49,576.6 206.99,576.6 207.49,576.6 207.99,576.6 208.5,576.6 209,576.6 209.5,576.6" fill="none" stroke="#3a5ad0" stroke-width="1.5" stroke-linejoin="round" stroke-linecap="round" />
<line x1="201.4" y1="597" x2="201.4" y2="604" stroke="#3a9a4a" stroke-width="0.9" />
<line x1="201.6" y1="626" x2="201.6" y2="642.5" stroke="#222" stroke-width="0.9" />
<polygon points="201.6,625.5 200.5,628.5 202.7,628.5" fill="#222" />
<polygon points="201.6,643 200.5,640 202.7,640" fill="#222" />
<text x="29.5" y="641.6" font-size="6.6" fill="#333">A</text>
<text x="30" y="603.4" font-size="6.6" fill="#333">C</text>
<text x="202" y="594.6" font-size="6.6" fill="#333">D</text>
<text x="201.6" y="621.9" font-size="6.6" fill="#333">B</text>
<line x1="155.7" y1="658.6" x2="169.2" y2="658.6" stroke="#222" stroke-width="1.5" />
<text x="171.8" y="660.7" font-size="6" fill="#333">As exfoliated</text>
<line x1="155.7" y1="665.77" x2="169.2" y2="665.77" stroke="#3a9a4a" stroke-width="1.5" />
<text x="171.8" y="667.87" font-size="6" fill="#333">200 &#176;C 1h</text>
<line x1="155.7" y1="672.94" x2="169.2" y2="672.94" stroke="#e03a3a" stroke-width="1.5" />
<text x="171.8" y="675.04" font-size="6" fill="#333">200 &#176;C 48 h</text>
<line x1="155.7" y1="680.11" x2="169.2" y2="680.11" stroke="#3a5ad0" stroke-width="1.5" />
<text x="171.8" y="682.21" font-size="6" fill="#333">200 &#176;C 170 h</text>
<rect x="28" y="545.4" width="181.6" height="141.6" fill="none" stroke="#555" stroke-width="1"/>
<line x1="28" y1="686.4" x2="25" y2="686.4" stroke="#555" stroke-width="0.9" />
<line x1="28" y1="672.25" x2="26.2" y2="672.25" stroke="#555" stroke-width="0.9" />
<line x1="28" y1="663.98" x2="26.2" y2="663.98" stroke="#555" stroke-width="0.9" />
<line x1="28" y1="658.1" x2="26.2" y2="658.1" stroke="#555" stroke-width="0.9" />
<line x1="28" y1="653.55" x2="26.2" y2="653.55" stroke="#555" stroke-width="0.9" />
<line x1="28" y1="649.83" x2="26.2" y2="649.83" stroke="#555" stroke-width="0.9" />
<line x1="28" y1="646.68" x2="26.2" y2="646.68" stroke="#555" stroke-width="0.9" />
<line x1="28" y1="643.95" x2="26.2" y2="643.95" stroke="#555" stroke-width="0.9" />
<line x1="28" y1="641.55" x2="26.2" y2="641.55" stroke="#555" stroke-width="0.9" />
<line x1="28" y1="639.4" x2="25" y2="639.4" stroke="#555" stroke-width="0.9" />
<line x1="28" y1="625.25" x2="26.2" y2="625.25" stroke="#555" stroke-width="0.9" />
<line x1="28" y1="616.98" x2="26.2" y2="616.98" stroke="#555" stroke-width="0.9" />
<line x1="28" y1="611.1" x2="26.2" y2="611.1" stroke="#555" stroke-width="0.9" />
<line x1="28" y1="606.55" x2="26.2" y2="606.55" stroke="#555" stroke-width="0.9" />
<line x1="28" y1="602.83" x2="26.2" y2="602.83" stroke="#555" stroke-width="0.9" />
<line x1="28" y1="599.68" x2="26.2" y2="599.68" stroke="#555" stroke-width="0.9" />
<line x1="28" y1="596.95" x2="26.2" y2="596.95" stroke="#555" stroke-width="0.9" />
<line x1="28" y1="594.55" x2="26.2" y2="594.55" stroke="#555" stroke-width="0.9" />
<line x1="28" y1="592.4" x2="25" y2="592.4" stroke="#555" stroke-width="0.9" />
<line x1="28" y1="578.25" x2="26.2" y2="578.25" stroke="#555" stroke-width="0.9" />
<line x1="28" y1="569.98" x2="26.2" y2="569.98" stroke="#555" stroke-width="0.9" />
<line x1="28" y1="564.1" x2="26.2" y2="564.1" stroke="#555" stroke-width="0.9" />
<line x1="28" y1="559.55" x2="26.2" y2="559.55" stroke="#555" stroke-width="0.9" />
<line x1="28" y1="555.83" x2="26.2" y2="555.83" stroke="#555" stroke-width="0.9" />
<line x1="28" y1="552.68" x2="26.2" y2="552.68" stroke="#555" stroke-width="0.9" />
<line x1="28" y1="549.95" x2="26.2" y2="549.95" stroke="#555" stroke-width="0.9" />
<line x1="28" y1="547.55" x2="26.2" y2="547.55" stroke="#555" stroke-width="0.9" />
<line x1="28" y1="545.4" x2="25" y2="545.4" stroke="#555" stroke-width="0.9" />
<line x1="28.6" y1="687" x2="28.6" y2="689.6" stroke="#555" stroke-width="0.9" />
<line x1="38.65" y1="687" x2="38.65" y2="688.6" stroke="#555" stroke-width="0.9" />
<line x1="48.7" y1="687" x2="48.7" y2="689.6" stroke="#555" stroke-width="0.9" />
<line x1="58.75" y1="687" x2="58.75" y2="688.6" stroke="#555" stroke-width="0.9" />
<line x1="68.8" y1="687" x2="68.8" y2="689.6" stroke="#555" stroke-width="0.9" />
<line x1="78.85" y1="687" x2="78.85" y2="688.6" stroke="#555" stroke-width="0.9" />
<line x1="88.9" y1="687" x2="88.9" y2="689.6" stroke="#555" stroke-width="0.9" />
<line x1="98.95" y1="687" x2="98.95" y2="688.6" stroke="#555" stroke-width="0.9" />
<line x1="109" y1="687" x2="109" y2="689.6" stroke="#555" stroke-width="0.9" />
<line x1="119.05" y1="687" x2="119.05" y2="688.6" stroke="#555" stroke-width="0.9" />
<line x1="129.1" y1="687" x2="129.1" y2="689.6" stroke="#555" stroke-width="0.9" />
<line x1="139.15" y1="687" x2="139.15" y2="688.6" stroke="#555" stroke-width="0.9" />
<line x1="149.2" y1="687" x2="149.2" y2="689.6" stroke="#555" stroke-width="0.9" />
<line x1="159.25" y1="687" x2="159.25" y2="688.6" stroke="#555" stroke-width="0.9" />
<line x1="169.3" y1="687" x2="169.3" y2="689.6" stroke="#555" stroke-width="0.9" />
<line x1="179.35" y1="687" x2="179.35" y2="688.6" stroke="#555" stroke-width="0.9" />
<line x1="189.4" y1="687" x2="189.4" y2="689.6" stroke="#555" stroke-width="0.9" />
<line x1="199.45" y1="687" x2="199.45" y2="688.6" stroke="#555" stroke-width="0.9" />
<line x1="209.5" y1="687" x2="209.5" y2="689.6" stroke="#555" stroke-width="0.9" />
<text x="28.6" y="699.8" font-size="8.6" text-anchor="middle" fill="#231f20">0</text>
<text x="48.7" y="699.8" font-size="8.6" text-anchor="middle" fill="#231f20">120</text>
<text x="68.8" y="699.8" font-size="8.6" text-anchor="middle" fill="#231f20">240</text>
<text x="88.9" y="699.8" font-size="8.6" text-anchor="middle" fill="#231f20">360</text>
<text x="109" y="699.8" font-size="8.6" text-anchor="middle" fill="#231f20">480</text>
<text x="129.1" y="699.8" font-size="8.6" text-anchor="middle" fill="#231f20">600</text>
<text x="149.2" y="699.8" font-size="8.6" text-anchor="middle" fill="#231f20">720</text>
<text x="169.3" y="699.8" font-size="8.6" text-anchor="middle" fill="#231f20">840</text>
<text x="189.4" y="699.8" font-size="8.6" text-anchor="middle" fill="#231f20">960</text>
<text x="209.5" y="699.8" font-size="8.6" text-anchor="middle" fill="#231f20">1080</text>
<text x="24" y="689.4" font-size="8.6" text-anchor="end" fill="#231f20">10<tspan font-size="5.6" dy="-3.5">4</tspan><tspan dy="3.5"></tspan></text>
<text x="24" y="642.4" font-size="8.6" text-anchor="end" fill="#231f20">10<tspan font-size="5.6" dy="-3.5">5</tspan><tspan dy="3.5"></tspan></text>
<text x="24" y="595.4" font-size="8.6" text-anchor="end" fill="#231f20">10<tspan font-size="5.6" dy="-3.5">6</tspan><tspan dy="3.5"></tspan></text>
<text x="24" y="548.4" font-size="8.6" text-anchor="end" fill="#231f20">10<tspan font-size="5.6" dy="-3.5">7</tspan><tspan dy="3.5"></tspan></text>
<text x="107.7" y="710.6" font-size="8.6" text-anchor="middle" fill="#231f20">Time [min]</text>
<text x="8.4" y="616" font-size="8.6" text-anchor="middle" fill="#231f20" transform="rotate(-90 8.4 616)">Resistance [&#937;]</text>
<text x="-0.6" y="550.6" font-size="14" font-weight="bold" fill="#231f20">i</text>
<rect x="243" y="542.2" width="193.3" height="141.2" fill="none" stroke="#555" stroke-width="1"/>
<line x1="243" y1="682.45" x2="241.2" y2="682.45" stroke="#555" stroke-width="0.9" />
<line x1="243" y1="670.19" x2="241.2" y2="670.19" stroke="#555" stroke-width="0.9" />
<line x1="243" y1="661.5" x2="241.2" y2="661.5" stroke="#555" stroke-width="0.9" />
<line x1="243" y1="654.75" x2="241.2" y2="654.75" stroke="#555" stroke-width="0.9" />
<line x1="243" y1="649.24" x2="241.2" y2="649.24" stroke="#555" stroke-width="0.9" />
<line x1="243" y1="644.58" x2="241.2" y2="644.58" stroke="#555" stroke-width="0.9" />
<line x1="243" y1="640.54" x2="241.2" y2="640.54" stroke="#555" stroke-width="0.9" />
<line x1="243" y1="636.98" x2="241.2" y2="636.98" stroke="#555" stroke-width="0.9" />
<line x1="243" y1="633.8" x2="240" y2="633.8" stroke="#555" stroke-width="0.9" />
<line x1="243" y1="612.85" x2="241.2" y2="612.85" stroke="#555" stroke-width="0.9" />
<line x1="243" y1="600.59" x2="241.2" y2="600.59" stroke="#555" stroke-width="0.9" />
<line x1="243" y1="591.9" x2="241.2" y2="591.9" stroke="#555" stroke-width="0.9" />
<line x1="243" y1="585.15" x2="241.2" y2="585.15" stroke="#555" stroke-width="0.9" />
<line x1="243" y1="579.64" x2="241.2" y2="579.64" stroke="#555" stroke-width="0.9" />
<line x1="243" y1="574.98" x2="241.2" y2="574.98" stroke="#555" stroke-width="0.9" />
<line x1="243" y1="570.94" x2="241.2" y2="570.94" stroke="#555" stroke-width="0.9" />
<line x1="243" y1="567.38" x2="241.2" y2="567.38" stroke="#555" stroke-width="0.9" />
<line x1="243" y1="564.2" x2="240" y2="564.2" stroke="#555" stroke-width="0.9" />
<line x1="243" y1="543.25" x2="241.2" y2="543.25" stroke="#555" stroke-width="0.9" />
<line x1="247" y1="683.4" x2="247" y2="686" stroke="#555" stroke-width="0.9" />
<line x1="254" y1="683.4" x2="254" y2="685" stroke="#555" stroke-width="0.9" />
<line x1="261" y1="683.4" x2="261" y2="686" stroke="#555" stroke-width="0.9" />
<line x1="268" y1="683.4" x2="268" y2="685" stroke="#555" stroke-width="0.9" />
<line x1="275" y1="683.4" x2="275" y2="686" stroke="#555" stroke-width="0.9" />
<line x1="282" y1="683.4" x2="282" y2="685" stroke="#555" stroke-width="0.9" />
<line x1="289" y1="683.4" x2="289" y2="686" stroke="#555" stroke-width="0.9" />
<line x1="296" y1="683.4" x2="296" y2="685" stroke="#555" stroke-width="0.9" />
<line x1="303" y1="683.4" x2="303" y2="686" stroke="#555" stroke-width="0.9" />
<line x1="310" y1="683.4" x2="310" y2="685" stroke="#555" stroke-width="0.9" />
<line x1="317" y1="683.4" x2="317" y2="686" stroke="#555" stroke-width="0.9" />
<line x1="324" y1="683.4" x2="324" y2="685" stroke="#555" stroke-width="0.9" />
<line x1="331" y1="683.4" x2="331" y2="686" stroke="#555" stroke-width="0.9" />
<line x1="338" y1="683.4" x2="338" y2="685" stroke="#555" stroke-width="0.9" />
<line x1="345" y1="683.4" x2="345" y2="686" stroke="#555" stroke-width="0.9" />
<line x1="352" y1="683.4" x2="352" y2="685" stroke="#555" stroke-width="0.9" />
<line x1="359" y1="683.4" x2="359" y2="686" stroke="#555" stroke-width="0.9" />
<line x1="366" y1="683.4" x2="366" y2="685" stroke="#555" stroke-width="0.9" />
<line x1="373" y1="683.4" x2="373" y2="686" stroke="#555" stroke-width="0.9" />
<line x1="380" y1="683.4" x2="380" y2="685" stroke="#555" stroke-width="0.9" />
<line x1="387" y1="683.4" x2="387" y2="686" stroke="#555" stroke-width="0.9" />
<line x1="394" y1="683.4" x2="394" y2="685" stroke="#555" stroke-width="0.9" />
<line x1="401" y1="683.4" x2="401" y2="686" stroke="#555" stroke-width="0.9" />
<line x1="408" y1="683.4" x2="408" y2="685" stroke="#555" stroke-width="0.9" />
<line x1="415" y1="683.4" x2="415" y2="686" stroke="#555" stroke-width="0.9" />
<line x1="422" y1="683.4" x2="422" y2="685" stroke="#555" stroke-width="0.9" />
<line x1="429" y1="683.4" x2="429" y2="686" stroke="#555" stroke-width="0.9" />
<text x="247" y="697.3" font-size="8.6" text-anchor="middle" fill="#231f20">0</text>
<text x="261" y="697.3" font-size="8.6" text-anchor="middle" fill="#231f20">4</text>
<text x="275" y="697.3" font-size="8.6" text-anchor="middle" fill="#231f20">8</text>
<text x="289" y="697.3" font-size="8.6" text-anchor="middle" fill="#231f20">12</text>
<text x="303" y="697.3" font-size="8.6" text-anchor="middle" fill="#231f20">16</text>
<text x="317" y="697.3" font-size="8.6" text-anchor="middle" fill="#231f20">20</text>
<text x="331" y="697.3" font-size="8.6" text-anchor="middle" fill="#231f20">24</text>
<text x="345" y="697.3" font-size="8.6" text-anchor="middle" fill="#231f20">28</text>
<text x="359" y="697.3" font-size="8.6" text-anchor="middle" fill="#231f20">32</text>
<text x="373" y="697.3" font-size="8.6" text-anchor="middle" fill="#231f20">36</text>
<text x="387" y="697.3" font-size="8.6" text-anchor="middle" fill="#231f20">40</text>
<text x="401" y="697.3" font-size="8.6" text-anchor="middle" fill="#231f20">44</text>
<text x="415" y="697.3" font-size="8.6" text-anchor="middle" fill="#231f20">48</text>
<text x="429" y="697.3" font-size="8.6" text-anchor="middle" fill="#231f20">52</text>
<text x="238.8" y="567.3" font-size="8.6" text-anchor="end" fill="#231f20">10<tspan font-size="5.6" dy="-3.5">6</tspan><tspan dy="3.5"></tspan></text>
<text x="238.8" y="636.9" font-size="8.6" text-anchor="end" fill="#231f20">10<tspan font-size="5.6" dy="-3.5">5</tspan><tspan dy="3.5"></tspan></text>
<text x="340.5" y="710.6" font-size="8.6" text-anchor="middle" fill="#231f20">Week number</text>
<text x="219" y="612" font-size="8.6" text-anchor="middle" fill="#231f20" transform="rotate(-90 219 612)">Resistance [&#937;]</text>
<text x="215.4" y="550.2" font-size="14" font-weight="bold" fill="#231f20">j</text>
<text x="248.8" y="555.9" font-size="8.7" fill="#231f20">OT 100&#176;C</text>
<text x="248.8" y="569.2" font-size="8.7" fill="#231f20">Air 40% RH</text>
<text x="433.4" y="577.4" font-size="8.85" text-anchor="end" fill="#2a2af0">NO<tspan font-size="5.6" dy="1.8">2</tspan><tspan dy="-1.8"> 1 ppm - RR = 3.2 &#177; 0.2</tspan></text>
<text x="435.2" y="615.2" font-size="8.6" text-anchor="end" fill="#231f20">BLR &#177; 5%</text>
<text x="432.8" y="660.8" font-size="8.85" text-anchor="end" fill="#ee2a2a">H<tspan font-size="5.6" dy="1.8">2</tspan><tspan dy="-1.8"> 100 ppm - RR = 2.0 &#177; 0.3</tspan></text>
<polyline points="250.5,589.7 261,589.2 275,589.7 289,589.1 303,589.7 331,590.6 345,589.5 373,590.6 394,590.2 415,590.6 429,591.5" fill="none" stroke="#2a2af0" stroke-width="0.9" stroke-linejoin="round" stroke-linecap="round" />
<line x1="250.5" y1="586.1" x2="250.5" y2="593.3" stroke="#2a2af0" stroke-width="0.8" />
<line x1="249.2" y1="586.1" x2="251.8" y2="586.1" stroke="#2a2af0" stroke-width="0.8" />
<line x1="249.2" y1="593.3" x2="251.8" y2="593.3" stroke="#2a2af0" stroke-width="0.8" />
<circle cx="250.5" cy="589.7" r="1.5" fill="#2a2af0" />
<line x1="261" y1="585.6" x2="261" y2="592.8" stroke="#2a2af0" stroke-width="0.8" />
<line x1="259.7" y1="585.6" x2="262.3" y2="585.6" stroke="#2a2af0" stroke-width="0.8" />
<line x1="259.7" y1="592.8" x2="262.3" y2="592.8" stroke="#2a2af0" stroke-width="0.8" />
<circle cx="261" cy="589.2" r="1.5" fill="#2a2af0" />
<line x1="275" y1="586.1" x2="275" y2="593.3" stroke="#2a2af0" stroke-width="0.8" />
<line x1="273.7" y1="586.1" x2="276.3" y2="586.1" stroke="#2a2af0" stroke-width="0.8" />
<line x1="273.7" y1="593.3" x2="276.3" y2="593.3" stroke="#2a2af0" stroke-width="0.8" />
<circle cx="275" cy="589.7" r="1.5" fill="#2a2af0" />
<line x1="289" y1="585.5" x2="289" y2="592.7" stroke="#2a2af0" stroke-width="0.8" />
<line x1="287.7" y1="585.5" x2="290.3" y2="585.5" stroke="#2a2af0" stroke-width="0.8" />
<line x1="287.7" y1="592.7" x2="290.3" y2="592.7" stroke="#2a2af0" stroke-width="0.8" />
<circle cx="289" cy="589.1" r="1.5" fill="#2a2af0" />
<line x1="303" y1="586.1" x2="303" y2="593.3" stroke="#2a2af0" stroke-width="0.8" />
<line x1="301.7" y1="586.1" x2="304.3" y2="586.1" stroke="#2a2af0" stroke-width="0.8" />
<line x1="301.7" y1="593.3" x2="304.3" y2="593.3" stroke="#2a2af0" stroke-width="0.8" />
<circle cx="303" cy="589.7" r="1.5" fill="#2a2af0" />
<line x1="331" y1="587" x2="331" y2="594.2" stroke="#2a2af0" stroke-width="0.8" />
<line x1="329.7" y1="587" x2="332.3" y2="587" stroke="#2a2af0" stroke-width="0.8" />
<line x1="329.7" y1="594.2" x2="332.3" y2="594.2" stroke="#2a2af0" stroke-width="0.8" />
<circle cx="331" cy="590.6" r="1.5" fill="#2a2af0" />
<line x1="345" y1="585.9" x2="345" y2="593.1" stroke="#2a2af0" stroke-width="0.8" />
<line x1="343.7" y1="585.9" x2="346.3" y2="585.9" stroke="#2a2af0" stroke-width="0.8" />
<line x1="343.7" y1="593.1" x2="346.3" y2="593.1" stroke="#2a2af0" stroke-width="0.8" />
<circle cx="345" cy="589.5" r="1.5" fill="#2a2af0" />
<line x1="373" y1="587" x2="373" y2="594.2" stroke="#2a2af0" stroke-width="0.8" />
<line x1="371.7" y1="587" x2="374.3" y2="587" stroke="#2a2af0" stroke-width="0.8" />
<line x1="371.7" y1="594.2" x2="374.3" y2="594.2" stroke="#2a2af0" stroke-width="0.8" />
<circle cx="373" cy="590.6" r="1.5" fill="#2a2af0" />
<line x1="394" y1="586.6" x2="394" y2="593.8" stroke="#2a2af0" stroke-width="0.8" />
<line x1="392.7" y1="586.6" x2="395.3" y2="586.6" stroke="#2a2af0" stroke-width="0.8" />
<line x1="392.7" y1="593.8" x2="395.3" y2="593.8" stroke="#2a2af0" stroke-width="0.8" />
<circle cx="394" cy="590.2" r="1.5" fill="#2a2af0" />
<line x1="415" y1="587" x2="415" y2="594.2" stroke="#2a2af0" stroke-width="0.8" />
<line x1="413.7" y1="587" x2="416.3" y2="587" stroke="#2a2af0" stroke-width="0.8" />
<line x1="413.7" y1="594.2" x2="416.3" y2="594.2" stroke="#2a2af0" stroke-width="0.8" />
<circle cx="415" cy="590.6" r="1.5" fill="#2a2af0" />
<line x1="429" y1="587.9" x2="429" y2="595.1" stroke="#2a2af0" stroke-width="0.8" />
<line x1="427.7" y1="587.9" x2="430.3" y2="587.9" stroke="#2a2af0" stroke-width="0.8" />
<line x1="427.7" y1="595.1" x2="430.3" y2="595.1" stroke="#2a2af0" stroke-width="0.8" />
<circle cx="429" cy="591.5" r="1.5" fill="#2a2af0" />
<polyline points="250.5,627 261,626.2 275,625.6 289,626.4 303,626.8 331,627.4 345,626.2 373,626.2 394,627.2 415,626.8 429,626.2" fill="none" stroke="#222" stroke-width="0.9" stroke-linejoin="round" stroke-linecap="round" />
<line x1="250.5" y1="624.7" x2="250.5" y2="629.3" stroke="#222" stroke-width="0.8" />
<line x1="249.2" y1="624.7" x2="251.8" y2="624.7" stroke="#222" stroke-width="0.8" />
<line x1="249.2" y1="629.3" x2="251.8" y2="629.3" stroke="#222" stroke-width="0.8" />
<circle cx="250.5" cy="627" r="1.5" fill="#222" />
<line x1="261" y1="623.9" x2="261" y2="628.5" stroke="#222" stroke-width="0.8" />
<line x1="259.7" y1="623.9" x2="262.3" y2="623.9" stroke="#222" stroke-width="0.8" />
<line x1="259.7" y1="628.5" x2="262.3" y2="628.5" stroke="#222" stroke-width="0.8" />
<circle cx="261" cy="626.2" r="1.5" fill="#222" />
<line x1="275" y1="623.3" x2="275" y2="627.9" stroke="#222" stroke-width="0.8" />
<line x1="273.7" y1="623.3" x2="276.3" y2="623.3" stroke="#222" stroke-width="0.8" />
<line x1="273.7" y1="627.9" x2="276.3" y2="627.9" stroke="#222" stroke-width="0.8" />
<circle cx="275" cy="625.6" r="1.5" fill="#222" />
<line x1="289" y1="624.1" x2="289" y2="628.7" stroke="#222" stroke-width="0.8" />
<line x1="287.7" y1="624.1" x2="290.3" y2="624.1" stroke="#222" stroke-width="0.8" />
<line x1="287.7" y1="628.7" x2="290.3" y2="628.7" stroke="#222" stroke-width="0.8" />
<circle cx="289" cy="626.4" r="1.5" fill="#222" />
<line x1="303" y1="624.5" x2="303" y2="629.1" stroke="#222" stroke-width="0.8" />
<line x1="301.7" y1="624.5" x2="304.3" y2="624.5" stroke="#222" stroke-width="0.8" />
<line x1="301.7" y1="629.1" x2="304.3" y2="629.1" stroke="#222" stroke-width="0.8" />
<circle cx="303" cy="626.8" r="1.5" fill="#222" />
<line x1="331" y1="625.1" x2="331" y2="629.7" stroke="#222" stroke-width="0.8" />
<line x1="329.7" y1="625.1" x2="332.3" y2="625.1" stroke="#222" stroke-width="0.8" />
<line x1="329.7" y1="629.7" x2="332.3" y2="629.7" stroke="#222" stroke-width="0.8" />
<circle cx="331" cy="627.4" r="1.5" fill="#222" />
<line x1="345" y1="623.9" x2="345" y2="628.5" stroke="#222" stroke-width="0.8" />
<line x1="343.7" y1="623.9" x2="346.3" y2="623.9" stroke="#222" stroke-width="0.8" />
<line x1="343.7" y1="628.5" x2="346.3" y2="628.5" stroke="#222" stroke-width="0.8" />
<circle cx="345" cy="626.2" r="1.5" fill="#222" />
<line x1="373" y1="623.9" x2="373" y2="628.5" stroke="#222" stroke-width="0.8" />
<line x1="371.7" y1="623.9" x2="374.3" y2="623.9" stroke="#222" stroke-width="0.8" />
<line x1="371.7" y1="628.5" x2="374.3" y2="628.5" stroke="#222" stroke-width="0.8" />
<circle cx="373" cy="626.2" r="1.5" fill="#222" />
<line x1="394" y1="624.9" x2="394" y2="629.5" stroke="#222" stroke-width="0.8" />
<line x1="392.7" y1="624.9" x2="395.3" y2="624.9" stroke="#222" stroke-width="0.8" />
<line x1="392.7" y1="629.5" x2="395.3" y2="629.5" stroke="#222" stroke-width="0.8" />
<circle cx="394" cy="627.2" r="1.5" fill="#222" />
<line x1="415" y1="624.5" x2="415" y2="629.1" stroke="#222" stroke-width="0.8" />
<line x1="413.7" y1="624.5" x2="416.3" y2="624.5" stroke="#222" stroke-width="0.8" />
<line x1="413.7" y1="629.1" x2="416.3" y2="629.1" stroke="#222" stroke-width="0.8" />
<circle cx="415" cy="626.8" r="1.5" fill="#222" />
<line x1="429" y1="623.9" x2="429" y2="628.5" stroke="#222" stroke-width="0.8" />
<line x1="427.7" y1="623.9" x2="430.3" y2="623.9" stroke="#222" stroke-width="0.8" />
<line x1="427.7" y1="628.5" x2="430.3" y2="628.5" stroke="#222" stroke-width="0.8" />
<circle cx="429" cy="626.2" r="1.5" fill="#222" />
<polyline points="250.5,643.8 261,641.2 275,641.6 289,641.2 303,641.6 331,641.6 345,641.6 373,641.6 394,641.6 415,641.9 429,642.3" fill="none" stroke="#ee2a2a" stroke-width="0.9" stroke-linejoin="round" stroke-linecap="round" />
<line x1="250.5" y1="639.8" x2="250.5" y2="647.8" stroke="#ee2a2a" stroke-width="0.8" />
<line x1="249.2" y1="639.8" x2="251.8" y2="639.8" stroke="#ee2a2a" stroke-width="0.8" />
<line x1="249.2" y1="647.8" x2="251.8" y2="647.8" stroke="#ee2a2a" stroke-width="0.8" />
<circle cx="250.5" cy="643.8" r="1.5" fill="#ee2a2a" />
<line x1="261" y1="637.2" x2="261" y2="645.2" stroke="#ee2a2a" stroke-width="0.8" />
<line x1="259.7" y1="637.2" x2="262.3" y2="637.2" stroke="#ee2a2a" stroke-width="0.8" />
<line x1="259.7" y1="645.2" x2="262.3" y2="645.2" stroke="#ee2a2a" stroke-width="0.8" />
<circle cx="261" cy="641.2" r="1.5" fill="#ee2a2a" />
<line x1="275" y1="637.6" x2="275" y2="645.6" stroke="#ee2a2a" stroke-width="0.8" />
<line x1="273.7" y1="637.6" x2="276.3" y2="637.6" stroke="#ee2a2a" stroke-width="0.8" />
<line x1="273.7" y1="645.6" x2="276.3" y2="645.6" stroke="#ee2a2a" stroke-width="0.8" />
<circle cx="275" cy="641.6" r="1.5" fill="#ee2a2a" />
<line x1="289" y1="637.2" x2="289" y2="645.2" stroke="#ee2a2a" stroke-width="0.8" />
<line x1="287.7" y1="637.2" x2="290.3" y2="637.2" stroke="#ee2a2a" stroke-width="0.8" />
<line x1="287.7" y1="645.2" x2="290.3" y2="645.2" stroke="#ee2a2a" stroke-width="0.8" />
<circle cx="289" cy="641.2" r="1.5" fill="#ee2a2a" />
<line x1="303" y1="637.6" x2="303" y2="645.6" stroke="#ee2a2a" stroke-width="0.8" />
<line x1="301.7" y1="637.6" x2="304.3" y2="637.6" stroke="#ee2a2a" stroke-width="0.8" />
<line x1="301.7" y1="645.6" x2="304.3" y2="645.6" stroke="#ee2a2a" stroke-width="0.8" />
<circle cx="303" cy="641.6" r="1.5" fill="#ee2a2a" />
<line x1="331" y1="637.6" x2="331" y2="645.6" stroke="#ee2a2a" stroke-width="0.8" />
<line x1="329.7" y1="637.6" x2="332.3" y2="637.6" stroke="#ee2a2a" stroke-width="0.8" />
<line x1="329.7" y1="645.6" x2="332.3" y2="645.6" stroke="#ee2a2a" stroke-width="0.8" />
<circle cx="331" cy="641.6" r="1.5" fill="#ee2a2a" />
<line x1="345" y1="637.6" x2="345" y2="645.6" stroke="#ee2a2a" stroke-width="0.8" />
<line x1="343.7" y1="637.6" x2="346.3" y2="637.6" stroke="#ee2a2a" stroke-width="0.8" />
<line x1="343.7" y1="645.6" x2="346.3" y2="645.6" stroke="#ee2a2a" stroke-width="0.8" />
<circle cx="345" cy="641.6" r="1.5" fill="#ee2a2a" />
<line x1="373" y1="637.6" x2="373" y2="645.6" stroke="#ee2a2a" stroke-width="0.8" />
<line x1="371.7" y1="637.6" x2="374.3" y2="637.6" stroke="#ee2a2a" stroke-width="0.8" />
<line x1="371.7" y1="645.6" x2="374.3" y2="645.6" stroke="#ee2a2a" stroke-width="0.8" />
<circle cx="373" cy="641.6" r="1.5" fill="#ee2a2a" />
<line x1="394" y1="637.6" x2="394" y2="645.6" stroke="#ee2a2a" stroke-width="0.8" />
<line x1="392.7" y1="637.6" x2="395.3" y2="637.6" stroke="#ee2a2a" stroke-width="0.8" />
<line x1="392.7" y1="645.6" x2="395.3" y2="645.6" stroke="#ee2a2a" stroke-width="0.8" />
<circle cx="394" cy="641.6" r="1.5" fill="#ee2a2a" />
<line x1="415" y1="637.9" x2="415" y2="645.9" stroke="#ee2a2a" stroke-width="0.8" />
<line x1="413.7" y1="637.9" x2="416.3" y2="637.9" stroke="#ee2a2a" stroke-width="0.8" />
<line x1="413.7" y1="645.9" x2="416.3" y2="645.9" stroke="#ee2a2a" stroke-width="0.8" />
<circle cx="415" cy="641.9" r="1.5" fill="#ee2a2a" />
<line x1="429" y1="638.3" x2="429" y2="646.3" stroke="#ee2a2a" stroke-width="0.8" />
<line x1="427.7" y1="638.3" x2="430.3" y2="638.3" stroke="#ee2a2a" stroke-width="0.8" />
<line x1="427.7" y1="646.3" x2="430.3" y2="646.3" stroke="#ee2a2a" stroke-width="0.8" />
<circle cx="429" cy="642.3" r="1.5" fill="#ee2a2a" />
<line x1="508.47" y1="582" x2="508.47" y2="683" stroke="#9a9a9a" stroke-width="0.9" />
<line x1="528.94" y1="582" x2="528.94" y2="683" stroke="#9a9a9a" stroke-width="0.9" />
<line x1="549.41" y1="582" x2="549.41" y2="683" stroke="#9a9a9a" stroke-width="0.9" />
<line x1="569.88" y1="582" x2="569.88" y2="683" stroke="#9a9a9a" stroke-width="0.9" />
<line x1="590.35" y1="582" x2="590.35" y2="683" stroke="#9a9a9a" stroke-width="0.9" />
<line x1="610.82" y1="582" x2="610.82" y2="683" stroke="#9a9a9a" stroke-width="0.9" />
<line x1="631.29" y1="582" x2="631.29" y2="683" stroke="#9a9a9a" stroke-width="0.9" />
<line x1="651.76" y1="582" x2="651.76" y2="683" stroke="#9a9a9a" stroke-width="0.9" />
<text x="501.34" y="680.2" font-size="8.6" fill="#333" transform="rotate(-90 501.34 680.2)">25 &#176;C</text>
<text x="521.81" y="680.2" font-size="8.6" fill="#333" transform="rotate(-90 521.81 680.2)">50 &#176;C</text>
<text x="542.27" y="680.2" font-size="8.6" fill="#333" transform="rotate(-90 542.27 680.2)">75 &#176;C</text>
<text x="562.75" y="680.2" font-size="8.6" fill="#333" transform="rotate(-90 562.75 680.2)">100 &#176;C</text>
<text x="583.22" y="680.2" font-size="8.6" fill="#333" transform="rotate(-90 583.22 680.2)">150 &#176;C</text>
<text x="603.69" y="680.2" font-size="8.6" fill="#333" transform="rotate(-90 603.69 680.2)">100 &#176;C</text>
<text x="624.16" y="680.2" font-size="8.6" fill="#333" transform="rotate(-90 624.16 680.2)">75 &#176;C</text>
<text x="644.62" y="680.2" font-size="8.6" fill="#333" transform="rotate(-90 644.62 680.2)">50 &#176;C</text>
<text x="665.1" y="680.2" font-size="8.6" fill="#333" transform="rotate(-90 665.1 680.2)">25 &#176;C</text>
<polyline points="488.3,586 489.31,585.69 490.32,585.44 491.33,585.23 492.33,585.06 493.34,584.93 494.35,584.81 495.36,584.72 496.37,584.64 497.38,584.58 498.38,584.53 499.39,584.49 500.4,584.45 501.41,584.43 502.42,584.4 503.43,584.38 504.44,584.37 505.44,584.36 506.45,584.35 507.46,584.34 508.47,584.33 508.47,596.5 509.49,596.86 510.52,597.16 511.54,597.4 512.56,597.6 513.59,597.76 514.61,597.9 515.63,598.01 516.66,598.1 517.68,598.17 518.71,598.23 519.73,598.28 520.75,598.32 521.78,598.35 522.8,598.38 523.82,598.4 524.85,598.42 525.87,598.43 526.89,598.45 527.92,598.46 528.94,598.46 528.94,613.5 529.96,612.41 530.99,611.52 532.01,610.79 533.03,610.2 534.06,609.71 535.08,609.31 536.1,608.98 537.13,608.71 538.15,608.49 539.17,608.31 540.2,608.16 541.22,608.04 542.25,607.95 543.27,607.86 544.29,607.8 545.32,607.74 546.34,607.7 547.36,607.66 548.39,607.63 549.41,607.61 549.41,617 550.43,616.37 551.46,615.85 552.48,615.42 553.5,615.07 554.53,614.79 555.55,614.55 556.57,614.36 557.6,614.21 558.62,614.08 559.64,613.97 560.67,613.89 561.69,613.82 562.72,613.76 563.74,613.71 564.76,613.67 565.79,613.64 566.81,613.62 567.83,613.6 568.86,613.58 569.88,613.56 569.88,622.8 570.9,623.05 571.93,623.26 572.95,623.43 573.97,623.57 575,623.68 576.02,623.78 577.04,623.85 578.07,623.92 579.09,623.97 580.12,624.01 581.14,624.04 582.16,624.07 583.19,624.1 584.21,624.11 585.23,624.13 586.26,624.14 587.28,624.15 588.3,624.16 589.33,624.17 590.35,624.17 590.35,614.4 591.37,613.75 592.4,613.21 593.42,612.78 594.44,612.42 595.47,612.12 596.49,611.88 597.51,611.69 598.54,611.53 599.56,611.4 600.59,611.29 601.61,611.2 602.63,611.13 603.66,611.07 604.68,611.02 605.7,610.98 606.73,610.95 607.75,610.92 608.77,610.9 609.8,610.88 610.82,610.87 610.82,605.5 611.84,605.41 612.87,605.34 613.89,605.27 614.91,605.22 615.94,605.18 616.96,605.15 617.98,605.12 619.01,605.1 620.03,605.08 621.05,605.07 622.08,605.06 623.1,605.05 624.13,605.04 625.15,605.03 626.17,605.02 627.2,605.02 628.22,605.02 629.24,605.01 630.27,605.01 631.29,605.01 631.29,597 632.31,597.09 633.34,597.16 634.36,597.23 635.38,597.28 636.41,597.32 637.43,597.35 638.45,597.38 639.48,597.4 640.5,597.42 641.52,597.43 642.55,597.44 643.57,597.45 644.6,597.46 645.62,597.47 646.64,597.48 647.67,597.48 648.69,597.48 649.71,597.49 650.74,597.49 651.76,597.49 651.76,588.5 652.78,588.41 653.81,588.34 654.83,588.27 655.85,588.22 656.88,588.18 657.9,588.15 658.92,588.12 659.95,588.1 660.97,588.08 662,588.07 663.02,588.06 664.04,588.05 665.07,588.04 666.09,588.03 667.11,588.02 668.14,588.02 669.16,588.02 670.18,588.01 671.21,588.01 672.23,588.01" fill="none" stroke="#22ee22" stroke-width="1.4" stroke-linejoin="round" stroke-linecap="round" />
<polyline points="488.3,588 489.31,588 490.32,588 491.33,588 492.33,588 493.34,588 494.35,588 495.36,588 496.37,588 497.38,588 498.38,588 499.39,588 500.4,588 501.41,588 502.42,588 503.43,588 504.44,588 505.44,588 506.45,588 507.46,588 508.47,588 508.47,597 509.49,597.27 510.52,597.49 511.54,597.68 512.56,597.83 513.59,597.95 514.61,598.05 515.63,598.13 516.66,598.2 517.68,598.25 518.71,598.3 519.73,598.33 520.75,598.36 521.78,598.39 522.8,598.41 523.82,598.43 524.85,598.44 525.87,598.45 526.89,598.46 527.92,598.47 528.94,598.47 528.94,610 529.96,609.73 530.99,609.51 532.01,609.32 533.03,609.17 534.06,609.05 535.08,608.95 536.1,608.87 537.13,608.8 538.15,608.75 539.17,608.7 540.2,608.67 541.22,608.64 542.25,608.61 543.27,608.59 544.29,608.57 545.32,608.56 546.34,608.55 547.36,608.54 548.39,608.53 549.41,608.53 549.41,613.5 550.43,612.94 551.46,612.48 552.48,612.1 553.5,611.79 554.53,611.54 555.55,611.33 556.57,611.16 557.6,611.03 558.62,610.91 559.64,610.82 560.67,610.74 561.69,610.68 562.72,610.63 563.74,610.59 564.76,610.55 565.79,610.53 566.81,610.5 567.83,610.48 568.86,610.47 569.88,610.46 569.88,629 570.9,629.25 571.93,629.46 572.95,629.63 573.97,629.77 575,629.88 576.02,629.98 577.04,630.05 578.07,630.12 579.09,630.17 580.12,630.21 581.14,630.24 582.16,630.27 583.19,630.3 584.21,630.31 585.23,630.33 586.26,630.34 587.28,630.35 588.3,630.36 589.33,630.37 590.35,630.37 590.35,618 591.37,617.18 592.4,616.52 593.42,615.97 594.44,615.52 595.47,615.16 596.49,614.86 597.51,614.61 598.54,614.41 599.56,614.24 600.59,614.11 601.61,614 602.63,613.91 603.66,613.83 604.68,613.77 605.7,613.72 606.73,613.68 607.75,613.65 608.77,613.62 609.8,613.6 610.82,613.58 610.82,607 611.84,607.09 612.87,607.16 613.89,607.23 614.91,607.28 615.94,607.32 616.96,607.35 617.98,607.38 619.01,607.4 620.03,607.42 621.05,607.43 622.08,607.44 623.1,607.45 624.13,607.46 625.15,607.47 626.17,607.48 627.2,607.48 628.22,607.48 629.24,607.49 630.27,607.49 631.29,607.49 631.29,597 632.31,597.18 633.34,597.33 634.36,597.45 635.38,597.55 636.41,597.63 637.43,597.7 638.45,597.75 639.48,597.8 640.5,597.83 641.52,597.86 642.55,597.89 643.57,597.91 644.6,597.93 645.62,597.94 646.64,597.95 647.67,597.96 648.69,597.97 649.71,597.97 650.74,597.98 651.76,597.98 651.76,588.9 652.78,588.74 653.81,588.6 654.83,588.49 655.85,588.4 656.88,588.33 657.9,588.27 658.92,588.22 659.95,588.18 660.97,588.15 662,588.12 663.02,588.1 664.04,588.08 665.07,588.07 666.09,588.05 667.11,588.04 668.14,588.04 669.16,588.03 670.18,588.02 671.21,588.02 672.23,588.02" fill="none" stroke="#ee2222" stroke-width="1.4" stroke-linejoin="round" stroke-linecap="round" />
<polyline points="488.3,589.2 489.31,589.2 490.32,589.2 491.33,589.2 492.33,589.2 493.34,589.2 494.35,589.2 495.36,589.2 496.37,589.2 497.38,589.2 498.38,589.2 499.39,589.2 500.4,589.2 501.41,589.2 502.42,589.2 503.43,589.2 504.44,589.2 505.44,589.2 506.45,589.2 507.46,589.2 508.47,589.2 508.47,598 509.49,598.18 510.52,598.33 511.54,598.45 512.56,598.55 513.59,598.63 514.61,598.7 515.63,598.75 516.66,598.8 517.68,598.83 518.71,598.86 519.73,598.89 520.75,598.91 521.78,598.93 522.8,598.94 523.82,598.95 524.85,598.96 525.87,598.97 526.89,598.97 527.92,598.98 528.94,598.98 528.94,610 529.96,609.91 530.99,609.84 532.01,609.77 533.03,609.72 534.06,609.68 535.08,609.65 536.1,609.62 537.13,609.6 538.15,609.58 539.17,609.57 540.2,609.56 541.22,609.55 542.25,609.54 543.27,609.53 544.29,609.52 545.32,609.52 546.34,609.52 547.36,609.51 548.39,609.51 549.41,609.51 549.41,618 550.43,617.35 551.46,616.81 552.48,616.38 553.5,616.02 554.53,615.72 555.55,615.48 556.57,615.29 557.6,615.13 558.62,615 559.64,614.89 560.67,614.8 561.69,614.73 562.72,614.67 563.74,614.62 564.76,614.58 565.79,614.55 566.81,614.52 567.83,614.5 568.86,614.48 569.88,614.47 569.88,632.8 570.9,631.97 571.93,631.28 572.95,630.72 573.97,630.27 575,629.89 576.02,629.59 577.04,629.33 578.07,629.13 579.09,628.96 580.12,628.82 581.14,628.71 582.16,628.62 583.19,628.54 584.21,628.48 585.23,628.43 586.26,628.39 587.28,628.35 588.3,628.33 589.33,628.3 590.35,628.28 590.35,618 591.37,617.27 592.4,616.68 593.42,616.2 594.44,615.8 595.47,615.47 596.49,615.2 597.51,614.99 598.54,614.81 599.56,614.66 600.59,614.54 601.61,614.44 602.63,614.36 603.66,614.3 604.68,614.24 605.7,614.2 606.73,614.16 607.75,614.13 608.77,614.11 609.8,614.09 610.82,614.07 610.82,607.5 611.84,607.5 612.87,607.5 613.89,607.5 614.91,607.5 615.94,607.5 616.96,607.5 617.98,607.5 619.01,607.5 620.03,607.5 621.05,607.5 622.08,607.5 623.1,607.5 624.13,607.5 625.15,607.5 626.17,607.5 627.2,607.5 628.22,607.5 629.24,607.5 630.27,607.5 631.29,607.5 631.29,598 632.31,598.09 633.34,598.16 634.36,598.23 635.38,598.28 636.41,598.32 637.43,598.35 638.45,598.38 639.48,598.4 640.5,598.42 641.52,598.43 642.55,598.44 643.57,598.45 644.6,598.46 645.62,598.47 646.64,598.48 647.67,598.48 648.69,598.48 649.71,598.49 650.74,598.49 651.76,598.49 651.76,589.5 652.78,589.32 653.81,589.17 654.83,589.05 655.85,588.95 656.88,588.87 657.9,588.8 658.92,588.75 659.95,588.7 660.97,588.67 662,588.64 663.02,588.61 664.04,588.59 665.07,588.57 666.09,588.56 667.11,588.55 668.14,588.54 669.16,588.53 670.18,588.53 671.21,588.52 672.23,588.52" fill="none" stroke="#111" stroke-width="1.4" stroke-linejoin="round" stroke-linecap="round" />
<line x1="490.6" y1="542.3" x2="516.1" y2="542.3" stroke="#22ee22" stroke-width="1.5" />
<text x="520.7" y="545.6" font-size="9.0" fill="#231f20"><tspan font-style="italic">a</tspan>-In<tspan font-size="6" dy="2">2</tspan><tspan dy="-2">O<tspan font-size="6" dy="2">3</tspan><tspan dy="-2">/In<tspan font-size="6" dy="2">2</tspan><tspan dy="-2">Se<tspan font-size="6" dy="2">3</tspan><tspan dy="-2"> after 1 Year</tspan></tspan></tspan></tspan></text>
<line x1="490.6" y1="558.2" x2="516.1" y2="558.2" stroke="#ee2222" stroke-width="1.5" />
<text x="520.7" y="561.5" font-size="9.0" fill="#231f20"><tspan font-style="italic">a</tspan>-In<tspan font-size="6" dy="2">2</tspan><tspan dy="-2">O<tspan font-size="6" dy="2">3</tspan><tspan dy="-2">/In<tspan font-size="6" dy="2">2</tspan><tspan dy="-2">Se<tspan font-size="6" dy="2">3</tspan><tspan dy="-2"> after 1 Month</tspan></tspan></tspan></tspan></text>
<line x1="490.6" y1="573.9" x2="516.1" y2="573.9" stroke="#111" stroke-width="1.5" />
<text x="520.7" y="577.2" font-size="9.0" fill="#231f20"><tspan font-style="italic">a</tspan>-In<tspan font-size="6" dy="2">2</tspan><tspan dy="-2">O<tspan font-size="6" dy="2">3</tspan><tspan dy="-2">/In<tspan font-size="6" dy="2">2</tspan><tspan dy="-2">Se<tspan font-size="6" dy="2">3</tspan><tspan dy="-2"> as annealed</tspan></tspan></tspan></tspan></text>
<rect x="487.8" y="534.1" width="184.4" height="148.9" fill="none" stroke="#555" stroke-width="1"/>
<line x1="487.8" y1="684" x2="484.8" y2="684" stroke="#555" stroke-width="0.9" />
<line x1="487.8" y1="661.66" x2="486" y2="661.66" stroke="#555" stroke-width="0.9" />
<line x1="487.8" y1="648.6" x2="486" y2="648.6" stroke="#555" stroke-width="0.9" />
<line x1="487.8" y1="639.33" x2="486" y2="639.33" stroke="#555" stroke-width="0.9" />
<line x1="487.8" y1="632.14" x2="486" y2="632.14" stroke="#555" stroke-width="0.9" />
<line x1="487.8" y1="626.26" x2="486" y2="626.26" stroke="#555" stroke-width="0.9" />
<line x1="487.8" y1="621.29" x2="486" y2="621.29" stroke="#555" stroke-width="0.9" />
<line x1="487.8" y1="616.99" x2="486" y2="616.99" stroke="#555" stroke-width="0.9" />
<line x1="487.8" y1="613.2" x2="486" y2="613.2" stroke="#555" stroke-width="0.9" />
<line x1="487.8" y1="609.8" x2="484.8" y2="609.8" stroke="#555" stroke-width="0.9" />
<line x1="487.8" y1="587.46" x2="486" y2="587.46" stroke="#555" stroke-width="0.9" />
<line x1="487.8" y1="574.4" x2="486" y2="574.4" stroke="#555" stroke-width="0.9" />
<line x1="487.8" y1="565.13" x2="486" y2="565.13" stroke="#555" stroke-width="0.9" />
<line x1="487.8" y1="557.94" x2="486" y2="557.94" stroke="#555" stroke-width="0.9" />
<line x1="487.8" y1="552.06" x2="486" y2="552.06" stroke="#555" stroke-width="0.9" />
<line x1="487.8" y1="547.09" x2="486" y2="547.09" stroke="#555" stroke-width="0.9" />
<line x1="487.8" y1="542.79" x2="486" y2="542.79" stroke="#555" stroke-width="0.9" />
<line x1="487.8" y1="539" x2="486" y2="539" stroke="#555" stroke-width="0.9" />
<line x1="487.8" y1="535.6" x2="484.8" y2="535.6" stroke="#555" stroke-width="0.9" />
<line x1="488" y1="683" x2="488" y2="685.6" stroke="#555" stroke-width="0.9" />
<line x1="498.24" y1="683" x2="498.24" y2="684.6" stroke="#555" stroke-width="0.9" />
<line x1="508.47" y1="683" x2="508.47" y2="685.6" stroke="#555" stroke-width="0.9" />
<line x1="518.71" y1="683" x2="518.71" y2="684.6" stroke="#555" stroke-width="0.9" />
<line x1="528.94" y1="683" x2="528.94" y2="685.6" stroke="#555" stroke-width="0.9" />
<line x1="539.17" y1="683" x2="539.17" y2="684.6" stroke="#555" stroke-width="0.9" />
<line x1="549.41" y1="683" x2="549.41" y2="685.6" stroke="#555" stroke-width="0.9" />
<line x1="559.64" y1="683" x2="559.64" y2="684.6" stroke="#555" stroke-width="0.9" />
<line x1="569.88" y1="683" x2="569.88" y2="685.6" stroke="#555" stroke-width="0.9" />
<line x1="580.12" y1="683" x2="580.12" y2="684.6" stroke="#555" stroke-width="0.9" />
<line x1="590.35" y1="683" x2="590.35" y2="685.6" stroke="#555" stroke-width="0.9" />
<line x1="600.59" y1="683" x2="600.59" y2="684.6" stroke="#555" stroke-width="0.9" />
<line x1="610.82" y1="683" x2="610.82" y2="685.6" stroke="#555" stroke-width="0.9" />
<line x1="621.06" y1="683" x2="621.06" y2="684.6" stroke="#555" stroke-width="0.9" />
<line x1="631.29" y1="683" x2="631.29" y2="685.6" stroke="#555" stroke-width="0.9" />
<line x1="641.52" y1="683" x2="641.52" y2="684.6" stroke="#555" stroke-width="0.9" />
<line x1="651.76" y1="683" x2="651.76" y2="685.6" stroke="#555" stroke-width="0.9" />
<line x1="662" y1="683" x2="662" y2="684.6" stroke="#555" stroke-width="0.9" />
<line x1="672.23" y1="683" x2="672.23" y2="685.6" stroke="#555" stroke-width="0.9" />
<text x="488" y="697.4" font-size="8.6" text-anchor="middle" fill="#231f20">0</text>
<text x="508.47" y="697.4" font-size="8.6" text-anchor="middle" fill="#231f20">120</text>
<text x="528.94" y="697.4" font-size="8.6" text-anchor="middle" fill="#231f20">240</text>
<text x="549.41" y="697.4" font-size="8.6" text-anchor="middle" fill="#231f20">360</text>
<text x="569.88" y="697.4" font-size="8.6" text-anchor="middle" fill="#231f20">480</text>
<text x="590.35" y="697.4" font-size="8.6" text-anchor="middle" fill="#231f20">600</text>
<text x="610.82" y="697.4" font-size="8.6" text-anchor="middle" fill="#231f20">720</text>
<text x="631.29" y="697.4" font-size="8.6" text-anchor="middle" fill="#231f20">840</text>
<text x="651.76" y="697.4" font-size="8.6" text-anchor="middle" fill="#231f20">960</text>
<text x="672.23" y="697.4" font-size="8.6" text-anchor="middle" fill="#231f20">1080</text>
<text x="483" y="687" font-size="8.6" text-anchor="end" fill="#231f20">10<tspan font-size="5.6" dy="-3.5">5</tspan><tspan dy="3.5"></tspan></text>
<text x="483" y="612.9" font-size="8.6" text-anchor="end" fill="#231f20">10<tspan font-size="5.6" dy="-3.5">6</tspan><tspan dy="3.5"></tspan></text>
<text x="483" y="538.6" font-size="8.6" text-anchor="end" fill="#231f20">10<tspan font-size="5.6" dy="-3.5">7</tspan><tspan dy="3.5"></tspan></text>
<text x="580" y="710.4" font-size="8.6" text-anchor="middle" fill="#231f20">Time [min]</text>
<text x="466.2" y="608" font-size="8.6" text-anchor="middle" fill="#231f20" transform="rotate(-90 466.2 608)">Resistance [&#937;]</text>
<text x="458.6" y="550.5" font-size="14" font-weight="bold" fill="#231f20">l</text>
</svg>
</body></html>
